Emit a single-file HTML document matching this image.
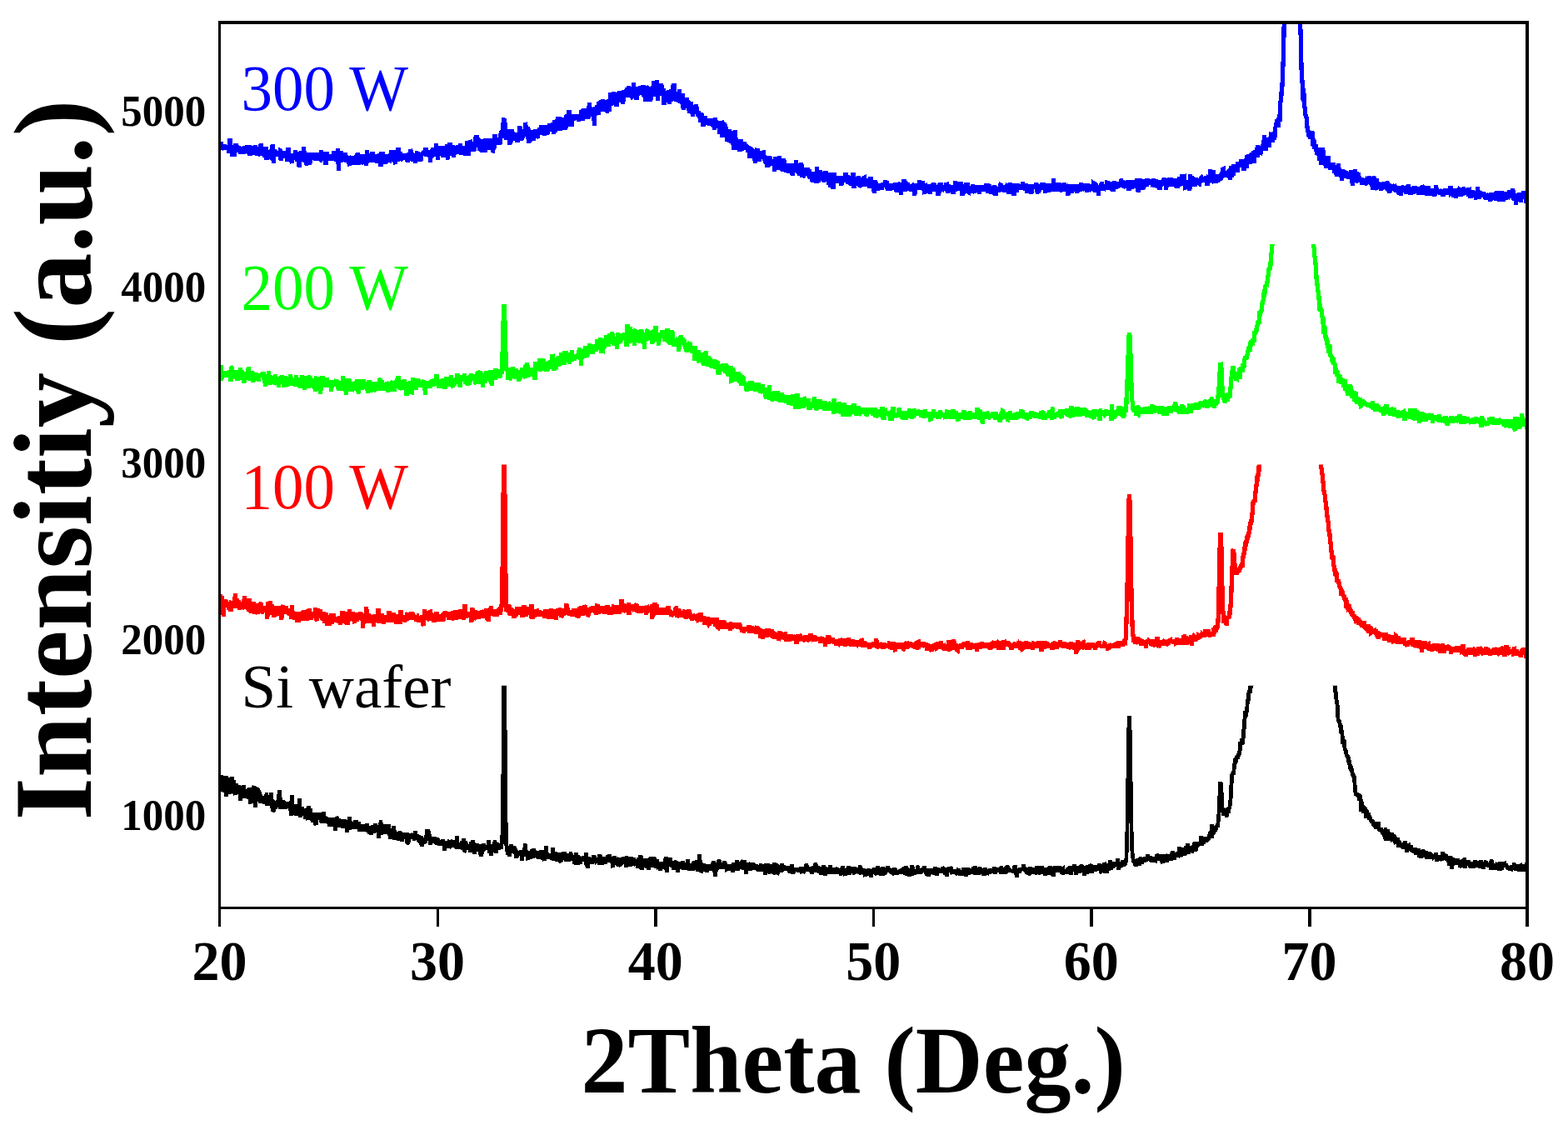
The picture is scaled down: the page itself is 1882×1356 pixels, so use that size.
<!DOCTYPE html>
<html><head><meta charset="utf-8"><title>XRD</title>
<style>
html,body{margin:0;padding:0;background:#fff;}
svg{display:block;}
text{font-family:"Liberation Serif","Times New Roman",serif;}
</style></head>
<body>
<svg width="1882" height="1356" viewBox="0 0 1882 1356">
<rect x="0" y="0" width="1882" height="1356" fill="#fff"/>
<defs><clipPath id="c0"><rect x="263.5" y="27.0" width="1569.5" height="1062.5"/></clipPath><clipPath id="c1"><rect x="263.5" y="292.9" width="1569.5" height="796.6"/></clipPath><clipPath id="c2"><rect x="263.5" y="557.6" width="1569.5" height="531.9"/></clipPath><clipPath id="c3"><rect x="263.5" y="822.7" width="1569.5" height="266.79999999999995"/></clipPath></defs>
<g clip-path="url(#c0)"><polyline shape-rendering="crispEdges" fill="none" stroke="#0000ff" stroke-width="5.3" stroke-linejoin="miter" stroke-miterlimit="2" points="263.5,177.0 264.0,179.2 264.5,177.2 265.1,170.1 265.6,180.0 266.1,178.1 266.6,173.9 267.2,178.9 267.7,178.1 268.2,177.9 268.7,176.9 269.3,179.3 269.8,173.7 270.3,176.4 270.8,175.1 271.3,180.0 271.9,177.6 272.4,176.3 272.9,174.2 273.4,176.6 274.0,177.9 274.5,176.8 275.0,183.8 275.5,182.6 276.1,166.3 276.6,170.0 277.1,177.7 277.6,176.7 278.1,179.6 278.7,179.7 279.2,188.3 279.7,174.0 280.2,177.4 280.8,188.2 281.3,182.1 281.8,182.3 282.3,177.1 282.9,172.1 283.4,180.3 283.9,180.1 284.4,174.2 284.9,176.7 285.5,179.5 286.0,175.7 286.5,179.5 287.0,180.5 287.6,180.3 288.1,177.9 288.6,182.9 289.1,184.3 289.7,181.8 290.2,176.7 290.7,183.7 291.2,178.3 291.7,184.5 292.3,175.8 292.8,184.7 293.3,180.6 293.8,175.2 294.4,179.4 294.9,181.1 295.4,182.1 295.9,176.5 296.4,176.0 297.0,181.9 297.5,179.0 298.0,182.2 298.5,184.6 299.1,173.8 299.6,182.4 300.1,186.8 300.6,180.0 301.2,177.7 301.7,184.8 302.2,182.6 302.7,185.5 303.2,180.0 303.8,174.9 304.3,181.2 304.8,179.7 305.3,185.2 305.9,182.7 306.4,174.5 306.9,176.5 307.4,185.9 308.0,185.1 308.5,179.2 309.0,182.1 309.5,184.2 310.0,184.3 310.6,186.2 311.1,183.5 311.6,182.0 312.1,181.3 312.7,187.3 313.2,172.4 313.7,182.0 314.2,182.9 314.8,176.4 315.3,184.4 315.8,180.0 316.3,186.9 316.8,182.5 317.4,186.2 317.9,188.8 318.4,185.0 318.9,179.4 319.5,176.6 320.0,191.5 320.5,183.1 321.0,180.6 321.6,184.4 322.1,183.0 322.6,187.8 323.1,184.1 323.6,184.1 324.2,180.9 324.7,186.3 325.2,179.6 325.7,187.4 326.3,191.4 326.8,177.6 327.3,173.4 327.8,187.5 328.4,196.3 328.9,180.2 329.4,179.2 329.9,187.6 330.4,181.2 331.0,182.8 331.5,183.5 332.0,187.6 332.5,183.4 333.1,186.6 333.6,184.6 334.1,181.6 334.6,184.0 335.2,181.2 335.7,185.7 336.2,180.5 336.7,180.7 337.2,192.5 337.8,185.6 338.3,185.7 338.8,188.3 339.3,184.1 339.9,185.0 340.4,188.1 340.9,187.5 341.4,180.9 342.0,190.1 342.5,183.7 343.0,181.6 343.5,182.3 344.0,184.7 344.6,194.1 345.1,181.2 345.6,187.4 346.1,176.9 346.7,186.8 347.2,191.0 347.7,185.8 348.2,184.1 348.7,188.1 349.3,190.3 349.8,190.2 350.3,196.3 350.8,188.2 351.4,184.5 351.9,186.7 352.4,187.0 352.9,187.9 353.5,187.3 354.0,188.3 354.5,179.8 355.0,191.4 355.5,185.0 356.1,182.3 356.6,190.7 357.1,193.9 357.6,190.1 358.2,188.6 358.7,183.6 359.2,201.2 359.7,192.0 360.3,182.7 360.8,184.4 361.3,188.5 361.8,180.9 362.3,189.0 362.9,186.1 363.4,194.0 363.9,192.8 364.4,175.8 365.0,188.6 365.5,180.9 366.0,193.6 366.5,189.3 367.1,191.1 367.6,183.7 368.1,197.2 368.6,198.1 369.1,183.8 369.7,190.5 370.2,185.7 370.7,188.7 371.2,183.0 371.8,197.6 372.3,184.4 372.8,187.6 373.3,191.4 373.9,186.0 374.4,188.0 374.9,186.5 375.4,188.5 375.9,183.7 376.5,187.1 377.0,188.3 377.5,187.7 378.0,189.5 378.6,187.9 379.1,192.8 379.6,187.8 380.1,188.7 380.7,186.3 381.2,186.9 381.7,183.5 382.2,191.8 382.7,184.1 383.3,185.9 383.8,191.1 384.3,191.4 384.8,187.6 385.4,180.0 385.9,191.5 386.4,190.7 386.9,182.9 387.5,193.1 388.0,186.2 388.5,184.2 389.0,190.0 389.5,188.7 390.1,190.5 390.6,182.0 391.1,198.1 391.6,186.7 392.2,182.3 392.7,192.5 393.2,187.9 393.7,191.1 394.3,188.0 394.8,189.3 395.3,190.8 395.8,186.1 396.3,192.8 396.9,187.4 397.4,185.5 397.9,190.0 398.4,191.8 399.0,188.6 399.5,185.6 400.0,192.6 400.5,181.4 401.0,184.8 401.6,189.9 402.1,183.3 402.6,189.9 403.1,189.5 403.7,194.0 404.2,185.4 404.7,186.8 405.2,191.4 405.8,178.2 406.3,204.5 406.8,186.5 407.3,186.4 407.8,194.0 408.4,189.7 408.9,181.5 409.4,193.0 409.9,194.1 410.5,187.9 411.0,188.7 411.5,192.4 412.0,185.8 412.6,192.3 413.1,191.2 413.6,187.1 414.1,183.7 414.6,189.3 415.2,186.3 415.7,195.2 416.2,191.2 416.7,194.3 417.3,191.3 417.8,191.9 418.3,187.0 418.8,193.9 419.4,199.3 419.9,189.4 420.4,188.0 420.9,190.2 421.4,188.7 422.0,187.6 422.5,191.7 423.0,189.7 423.5,198.0 424.1,191.1 424.6,192.7 425.1,195.7 425.6,189.8 426.2,198.1 426.7,188.2 427.2,187.4 427.7,189.5 428.2,190.7 428.8,184.6 429.3,191.1 429.8,183.3 430.3,198.0 430.9,190.9 431.4,188.2 431.9,186.9 432.4,189.4 433.0,190.2 433.5,186.2 434.0,186.8 434.5,190.3 435.0,188.7 435.6,195.7 436.1,196.6 436.6,191.2 437.1,193.4 437.7,184.7 438.2,194.1 438.7,190.9 439.2,193.4 439.8,198.7 440.3,180.1 440.8,192.2 441.3,185.7 441.8,193.7 442.4,184.6 442.9,188.5 443.4,191.8 443.9,193.7 444.5,191.1 445.0,187.0 445.5,188.1 446.0,194.9 446.6,190.6 447.1,182.6 447.6,194.6 448.1,192.5 448.6,194.7 449.2,188.9 449.7,194.4 450.2,185.4 450.7,193.1 451.3,188.0 451.8,193.5 452.3,195.0 452.8,186.7 453.3,190.0 453.9,190.3 454.4,195.8 454.9,193.5 455.4,184.3 456.0,192.2 456.5,193.5 457.0,200.0 457.5,181.9 458.1,187.3 458.6,196.1 459.1,183.3 459.6,184.0 460.1,192.1 460.7,194.4 461.2,186.4 461.7,192.0 462.2,190.0 462.8,196.5 463.3,189.3 463.8,193.9 464.3,184.9 464.9,188.3 465.4,188.6 465.9,194.4 466.4,191.7 466.9,185.3 467.5,192.1 468.0,192.4 468.5,188.2 469.0,187.4 469.6,187.7 470.1,180.6 470.6,189.4 471.1,189.5 471.7,184.3 472.2,191.8 472.7,181.8 473.2,185.6 473.7,185.9 474.3,197.4 474.8,180.5 475.3,190.6 475.8,192.4 476.4,189.7 476.9,193.4 477.4,183.1 477.9,177.0 478.5,191.3 479.0,182.0 479.5,186.1 480.0,182.0 480.5,192.4 481.1,191.5 481.6,184.1 482.1,191.6 482.6,187.9 483.2,186.6 483.7,187.5 484.2,186.3 484.7,190.1 485.3,188.6 485.8,185.5 486.3,191.8 486.8,184.2 487.3,188.3 487.9,188.9 488.4,193.8 488.9,184.5 489.4,195.0 490.0,187.6 490.5,185.8 491.0,183.6 491.5,189.4 492.1,186.9 492.6,181.4 493.1,181.3 493.6,183.9 494.1,183.3 494.7,191.5 495.2,192.8 495.7,190.4 496.2,187.9 496.8,184.2 497.3,186.4 497.8,190.2 498.3,196.0 498.9,190.3 499.4,184.7 499.9,186.1 500.4,183.6 500.9,182.2 501.5,184.9 502.0,186.6 502.5,194.2 503.0,185.8 503.6,191.8 504.1,193.6 504.6,185.7 505.1,192.8 505.6,188.5 506.2,183.2 506.7,186.3 507.2,185.1 507.7,183.8 508.3,183.9 508.8,185.4 509.3,186.7 509.8,180.5 510.4,184.5 510.9,177.4 511.4,185.5 511.9,187.1 512.4,184.9 513.0,185.4 513.5,186.7 514.0,180.8 514.5,182.7 515.1,186.1 515.6,188.3 516.1,185.4 516.6,195.2 517.2,183.0 517.7,187.9 518.2,189.0 518.7,182.5 519.2,179.3 519.8,177.5 520.3,183.6 520.8,187.9 521.3,184.0 521.9,183.4 522.4,180.8 522.9,185.1 523.4,172.6 524.0,183.4 524.5,182.4 525.0,175.9 525.5,192.1 526.0,175.7 526.6,177.0 527.1,176.4 527.6,187.0 528.1,177.7 528.7,184.8 529.2,184.4 529.7,182.8 530.2,175.5 530.8,178.7 531.3,189.1 531.8,175.4 532.3,177.5 532.8,180.5 533.4,184.9 533.9,182.3 534.4,184.5 534.9,176.1 535.5,185.3 536.0,183.5 536.5,173.5 537.0,187.9 537.6,191.3 538.1,177.1 538.6,180.9 539.1,187.0 539.6,173.7 540.2,171.3 540.7,174.4 541.2,177.7 541.7,177.6 542.3,183.0 542.8,181.4 543.3,174.4 543.8,182.7 544.4,188.6 544.9,185.5 545.4,184.5 545.9,179.9 546.4,184.3 547.0,175.3 547.5,183.1 548.0,179.2 548.5,184.8 549.1,181.6 549.6,174.4 550.1,180.0 550.6,184.9 551.2,174.1 551.7,176.6 552.2,175.6 552.7,172.2 553.2,183.5 553.8,185.0 554.3,182.6 554.8,180.0 555.3,178.6 555.9,179.9 556.4,175.4 556.9,182.8 557.4,183.5 557.9,182.9 558.5,176.1 559.0,178.9 559.5,177.7 560.0,186.6 560.6,179.1 561.1,169.6 561.6,180.0 562.1,186.8 562.7,181.2 563.2,182.0 563.7,178.1 564.2,168.8 564.7,169.4 565.3,172.0 565.8,177.0 566.3,178.9 566.8,180.6 567.4,175.7 567.9,181.6 568.4,175.8 568.9,173.7 569.5,180.8 570.0,172.5 570.5,164.0 571.0,171.6 571.5,176.8 572.1,162.0 572.6,174.4 573.1,174.4 573.6,169.2 574.2,168.8 574.7,173.3 575.2,172.8 575.7,180.9 576.3,176.7 576.8,167.5 577.3,170.7 577.8,177.7 578.3,183.0 578.9,175.9 579.4,175.4 579.9,182.4 580.4,173.6 581.0,172.1 581.5,166.9 582.0,170.8 582.5,183.1 583.1,166.4 583.6,172.8 584.1,166.1 584.6,173.0 585.1,176.4 585.7,171.0 586.2,175.4 586.7,175.2 587.2,173.8 587.8,179.5 588.3,175.1 588.8,170.0 589.3,168.1 589.9,167.2 590.4,173.2 590.9,169.3 591.4,183.3 591.9,179.1 592.5,169.5 593.0,168.8 593.5,178.0 594.0,161.4 594.6,167.9 595.1,174.2 595.6,165.5 596.1,167.3 596.7,167.8 597.2,172.3 597.7,169.8 598.2,170.8 598.7,171.6 599.3,168.8 599.8,173.7 600.3,165.0 600.8,161.6 601.4,159.7 601.9,159.9 602.4,163.1 602.9,165.9 603.5,157.4 604.0,149.3 604.5,143.7 605.0,142.2 605.5,144.3 606.1,149.0 606.6,152.0 607.1,159.2 607.6,168.2 608.2,155.4 608.7,164.4 609.2,155.8 609.7,166.3 610.2,162.0 610.8,155.7 611.3,165.7 611.8,173.5 612.3,165.6 612.9,170.3 613.4,164.6 613.9,154.9 614.4,167.0 615.0,162.8 615.5,157.9 616.0,168.2 616.5,165.8 617.0,162.0 617.6,168.4 618.1,160.3 618.6,167.2 619.1,159.9 619.7,166.6 620.2,159.1 620.7,170.9 621.2,165.2 621.8,170.6 622.3,160.1 622.8,161.7 623.3,167.7 623.8,151.1 624.4,158.8 624.9,168.4 625.4,165.7 625.9,168.0 626.5,162.1 627.0,166.0 627.5,160.0 628.0,157.0 628.6,155.5 629.1,160.6 629.6,160.6 630.1,160.2 630.6,146.7 631.2,153.7 631.7,160.4 632.2,164.1 632.7,160.0 633.3,158.5 633.8,151.9 634.3,171.7 634.8,157.2 635.4,169.9 635.9,169.3 636.4,163.2 636.9,159.2 637.4,162.3 638.0,156.3 638.5,162.7 639.0,161.4 639.5,163.7 640.1,165.5 640.6,168.9 641.1,159.0 641.6,165.4 642.2,156.9 642.7,156.2 643.2,157.4 643.7,155.5 644.2,164.4 644.8,164.0 645.3,165.4 645.8,159.3 646.3,160.5 646.9,156.4 647.4,153.6 647.9,160.8 648.4,159.8 649.0,153.3 649.5,160.9 650.0,150.0 650.5,157.0 651.0,154.8 651.6,155.0 652.1,152.3 652.6,161.5 653.1,159.6 653.7,162.2 654.2,157.2 654.7,150.4 655.2,154.5 655.8,150.5 656.3,157.9 656.8,161.2 657.3,157.0 657.8,152.5 658.4,153.4 658.9,155.8 659.4,148.0 659.9,155.2 660.5,155.3 661.0,151.6 661.5,152.0 662.0,154.5 662.5,149.7 663.1,149.5 663.6,156.8 664.1,154.0 664.6,160.6 665.2,147.9 665.7,143.9 666.2,156.5 666.7,156.4 667.3,148.2 667.8,144.5 668.3,151.0 668.8,142.7 669.3,149.2 669.9,140.2 670.4,149.2 670.9,140.1 671.4,148.8 672.0,156.9 672.5,148.2 673.0,152.9 673.5,146.0 674.1,144.5 674.6,141.4 675.1,153.3 675.6,147.8 676.1,155.7 676.7,142.0 677.2,146.4 677.7,147.6 678.2,153.8 678.8,155.5 679.3,143.4 679.8,140.9 680.3,137.7 680.9,152.3 681.4,145.2 681.9,142.3 682.4,145.0 682.9,132.6 683.5,136.4 684.0,149.1 684.5,146.2 685.0,144.8 685.6,139.0 686.1,146.5 686.6,152.1 687.1,137.3 687.7,143.1 688.2,140.7 688.7,144.3 689.2,142.4 689.7,141.4 690.3,137.6 690.8,141.6 691.3,138.4 691.8,140.5 692.4,140.7 692.9,144.0 693.4,137.7 693.9,138.7 694.5,145.4 695.0,138.8 695.5,138.3 696.0,143.7 696.5,140.5 697.1,139.4 697.6,139.8 698.1,132.4 698.6,140.5 699.2,144.6 699.7,140.7 700.2,129.9 700.7,138.7 701.3,132.6 701.8,135.7 702.3,137.3 702.8,130.5 703.3,142.8 703.9,135.6 704.4,139.7 704.9,138.6 705.4,141.9 706.0,140.9 706.5,127.4 707.0,134.7 707.5,123.6 708.1,131.8 708.6,137.3 709.1,138.1 709.6,139.7 710.1,131.1 710.7,134.3 711.2,133.0 711.7,138.6 712.2,140.0 712.8,129.9 713.3,150.5 713.8,131.1 714.3,129.0 714.8,133.7 715.4,134.2 715.9,132.9 716.4,126.5 716.9,137.0 717.5,129.6 718.0,136.9 718.5,135.9 719.0,122.0 719.6,123.2 720.1,122.9 720.6,129.0 721.1,127.7 721.6,128.6 722.2,122.8 722.7,128.9 723.2,133.6 723.7,119.3 724.3,124.9 724.8,126.9 725.3,124.7 725.8,124.1 726.4,134.0 726.9,131.2 727.4,128.7 727.9,120.2 728.4,135.4 729.0,125.5 729.5,120.4 730.0,121.4 730.5,120.4 731.1,133.6 731.6,123.5 732.1,122.5 732.6,110.7 733.2,125.5 733.7,115.9 734.2,115.3 734.7,124.1 735.2,116.1 735.8,124.7 736.3,126.0 736.8,110.5 737.3,118.9 737.9,111.1 738.4,118.8 738.9,123.6 739.4,111.5 740.0,127.8 740.5,116.5 741.0,111.7 741.5,117.0 742.0,121.5 742.6,109.9 743.1,116.9 743.6,109.4 744.1,122.8 744.7,117.0 745.2,113.7 745.7,121.2 746.2,108.7 746.8,113.2 747.3,124.9 747.8,114.2 748.3,121.9 748.8,115.5 749.4,110.6 749.9,112.8 750.4,114.3 750.9,111.6 751.5,109.2 752.0,109.2 752.5,105.3 753.0,113.7 753.6,115.0 754.1,116.8 754.6,102.9 755.1,116.7 755.6,112.2 756.2,104.5 756.7,112.5 757.2,116.2 757.7,114.4 758.3,115.4 758.8,116.4 759.3,116.0 759.8,110.8 760.4,99.6 760.9,106.6 761.4,112.5 761.9,107.9 762.4,114.0 763.0,114.5 763.5,110.3 764.0,120.1 764.5,104.6 765.1,114.8 765.6,107.1 766.1,105.4 766.6,112.7 767.1,106.1 767.7,114.1 768.2,103.1 768.7,109.6 769.2,104.8 769.8,108.1 770.3,107.4 770.8,103.2 771.3,113.0 771.9,102.6 772.4,104.1 772.9,114.3 773.4,114.8 773.9,113.2 774.5,111.4 775.0,122.1 775.5,102.9 776.0,105.5 776.6,104.2 777.1,114.6 777.6,111.3 778.1,115.9 778.7,115.2 779.2,108.6 779.7,105.3 780.2,104.4 780.7,122.2 781.3,115.3 781.8,113.3 782.3,108.2 782.8,109.0 783.4,108.3 783.9,108.4 784.4,96.9 784.9,110.0 785.5,108.2 786.0,112.0 786.5,111.6 787.0,115.3 787.5,110.5 788.1,115.1 788.6,96.4 789.1,104.6 789.6,120.5 790.2,104.1 790.7,109.4 791.2,115.0 791.7,106.2 792.3,115.2 792.8,103.3 793.3,100.7 793.8,104.1 794.3,102.4 794.9,111.6 795.4,110.0 795.9,113.7 796.4,106.2 797.0,126.2 797.5,111.7 798.0,112.1 798.5,114.9 799.1,111.2 799.6,109.2 800.1,113.3 800.6,118.0 801.1,116.7 801.7,118.3 802.2,110.2 802.7,109.2 803.2,124.6 803.8,112.4 804.3,116.5 804.8,118.1 805.3,122.0 805.9,107.1 806.4,112.0 806.9,112.4 807.4,113.3 807.9,102.1 808.5,114.9 809.0,99.9 809.5,117.4 810.0,119.0 810.6,119.5 811.1,110.0 811.6,121.9 812.1,112.3 812.7,110.6 813.2,112.2 813.7,113.2 814.2,118.9 814.7,122.7 815.3,107.2 815.8,115.9 816.3,123.9 816.8,120.4 817.4,122.3 817.9,111.9 818.4,125.3 818.9,112.2 819.4,121.9 820.0,128.5 820.5,131.7 821.0,124.8 821.5,127.1 822.1,119.6 822.6,120.7 823.1,129.9 823.6,124.1 824.2,123.9 824.7,117.5 825.2,126.2 825.7,129.3 826.2,122.2 826.8,124.2 827.3,135.6 827.8,128.7 828.3,126.7 828.9,122.7 829.4,125.9 829.9,128.3 830.4,137.2 831.0,127.3 831.5,140.3 832.0,126.5 832.5,130.0 833.0,136.6 833.6,131.4 834.1,128.8 834.6,132.8 835.1,136.3 835.7,125.5 836.2,133.6 836.7,134.7 837.2,133.7 837.8,140.0 838.3,133.7 838.8,135.3 839.3,137.8 839.8,141.8 840.4,137.4 840.9,146.7 841.4,134.7 841.9,146.4 842.5,135.9 843.0,139.9 843.5,143.0 844.0,152.0 844.6,146.5 845.1,140.3 845.6,149.4 846.1,142.0 846.6,139.5 847.2,146.1 847.7,144.7 848.2,149.4 848.7,142.1 849.3,147.1 849.8,148.6 850.3,147.1 850.8,145.8 851.4,142.7 851.9,151.0 852.4,147.4 852.9,149.4 853.4,145.4 854.0,147.4 854.5,142.4 855.0,148.2 855.5,151.8 856.1,148.7 856.6,152.7 857.1,150.2 857.6,155.6 858.2,148.1 858.7,141.1 859.2,151.7 859.7,149.0 860.2,145.2 860.8,153.5 861.3,151.9 861.8,153.1 862.3,149.6 862.9,152.5 863.4,153.1 863.9,161.0 864.4,149.3 865.0,153.0 865.5,155.2 866.0,145.4 866.5,146.4 867.0,165.3 867.6,146.5 868.1,158.5 868.6,152.0 869.1,152.9 869.7,147.5 870.2,153.2 870.7,162.0 871.2,151.9 871.7,162.1 872.3,161.2 872.8,170.0 873.3,158.5 873.8,167.4 874.4,166.1 874.9,161.0 875.4,154.9 875.9,170.7 876.5,157.4 877.0,162.3 877.5,169.3 878.0,170.9 878.5,162.1 879.1,166.5 879.6,165.9 880.1,173.3 880.6,180.1 881.2,159.9 881.7,173.5 882.2,155.9 882.7,170.1 883.3,165.2 883.8,180.3 884.3,172.1 884.8,168.2 885.3,169.7 885.9,169.8 886.4,173.7 886.9,172.5 887.4,176.7 888.0,181.2 888.5,177.6 889.0,168.8 889.5,167.3 890.1,171.7 890.6,180.6 891.1,174.4 891.6,173.2 892.1,177.3 892.7,170.3 893.2,171.9 893.7,179.9 894.2,176.5 894.8,176.1 895.3,180.0 895.8,176.1 896.3,175.9 896.9,177.3 897.4,182.5 897.9,180.3 898.4,174.8 898.9,179.2 899.5,183.8 900.0,189.8 900.5,176.2 901.0,183.3 901.6,180.8 902.1,186.1 902.6,184.6 903.1,189.6 903.7,185.5 904.2,180.9 904.7,181.2 905.2,185.8 905.7,186.0 906.3,195.4 906.8,192.3 907.3,179.6 907.8,186.8 908.4,179.4 908.9,178.2 909.4,189.4 909.9,188.8 910.5,181.8 911.0,194.2 911.5,182.6 912.0,182.0 912.5,190.5 913.1,188.8 913.6,187.3 914.1,188.0 914.6,189.6 915.2,188.2 915.7,188.3 916.2,180.8 916.7,183.5 917.3,192.5 917.8,186.9 918.3,192.7 918.8,196.0 919.3,189.2 919.9,192.2 920.4,200.5 920.9,194.5 921.4,199.9 922.0,198.7 922.5,195.5 923.0,191.9 923.5,188.9 924.0,187.9 924.6,195.2 925.1,195.3 925.6,192.7 926.1,197.4 926.7,191.2 927.2,199.0 927.7,194.5 928.2,194.4 928.8,194.7 929.3,194.5 929.8,206.1 930.3,188.3 930.8,196.3 931.4,201.2 931.9,199.1 932.4,194.8 932.9,203.9 933.5,191.9 934.0,191.0 934.5,199.4 935.0,190.7 935.6,186.9 936.1,201.3 936.6,200.9 937.1,200.9 937.6,195.8 938.2,198.9 938.7,194.1 939.2,205.9 939.7,202.0 940.3,202.0 940.8,190.5 941.3,202.6 941.8,205.7 942.4,204.6 942.9,203.0 943.4,199.7 943.9,198.4 944.4,202.6 945.0,201.8 945.5,201.3 946.0,199.2 946.5,207.8 947.1,195.8 947.6,200.8 948.1,198.6 948.6,205.6 949.2,207.5 949.7,206.8 950.2,204.9 950.7,195.9 951.2,210.8 951.8,204.3 952.3,201.8 952.8,202.5 953.3,201.1 953.9,204.5 954.4,204.2 954.9,201.5 955.4,192.3 956.0,203.2 956.5,205.5 957.0,205.8 957.5,203.1 958.0,205.8 958.6,208.4 959.1,202.3 959.6,210.5 960.1,196.4 960.7,199.5 961.2,201.1 961.7,194.9 962.2,201.1 962.8,210.6 963.3,210.7 963.8,206.1 964.3,213.0 964.8,207.0 965.4,204.1 965.9,207.4 966.4,206.0 966.9,209.7 967.5,200.7 968.0,211.1 968.5,205.3 969.0,210.9 969.6,201.2 970.1,206.0 970.6,208.2 971.1,211.7 971.6,203.2 972.2,215.1 972.7,210.4 973.2,206.5 973.7,213.8 974.3,209.4 974.8,213.8 975.3,218.7 975.8,212.5 976.3,207.4 976.9,207.9 977.4,212.2 977.9,211.1 978.4,206.7 979.0,207.5 979.5,213.1 980.0,220.0 980.5,200.0 981.1,213.7 981.6,210.0 982.1,214.2 982.6,214.6 983.1,211.5 983.7,207.3 984.2,205.9 984.7,204.1 985.2,216.7 985.8,211.0 986.3,209.8 986.8,211.0 987.3,206.9 987.9,213.6 988.4,217.7 988.9,217.1 989.4,206.5 989.9,218.3 990.5,209.9 991.0,205.5 991.5,208.3 992.0,209.5 992.6,213.4 993.1,209.4 993.6,207.7 994.1,212.7 994.7,221.4 995.2,211.2 995.7,215.9 996.2,214.5 996.7,224.7 997.3,206.9 997.8,218.7 998.3,209.5 998.8,212.3 999.4,214.4 999.9,227.3 1000.4,211.9 1000.9,207.6 1001.5,220.2 1002.0,211.9 1002.5,214.3 1003.0,215.3 1003.5,215.8 1004.1,214.8 1004.6,216.6 1005.1,217.2 1005.6,219.0 1006.2,214.1 1006.7,212.9 1007.2,211.8 1007.7,218.3 1008.3,215.9 1008.8,218.2 1009.3,218.2 1009.8,222.8 1010.3,217.1 1010.9,219.2 1011.4,211.7 1011.9,212.3 1012.4,215.3 1013.0,211.8 1013.5,219.3 1014.0,211.5 1014.5,217.0 1015.1,207.3 1015.6,212.5 1016.1,215.5 1016.6,215.9 1017.1,210.0 1017.7,217.4 1018.2,220.8 1018.7,219.6 1019.2,214.6 1019.8,214.9 1020.3,212.6 1020.8,219.7 1021.3,222.8 1021.9,215.3 1022.4,210.9 1022.9,218.2 1023.4,220.2 1023.9,207.1 1024.5,218.1 1025.0,225.9 1025.5,220.8 1026.0,219.8 1026.6,219.3 1027.1,221.9 1027.6,214.3 1028.1,214.7 1028.6,219.6 1029.2,215.5 1029.7,219.1 1030.2,210.9 1030.7,221.2 1031.3,221.6 1031.8,218.6 1032.3,219.1 1032.8,224.7 1033.4,214.5 1033.9,215.2 1034.4,214.6 1034.9,217.2 1035.4,215.0 1036.0,219.1 1036.5,216.5 1037.0,213.6 1037.5,213.3 1038.1,223.8 1038.6,219.0 1039.1,218.5 1039.6,219.6 1040.2,219.2 1040.7,222.5 1041.2,221.8 1041.7,217.5 1042.2,216.7 1042.8,215.8 1043.3,215.2 1043.8,225.4 1044.3,216.7 1044.9,212.6 1045.4,217.1 1045.9,217.4 1046.4,221.7 1047.0,217.1 1047.5,222.6 1048.0,222.1 1048.5,225.5 1049.0,228.9 1049.6,231.6 1050.1,226.0 1050.6,216.6 1051.1,219.5 1051.7,222.0 1052.2,228.9 1052.7,223.8 1053.2,225.8 1053.8,220.7 1054.3,223.6 1054.8,224.2 1055.3,219.8 1055.8,224.5 1056.4,225.7 1056.9,221.1 1057.4,225.6 1057.9,228.0 1058.5,222.1 1059.0,221.9 1059.5,220.8 1060.0,219.7 1060.6,222.7 1061.1,220.6 1061.6,221.1 1062.1,219.4 1062.6,216.6 1063.2,218.9 1063.7,223.7 1064.2,218.1 1064.7,220.1 1065.3,228.7 1065.8,226.9 1066.3,220.1 1066.8,225.0 1067.4,220.4 1067.9,228.9 1068.4,220.7 1068.9,223.3 1069.4,228.2 1070.0,220.0 1070.5,228.0 1071.0,220.1 1071.5,224.1 1072.1,222.2 1072.6,223.0 1073.1,223.9 1073.6,223.1 1074.2,219.7 1074.7,226.7 1075.2,226.2 1075.7,228.3 1076.2,228.7 1076.8,218.7 1077.3,228.5 1077.8,228.5 1078.3,221.8 1078.9,227.7 1079.4,229.3 1079.9,221.9 1080.4,218.9 1080.9,222.7 1081.5,234.3 1082.0,225.0 1082.5,219.7 1083.0,223.3 1083.6,220.6 1084.1,222.8 1084.6,224.7 1085.1,215.0 1085.7,225.7 1086.2,229.6 1086.7,223.8 1087.2,223.1 1087.7,228.6 1088.3,220.0 1088.8,220.1 1089.3,219.6 1089.8,224.2 1090.4,226.2 1090.9,224.5 1091.4,226.8 1091.9,227.9 1092.5,226.7 1093.0,222.0 1093.5,224.0 1094.0,229.6 1094.5,221.2 1095.1,224.1 1095.6,223.6 1096.1,224.5 1096.6,221.2 1097.2,220.3 1097.7,234.5 1098.2,228.7 1098.7,222.6 1099.3,225.0 1099.8,227.7 1100.3,224.0 1100.8,227.5 1101.3,223.1 1101.9,224.0 1102.4,225.0 1102.9,223.7 1103.4,216.5 1104.0,225.4 1104.5,226.3 1105.0,227.1 1105.5,221.8 1106.1,226.6 1106.6,226.2 1107.1,219.0 1107.6,217.5 1108.1,227.1 1108.7,222.0 1109.2,229.1 1109.7,233.2 1110.2,223.3 1110.8,223.0 1111.3,225.4 1111.8,227.9 1112.3,221.4 1112.9,230.0 1113.4,229.1 1113.9,227.9 1114.4,223.6 1114.9,228.8 1115.5,228.6 1116.0,221.2 1116.5,233.0 1117.0,224.4 1117.6,226.9 1118.1,223.7 1118.6,226.9 1119.1,229.7 1119.7,222.7 1120.2,219.6 1120.7,223.9 1121.2,220.9 1121.7,222.9 1122.3,225.1 1122.8,225.3 1123.3,230.2 1123.8,222.0 1124.4,226.9 1124.9,223.8 1125.4,230.5 1125.9,234.6 1126.5,226.7 1127.0,231.6 1127.5,223.7 1128.0,219.9 1128.5,221.1 1129.1,220.0 1129.6,222.2 1130.1,224.8 1130.6,229.7 1131.2,228.1 1131.7,227.3 1132.2,224.2 1132.7,223.1 1133.2,225.8 1133.8,226.2 1134.3,226.6 1134.8,227.0 1135.3,225.3 1135.9,218.9 1136.4,221.7 1136.9,222.8 1137.4,231.7 1138.0,224.2 1138.5,228.1 1139.0,230.9 1139.5,226.9 1140.0,224.3 1140.6,224.7 1141.1,222.1 1141.6,226.8 1142.1,229.7 1142.7,227.7 1143.2,228.5 1143.7,228.3 1144.2,232.8 1144.8,223.5 1145.3,226.3 1145.8,228.2 1146.3,230.1 1146.8,217.3 1147.4,223.9 1147.9,225.1 1148.4,222.2 1148.9,228.8 1149.5,226.6 1150.0,224.4 1150.5,220.1 1151.0,221.2 1151.6,222.4 1152.1,227.5 1152.6,221.6 1153.1,218.6 1153.6,220.8 1154.2,223.9 1154.7,231.8 1155.2,234.7 1155.7,224.3 1156.3,229.3 1156.8,230.9 1157.3,230.5 1157.8,225.6 1158.4,221.5 1158.9,224.4 1159.4,219.6 1159.9,227.0 1160.4,228.9 1161.0,219.5 1161.5,226.0 1162.0,227.2 1162.5,230.6 1163.1,231.0 1163.6,229.0 1164.1,223.8 1164.6,224.9 1165.2,230.4 1165.7,224.1 1166.2,226.1 1166.7,231.7 1167.2,226.6 1167.8,221.4 1168.3,225.2 1168.8,228.4 1169.3,225.5 1169.9,230.3 1170.4,230.7 1170.9,223.9 1171.4,224.4 1172.0,225.8 1172.5,221.9 1173.0,227.5 1173.5,225.5 1174.0,228.9 1174.6,224.0 1175.1,223.0 1175.6,232.6 1176.1,223.0 1176.7,224.1 1177.2,223.5 1177.7,225.0 1178.2,222.9 1178.8,225.9 1179.3,223.6 1179.8,224.6 1180.3,227.3 1180.8,228.5 1181.4,227.7 1181.9,223.4 1182.4,227.4 1182.9,225.6 1183.5,225.6 1184.0,219.9 1184.5,228.3 1185.0,225.5 1185.5,232.0 1186.1,228.2 1186.6,222.0 1187.1,221.1 1187.6,230.0 1188.2,222.8 1188.7,228.3 1189.2,224.8 1189.7,233.3 1190.3,226.1 1190.8,231.2 1191.3,230.5 1191.8,224.2 1192.3,224.7 1192.9,231.0 1193.4,225.8 1193.9,222.7 1194.4,230.0 1195.0,234.9 1195.5,225.6 1196.0,230.7 1196.5,225.2 1197.1,230.6 1197.6,224.9 1198.1,230.5 1198.6,227.7 1199.1,225.1 1199.7,226.6 1200.2,223.8 1200.7,221.8 1201.2,222.0 1201.8,225.5 1202.3,222.0 1202.8,227.3 1203.3,227.6 1203.9,227.4 1204.4,224.0 1204.9,225.9 1205.4,225.6 1205.9,230.4 1206.5,222.8 1207.0,224.3 1207.5,224.9 1208.0,225.2 1208.6,223.0 1209.1,223.4 1209.6,229.2 1210.1,223.4 1210.7,228.9 1211.2,232.8 1211.7,230.1 1212.2,219.2 1212.7,228.3 1213.3,227.3 1213.8,227.5 1214.3,219.8 1214.8,228.2 1215.4,221.7 1215.9,230.1 1216.4,229.3 1216.9,234.5 1217.5,224.1 1218.0,220.0 1218.5,229.1 1219.0,228.5 1219.5,224.0 1220.1,230.2 1220.6,227.8 1221.1,220.8 1221.6,224.1 1222.2,223.7 1222.7,224.9 1223.2,226.0 1223.7,222.8 1224.3,224.5 1224.8,227.3 1225.3,224.9 1225.8,224.2 1226.3,224.1 1226.9,224.8 1227.4,218.3 1227.9,225.7 1228.4,221.4 1229.0,225.5 1229.5,219.8 1230.0,228.3 1230.5,225.9 1231.1,220.2 1231.6,225.9 1232.1,222.3 1232.6,231.4 1233.1,226.7 1233.7,222.1 1234.2,225.7 1234.7,224.8 1235.2,229.2 1235.8,226.2 1236.3,226.7 1236.8,220.9 1237.3,227.7 1237.8,232.3 1238.4,227.1 1238.9,224.7 1239.4,225.4 1239.9,221.4 1240.5,225.4 1241.0,220.9 1241.5,224.9 1242.0,223.4 1242.6,221.8 1243.1,226.8 1243.6,219.4 1244.1,224.6 1244.6,220.0 1245.2,231.2 1245.7,231.7 1246.2,227.7 1246.7,231.4 1247.3,226.8 1247.8,226.6 1248.3,223.1 1248.8,221.4 1249.4,225.1 1249.9,222.7 1250.4,223.0 1250.9,227.2 1251.4,224.1 1252.0,219.0 1252.5,223.8 1253.0,221.8 1253.5,223.5 1254.1,220.6 1254.6,228.8 1255.1,231.3 1255.6,220.6 1256.2,226.9 1256.7,226.7 1257.2,220.7 1257.7,224.9 1258.2,229.6 1258.8,227.6 1259.3,230.3 1259.8,220.3 1260.3,221.9 1260.9,225.6 1261.4,225.8 1261.9,224.6 1262.4,223.1 1263.0,223.0 1263.5,222.3 1264.0,226.1 1264.5,214.6 1265.0,230.2 1265.6,222.6 1266.1,219.4 1266.6,226.5 1267.1,219.5 1267.7,225.9 1268.2,223.1 1268.7,226.6 1269.2,227.3 1269.8,229.1 1270.3,222.7 1270.8,223.5 1271.3,224.5 1271.8,219.4 1272.4,226.6 1272.9,225.0 1273.4,219.7 1273.9,228.9 1274.5,229.4 1275.0,219.8 1275.5,226.6 1276.0,229.0 1276.6,227.5 1277.1,221.0 1277.6,219.5 1278.1,224.1 1278.6,222.8 1279.2,224.5 1279.7,224.2 1280.2,226.4 1280.7,222.5 1281.3,224.0 1281.8,235.2 1282.3,224.1 1282.8,227.2 1283.4,225.6 1283.9,225.4 1284.4,221.3 1284.9,226.5 1285.4,224.4 1286.0,227.5 1286.5,232.0 1287.0,225.3 1287.5,227.3 1288.1,220.9 1288.6,225.0 1289.1,230.2 1289.6,224.4 1290.1,222.3 1290.7,225.4 1291.2,224.0 1291.7,223.8 1292.2,223.3 1292.8,231.8 1293.3,221.5 1293.8,223.1 1294.3,222.6 1294.9,229.1 1295.4,223.6 1295.9,229.3 1296.4,225.2 1296.9,224.6 1297.5,219.4 1298.0,229.0 1298.5,226.6 1299.0,226.1 1299.6,224.2 1300.1,223.2 1300.6,220.1 1301.1,228.1 1301.7,225.6 1302.2,223.4 1302.7,222.4 1303.2,225.1 1303.7,224.3 1304.3,230.6 1304.8,227.5 1305.3,222.5 1305.8,220.7 1306.4,223.8 1306.9,221.4 1307.4,224.9 1307.9,226.1 1308.5,226.9 1309.0,226.1 1309.5,223.9 1310.0,226.8 1310.5,221.4 1311.1,224.3 1311.6,227.5 1312.1,225.6 1312.6,220.0 1313.2,220.4 1313.7,218.7 1314.2,231.0 1314.7,218.9 1315.3,223.9 1315.8,231.0 1316.3,228.3 1316.8,229.1 1317.3,222.5 1317.9,227.0 1318.4,235.3 1318.9,224.1 1319.4,225.7 1320.0,223.0 1320.5,224.1 1321.0,225.4 1321.5,229.1 1322.1,220.7 1322.6,218.8 1323.1,224.0 1323.6,224.6 1324.1,228.9 1324.7,226.4 1325.2,221.5 1325.7,225.8 1326.2,227.7 1326.8,224.7 1327.3,222.3 1327.8,226.0 1328.3,222.2 1328.9,216.7 1329.4,228.2 1329.9,218.7 1330.4,222.1 1330.9,222.1 1331.5,222.0 1332.0,222.1 1332.5,217.9 1333.0,224.9 1333.6,223.1 1334.1,223.1 1334.6,226.8 1335.1,226.8 1335.7,227.6 1336.2,229.5 1336.7,224.3 1337.2,217.1 1337.7,223.4 1338.3,222.6 1338.8,222.8 1339.3,220.3 1339.8,219.2 1340.4,225.3 1340.9,225.9 1341.4,218.2 1341.9,224.2 1342.4,221.6 1343.0,220.7 1343.5,224.6 1344.0,221.9 1344.5,220.0 1345.1,222.2 1345.6,214.7 1346.1,219.8 1346.6,220.3 1347.2,216.7 1347.7,222.4 1348.2,222.7 1348.7,219.5 1349.2,221.1 1349.8,224.1 1350.3,225.5 1350.8,218.8 1351.3,222.8 1351.9,225.3 1352.4,221.4 1352.9,218.7 1353.4,218.6 1354.0,220.2 1354.5,217.6 1355.0,228.7 1355.5,219.3 1356.0,222.7 1356.6,222.0 1357.1,223.6 1357.6,219.8 1358.1,216.5 1358.7,227.2 1359.2,220.9 1359.7,221.6 1360.2,221.9 1360.8,225.7 1361.3,223.9 1361.8,225.4 1362.3,224.1 1362.8,221.6 1363.4,222.0 1363.9,218.3 1364.4,213.9 1364.9,220.1 1365.5,217.1 1366.0,230.4 1366.5,226.6 1367.0,225.2 1367.6,218.9 1368.1,228.4 1368.6,214.6 1369.1,216.4 1369.6,218.0 1370.2,217.3 1370.7,221.3 1371.2,221.5 1371.7,227.8 1372.3,224.4 1372.8,225.2 1373.3,222.3 1373.8,220.2 1374.4,218.2 1374.9,215.2 1375.4,217.5 1375.9,219.3 1376.4,223.4 1377.0,214.5 1377.5,215.6 1378.0,221.4 1378.5,216.8 1379.1,221.8 1379.6,219.1 1380.1,217.8 1380.6,215.7 1381.2,220.2 1381.7,217.8 1382.2,218.3 1382.7,218.2 1383.2,221.2 1383.8,221.0 1384.3,214.2 1384.8,219.8 1385.3,221.9 1385.9,224.2 1386.4,223.3 1386.9,221.1 1387.4,216.2 1388.0,217.5 1388.5,223.7 1389.0,217.7 1389.5,224.1 1390.0,224.9 1390.6,216.4 1391.1,221.9 1391.6,219.8 1392.1,227.6 1392.7,223.3 1393.2,218.3 1393.7,221.7 1394.2,216.8 1394.7,219.6 1395.3,220.9 1395.8,220.6 1396.3,221.2 1396.8,216.7 1397.4,213.2 1397.9,218.7 1398.4,216.7 1398.9,217.4 1399.5,227.8 1400.0,224.2 1400.5,219.3 1401.0,214.6 1401.5,215.1 1402.1,221.2 1402.6,223.8 1403.1,218.8 1403.6,220.3 1404.2,220.7 1404.7,223.7 1405.2,212.8 1405.7,220.3 1406.3,221.2 1406.8,223.2 1407.3,221.1 1407.8,215.6 1408.3,217.5 1408.9,214.0 1409.4,220.3 1409.9,220.3 1410.4,221.4 1411.0,216.0 1411.5,215.3 1412.0,225.1 1412.5,220.1 1413.1,225.9 1413.6,221.0 1414.1,214.0 1414.6,222.3 1415.1,223.9 1415.7,217.7 1416.2,212.2 1416.7,221.7 1417.2,218.8 1417.8,220.3 1418.3,209.3 1418.8,220.9 1419.3,209.0 1419.9,216.0 1420.4,222.4 1420.9,212.4 1421.4,212.2 1421.9,217.4 1422.5,225.1 1423.0,224.9 1423.5,216.7 1424.0,222.6 1424.6,221.0 1425.1,219.8 1425.6,220.1 1426.1,216.1 1426.7,221.7 1427.2,222.6 1427.7,228.7 1428.2,222.0 1428.7,209.6 1429.3,214.1 1429.8,219.8 1430.3,218.8 1430.8,211.6 1431.4,217.9 1431.9,217.1 1432.4,218.1 1432.9,217.8 1433.5,221.6 1434.0,223.6 1434.5,220.7 1435.0,214.0 1435.5,214.8 1436.1,215.5 1436.6,217.6 1437.1,216.2 1437.6,216.4 1438.2,214.2 1438.7,221.0 1439.2,220.6 1439.7,220.8 1440.3,216.9 1440.8,218.8 1441.3,213.6 1441.8,213.1 1442.3,214.7 1442.9,218.8 1443.4,216.0 1443.9,212.1 1444.4,216.6 1445.0,217.8 1445.5,216.6 1446.0,213.3 1446.5,216.0 1447.0,214.0 1447.6,214.2 1448.1,215.0 1448.6,218.2 1449.1,222.2 1449.7,221.1 1450.2,217.3 1450.7,213.1 1451.2,213.3 1451.8,213.4 1452.3,218.9 1452.8,203.2 1453.3,215.1 1453.8,205.9 1454.4,213.8 1454.9,219.0 1455.4,209.8 1455.9,204.2 1456.5,218.5 1457.0,219.3 1457.5,215.1 1458.0,218.0 1458.6,209.5 1459.1,217.5 1459.6,219.5 1460.1,215.0 1460.6,213.4 1461.2,217.5 1461.7,216.7 1462.2,208.7 1462.7,217.4 1463.3,214.7 1463.8,212.1 1464.3,216.8 1464.8,215.0 1465.4,214.1 1465.9,208.6 1466.4,214.2 1466.9,205.7 1467.4,209.8 1468.0,202.8 1468.5,202.6 1469.0,211.7 1469.5,209.2 1470.1,209.8 1470.6,211.8 1471.1,210.5 1471.6,204.9 1472.2,208.9 1472.7,208.0 1473.2,205.8 1473.7,207.3 1474.2,206.0 1474.8,204.5 1475.3,205.6 1475.8,207.9 1476.3,215.9 1476.9,202.6 1477.4,208.4 1477.9,199.2 1478.4,212.7 1479.0,203.7 1479.5,205.6 1480.0,210.5 1480.5,208.9 1481.0,197.2 1481.6,206.3 1482.1,202.4 1482.6,206.1 1483.1,203.6 1483.7,206.0 1484.2,203.7 1484.7,201.4 1485.2,207.2 1485.8,194.2 1486.3,199.1 1486.8,196.3 1487.3,199.8 1487.8,198.2 1488.4,199.2 1488.9,197.2 1489.4,197.0 1489.9,191.0 1490.5,198.4 1491.0,199.8 1491.5,195.1 1492.0,194.4 1492.6,194.2 1493.1,205.1 1493.6,197.5 1494.1,198.1 1494.6,194.4 1495.2,193.1 1495.7,190.8 1496.2,202.3 1496.7,186.0 1497.3,195.5 1497.8,193.5 1498.3,192.0 1498.8,185.1 1499.3,186.3 1499.9,196.9 1500.4,188.1 1500.9,195.5 1501.4,194.0 1502.0,193.1 1502.5,193.5 1503.0,183.1 1503.5,186.3 1504.1,191.6 1504.6,181.2 1505.1,195.5 1505.6,183.7 1506.1,185.7 1506.7,180.3 1507.2,186.8 1507.7,180.7 1508.2,182.6 1508.8,177.5 1509.3,188.9 1509.8,173.9 1510.3,184.1 1510.9,182.5 1511.4,183.0 1511.9,175.0 1512.4,185.2 1512.9,184.4 1513.5,179.7 1514.0,180.1 1514.5,177.2 1515.0,181.0 1515.6,173.0 1516.1,179.8 1516.6,178.7 1517.1,168.8 1517.7,162.0 1518.2,174.9 1518.7,174.2 1519.2,181.2 1519.7,174.6 1520.3,171.2 1520.8,166.1 1521.3,172.4 1521.8,169.2 1522.4,165.9 1522.9,170.6 1523.4,176.4 1523.9,170.6 1524.5,163.8 1525.0,170.6 1525.5,162.1 1526.0,158.8 1526.5,169.2 1527.1,162.7 1527.6,170.9 1528.1,165.6 1528.6,158.5 1529.2,163.1 1529.7,167.8 1530.2,158.3 1530.7,152.1 1531.3,152.7 1531.8,150.2 1532.3,146.3 1532.8,143.7 1533.3,151.0 1533.9,152.4 1534.4,141.5 1534.9,144.7 1535.4,141.7 1536.0,142.0 1536.5,127.3 1537.0,121.6 1537.5,119.9 1538.1,111.2 1538.6,104.6 1539.1,102.1 1539.6,83.9 1540.1,76.6 1540.7,52.4 1541.2,30.0 1541.7,12.3 1542.2,-0.0 1542.8,-7.1 1543.3,-17.1 1543.8,-20.4 1544.3,-25.6 1544.9,-45.9 1545.4,-40.5 1545.9,-67.1 1546.4,-62.8 1546.9,-69.6 1547.5,-86.3 1548.0,-92.7 1548.5,-103.8 1549.0,-101.7 1549.6,-129.9 1550.1,-122.1 1550.6,-130.0 1551.1,-118.9 1551.6,-111.2 1552.2,-108.4 1552.7,-106.2 1553.2,-102.1 1553.7,-100.1 1554.3,-80.8 1554.8,-75.1 1555.3,-73.8 1555.8,-66.9 1556.4,-54.1 1556.9,-36.0 1557.4,-26.9 1557.9,-17.0 1558.4,-22.0 1559.0,-10.9 1559.5,8.5 1560.0,13.4 1560.5,29.6 1561.1,38.5 1561.6,66.2 1562.1,83.0 1562.6,93.1 1563.2,100.6 1563.7,99.4 1564.2,121.6 1564.7,117.1 1565.2,111.7 1565.8,129.5 1566.3,128.7 1566.8,137.9 1567.3,138.6 1567.9,140.3 1568.4,143.7 1568.9,152.0 1569.4,156.4 1570.0,156.5 1570.5,158.9 1571.0,163.3 1571.5,159.5 1572.0,164.6 1572.6,166.4 1573.1,163.1 1573.6,162.3 1574.1,161.6 1574.7,158.6 1575.2,157.9 1575.7,174.5 1576.2,168.5 1576.8,166.6 1577.3,179.1 1577.8,176.9 1578.3,173.0 1578.8,179.0 1579.4,173.6 1579.9,177.4 1580.4,186.2 1580.9,183.0 1581.5,176.9 1582.0,182.9 1582.5,186.4 1583.0,180.4 1583.6,179.8 1584.1,192.7 1584.6,182.2 1585.1,177.7 1585.6,186.2 1586.2,198.3 1586.7,190.4 1587.2,192.9 1587.7,177.5 1588.3,186.6 1588.8,196.5 1589.3,188.8 1589.8,198.3 1590.4,194.6 1590.9,194.8 1591.4,201.9 1591.9,191.2 1592.4,191.9 1593.0,195.3 1593.5,196.3 1594.0,187.0 1594.5,202.3 1595.1,197.6 1595.6,196.1 1596.1,200.4 1596.6,195.7 1597.2,204.2 1597.7,198.8 1598.2,202.5 1598.7,194.9 1599.2,198.3 1599.8,202.0 1600.3,195.9 1600.8,197.7 1601.3,201.2 1601.9,207.4 1602.4,206.1 1602.9,207.3 1603.4,204.8 1603.9,208.2 1604.5,211.7 1605.0,205.5 1605.5,207.2 1606.0,208.4 1606.6,196.3 1607.1,206.0 1607.6,208.9 1608.1,210.9 1608.7,206.2 1609.2,212.8 1609.7,205.4 1610.2,208.0 1610.7,217.2 1611.3,203.1 1611.8,209.5 1612.3,209.4 1612.8,210.0 1613.4,208.1 1613.9,213.9 1614.4,206.0 1614.9,205.1 1615.5,213.7 1616.0,206.1 1616.5,213.5 1617.0,212.1 1617.5,209.0 1618.1,210.7 1618.6,212.0 1619.1,214.6 1619.6,209.8 1620.2,211.9 1620.7,206.5 1621.2,211.9 1621.7,204.6 1622.3,213.2 1622.8,211.4 1623.3,223.0 1623.8,219.4 1624.3,213.1 1624.9,218.1 1625.4,215.3 1625.9,209.1 1626.4,203.6 1627.0,219.2 1627.5,216.2 1628.0,206.0 1628.5,217.4 1629.1,218.7 1629.6,211.9 1630.1,218.4 1630.6,207.6 1631.1,214.2 1631.7,215.4 1632.2,218.6 1632.7,217.1 1633.2,216.4 1633.8,217.9 1634.3,212.9 1634.8,221.9 1635.3,214.3 1635.9,219.2 1636.4,215.9 1636.9,215.0 1637.4,218.5 1637.9,218.0 1638.5,221.8 1639.0,220.7 1639.5,214.1 1640.0,218.5 1640.6,217.0 1641.1,213.5 1641.6,212.4 1642.1,217.9 1642.7,214.9 1643.2,211.6 1643.7,216.9 1644.2,218.3 1644.7,217.9 1645.3,212.9 1645.8,215.6 1646.3,223.4 1646.8,215.2 1647.4,217.1 1647.9,227.5 1648.4,220.1 1648.9,217.0 1649.5,211.7 1650.0,220.6 1650.5,214.3 1651.0,219.7 1651.5,216.7 1652.1,213.9 1652.6,226.7 1653.1,220.3 1653.6,224.3 1654.2,223.9 1654.7,218.6 1655.2,221.9 1655.7,220.4 1656.2,225.5 1656.8,223.7 1657.3,221.0 1657.8,228.6 1658.3,224.6 1658.9,224.6 1659.4,220.2 1659.9,224.7 1660.4,218.1 1661.0,225.2 1661.5,220.3 1662.0,224.4 1662.5,222.9 1663.0,224.9 1663.6,225.4 1664.1,224.1 1664.6,224.2 1665.1,219.2 1665.7,217.9 1666.2,229.3 1666.7,227.0 1667.2,219.8 1667.8,232.0 1668.3,222.8 1668.8,227.2 1669.3,227.1 1669.8,226.0 1670.4,227.9 1670.9,221.0 1671.4,225.9 1671.9,225.2 1672.5,226.5 1673.0,225.4 1673.5,224.2 1674.0,223.9 1674.6,229.7 1675.1,223.7 1675.6,228.1 1676.1,228.1 1676.6,226.6 1677.2,228.6 1677.7,229.0 1678.2,225.4 1678.7,228.5 1679.3,234.0 1679.8,223.7 1680.3,226.4 1680.8,224.9 1681.4,234.5 1681.9,222.7 1682.4,227.7 1682.9,231.0 1683.4,224.8 1684.0,227.3 1684.5,225.4 1685.0,223.2 1685.5,227.7 1686.1,229.7 1686.6,226.6 1687.1,228.6 1687.6,230.4 1688.2,232.2 1688.7,223.8 1689.2,230.2 1689.7,226.0 1690.2,221.7 1690.8,225.5 1691.3,230.4 1691.8,229.3 1692.3,224.5 1692.9,233.8 1693.4,229.7 1693.9,228.1 1694.4,226.5 1695.0,229.8 1695.5,227.1 1696.0,232.3 1696.5,229.5 1697.0,230.6 1697.6,227.4 1698.1,223.5 1698.6,230.3 1699.1,225.1 1699.7,228.2 1700.2,228.6 1700.7,226.0 1701.2,231.7 1701.8,223.8 1702.3,233.8 1702.8,226.7 1703.3,232.0 1703.8,233.2 1704.4,225.9 1704.9,226.4 1705.4,232.1 1705.9,229.6 1706.5,229.3 1707.0,222.8 1707.5,223.5 1708.0,230.9 1708.5,234.0 1709.1,226.8 1709.6,226.3 1710.1,230.0 1710.6,230.9 1711.2,231.3 1711.7,227.9 1712.2,222.9 1712.7,234.5 1713.3,227.9 1713.8,233.9 1714.3,222.9 1714.8,231.0 1715.3,228.1 1715.9,226.1 1716.4,233.1 1716.9,234.3 1717.4,228.0 1718.0,232.2 1718.5,226.4 1719.0,228.0 1719.5,229.3 1720.1,229.0 1720.6,232.3 1721.1,226.1 1721.6,233.5 1722.1,233.5 1722.7,229.6 1723.2,226.3 1723.7,222.3 1724.2,230.2 1724.8,228.0 1725.3,230.8 1725.8,226.9 1726.3,230.4 1726.9,230.2 1727.4,230.5 1727.9,231.4 1728.4,231.5 1728.9,233.8 1729.5,227.9 1730.0,232.9 1730.5,231.1 1731.0,229.1 1731.6,227.2 1732.1,235.5 1732.6,231.4 1733.1,228.8 1733.7,230.8 1734.2,230.6 1734.7,228.8 1735.2,226.0 1735.7,231.1 1736.3,230.1 1736.8,229.7 1737.3,233.9 1737.8,226.2 1738.4,227.4 1738.9,231.2 1739.4,233.5 1739.9,232.7 1740.5,233.1 1741.0,223.3 1741.5,232.4 1742.0,232.1 1742.5,233.0 1743.1,228.4 1743.6,232.5 1744.1,234.1 1744.6,236.2 1745.2,231.6 1745.7,226.3 1746.2,231.0 1746.7,233.0 1747.3,232.6 1747.8,237.3 1748.3,230.2 1748.8,227.5 1749.3,228.9 1749.9,233.2 1750.4,228.4 1750.9,227.6 1751.4,228.4 1752.0,235.3 1752.5,232.1 1753.0,230.2 1753.5,234.3 1754.1,233.8 1754.6,228.3 1755.1,234.4 1755.6,232.5 1756.1,224.8 1756.7,227.8 1757.2,232.8 1757.7,233.6 1758.2,231.1 1758.8,228.7 1759.3,233.0 1759.8,226.1 1760.3,234.2 1760.8,231.9 1761.4,232.3 1761.9,230.3 1762.4,235.3 1762.9,224.8 1763.5,229.8 1764.0,234.7 1764.5,230.4 1765.0,237.8 1765.6,234.3 1766.1,230.4 1766.6,236.7 1767.1,232.7 1767.6,235.1 1768.2,231.1 1768.7,231.2 1769.2,235.6 1769.7,233.6 1770.3,230.8 1770.8,230.4 1771.3,235.6 1771.8,239.3 1772.4,230.6 1772.9,235.8 1773.4,223.8 1773.9,228.9 1774.4,235.9 1775.0,239.0 1775.5,233.9 1776.0,235.5 1776.5,234.6 1777.1,237.1 1777.6,230.1 1778.1,235.9 1778.6,232.4 1779.2,232.7 1779.7,233.9 1780.2,233.2 1780.7,231.4 1781.2,233.1 1781.8,230.8 1782.3,239.0 1782.8,236.4 1783.3,232.7 1783.9,239.4 1784.4,238.4 1784.9,235.8 1785.4,232.4 1786.0,235.0 1786.5,236.1 1787.0,238.9 1787.5,233.6 1788.0,232.4 1788.6,242.0 1789.1,238.9 1789.6,235.4 1790.1,231.2 1790.7,236.0 1791.2,238.1 1791.7,236.9 1792.2,237.2 1792.8,234.5 1793.3,238.2 1793.8,232.4 1794.3,233.0 1794.8,232.8 1795.4,232.3 1795.9,241.0 1796.4,228.8 1796.9,235.3 1797.5,231.2 1798.0,230.4 1798.5,234.9 1799.0,229.3 1799.6,234.3 1800.1,242.3 1800.6,234.2 1801.1,236.1 1801.6,231.7 1802.2,236.2 1802.7,229.6 1803.2,235.3 1803.7,234.2 1804.3,241.9 1804.8,234.3 1805.3,233.4 1805.8,232.7 1806.4,230.6 1806.9,237.2 1807.4,239.5 1807.9,233.4 1808.4,237.0 1809.0,233.5 1809.5,236.0 1810.0,236.2 1810.5,229.8 1811.1,232.1 1811.6,237.8 1812.1,228.2 1812.6,234.7 1813.1,233.5 1813.7,231.6 1814.2,234.9 1814.7,235.7 1815.2,236.5 1815.8,225.8 1816.3,240.4 1816.8,233.1 1817.3,238.3 1817.9,234.3 1818.4,232.8 1818.9,234.5 1819.4,245.5 1819.9,240.1 1820.5,233.6 1821.0,235.5 1821.5,238.6 1822.0,236.7 1822.6,235.1 1823.1,234.1 1823.6,231.1 1824.1,237.3 1824.7,238.5 1825.2,242.4 1825.7,232.9 1826.2,237.0 1826.7,234.7 1827.3,239.1 1827.8,234.5 1828.3,232.6 1828.8,229.1 1829.4,237.2 1829.9,235.4 1830.4,238.6 1830.9,232.9 1831.5,243.6 1832.0,232.4 1832.5,236.6"/></g>
<g clip-path="url(#c1)"><polyline shape-rendering="crispEdges" fill="none" stroke="#00ff00" stroke-width="5.3" stroke-linejoin="miter" stroke-miterlimit="2" points="263.5,449.3 264.0,446.3 264.5,446.7 265.1,438.0 265.6,456.3 266.1,453.5 266.6,447.2 267.2,451.9 267.7,449.8 268.2,446.2 268.7,452.8 269.3,447.3 269.8,447.3 270.3,445.3 270.8,450.7 271.3,448.3 271.9,451.1 272.4,446.2 272.9,449.3 273.4,445.0 274.0,452.5 274.5,449.7 275.0,450.3 275.5,450.7 276.1,444.6 276.6,452.3 277.1,457.8 277.6,442.0 278.1,441.6 278.7,442.6 279.2,452.7 279.7,449.7 280.2,453.8 280.8,452.3 281.3,450.1 281.8,450.5 282.3,448.6 282.9,453.1 283.4,444.5 283.9,447.6 284.4,450.5 284.9,457.2 285.5,446.2 286.0,444.9 286.5,447.1 287.0,453.7 287.6,448.6 288.1,455.3 288.6,441.6 289.1,454.6 289.7,454.2 290.2,443.7 290.7,450.5 291.2,455.1 291.7,450.3 292.3,454.3 292.8,460.2 293.3,451.2 293.8,448.9 294.4,446.8 294.9,453.0 295.4,449.4 295.9,449.5 296.4,449.9 297.0,453.2 297.5,445.9 298.0,443.9 298.5,440.1 299.1,455.8 299.6,451.0 300.1,457.2 300.6,450.8 301.2,447.7 301.7,453.0 302.2,450.7 302.7,445.7 303.2,447.3 303.8,458.8 304.3,452.8 304.8,453.1 305.3,450.2 305.9,448.4 306.4,455.3 306.9,451.1 307.4,448.3 308.0,451.1 308.5,447.8 309.0,452.6 309.5,456.7 310.0,448.3 310.6,458.1 311.1,449.2 311.6,452.8 312.1,448.6 312.7,451.3 313.2,452.6 313.7,450.6 314.2,449.5 314.8,449.7 315.3,449.2 315.8,446.0 316.3,451.7 316.8,454.7 317.4,457.0 317.9,455.9 318.4,463.8 318.9,454.7 319.5,451.5 320.0,461.6 320.5,449.1 321.0,457.9 321.6,449.7 322.1,455.4 322.6,445.5 323.1,457.9 323.6,453.5 324.2,450.1 324.7,461.6 325.2,457.8 325.7,454.8 326.3,451.4 326.8,454.6 327.3,454.1 327.8,458.1 328.4,458.5 328.9,452.2 329.4,452.8 329.9,453.0 330.4,449.6 331.0,452.9 331.5,455.2 332.0,458.6 332.5,461.4 333.1,452.3 333.6,458.3 334.1,454.0 334.6,465.0 335.2,455.9 335.7,458.4 336.2,452.3 336.7,452.9 337.2,457.3 337.8,454.9 338.3,458.1 338.8,450.0 339.3,459.6 339.9,453.0 340.4,464.4 340.9,455.8 341.4,461.8 342.0,451.2 342.5,459.1 343.0,453.5 343.5,455.4 344.0,457.6 344.6,456.2 345.1,458.8 345.6,461.0 346.1,460.6 346.7,457.5 347.2,452.1 347.7,454.6 348.2,457.3 348.7,449.1 349.3,461.5 349.8,457.3 350.3,457.3 350.8,462.6 351.4,461.4 351.9,459.5 352.4,454.4 352.9,460.0 353.5,460.3 354.0,455.0 354.5,463.4 355.0,461.1 355.5,450.5 356.1,459.5 356.6,453.6 357.1,464.0 357.6,462.6 358.2,454.4 358.7,455.4 359.2,459.6 359.7,458.2 360.3,465.8 360.8,462.4 361.3,458.1 361.8,461.8 362.3,450.6 362.9,460.7 363.4,463.1 363.9,458.6 364.4,456.4 365.0,461.9 365.5,467.9 366.0,460.3 366.5,454.7 367.1,465.7 367.6,451.4 368.1,461.7 368.6,457.0 369.1,463.5 369.7,455.9 370.2,465.3 370.7,460.9 371.2,452.2 371.8,451.1 372.3,458.3 372.8,465.2 373.3,460.2 373.9,460.0 374.4,458.7 374.9,462.9 375.4,461.4 375.9,461.0 376.5,455.5 377.0,464.9 377.5,465.7 378.0,454.2 378.6,469.7 379.1,463.0 379.6,457.8 380.1,451.7 380.7,462.8 381.2,462.4 381.7,457.4 382.2,452.3 382.7,464.9 383.3,457.6 383.8,458.1 384.3,472.4 384.8,469.4 385.4,464.4 385.9,458.4 386.4,463.2 386.9,450.7 387.5,461.0 388.0,457.3 388.5,455.1 389.0,453.9 389.5,463.1 390.1,461.3 390.6,461.6 391.1,464.6 391.6,457.4 392.2,455.8 392.7,453.6 393.2,459.9 393.7,464.6 394.3,460.8 394.8,464.3 395.3,456.5 395.8,459.6 396.3,458.4 396.9,456.4 397.4,469.8 397.9,465.6 398.4,458.7 399.0,458.7 399.5,461.8 400.0,455.9 400.5,464.1 401.0,456.7 401.6,460.7 402.1,457.9 402.6,460.3 403.1,456.7 403.7,455.7 404.2,458.3 404.7,459.6 405.2,461.2 405.8,462.8 406.3,469.1 406.8,466.0 407.3,461.5 407.8,465.7 408.4,459.6 408.9,468.8 409.4,464.9 409.9,456.8 410.5,465.8 411.0,466.1 411.5,451.1 412.0,459.4 412.6,460.6 413.1,454.3 413.6,458.0 414.1,458.6 414.6,464.8 415.2,463.9 415.7,473.9 416.2,461.0 416.7,467.6 417.3,463.0 417.8,463.8 418.3,457.7 418.8,454.5 419.4,459.4 419.9,466.0 420.4,469.5 420.9,465.3 421.4,464.8 422.0,459.1 422.5,469.3 423.0,468.5 423.5,460.4 424.1,462.5 424.6,458.4 425.1,469.0 425.6,464.5 426.2,462.3 426.7,464.5 427.2,464.7 427.7,461.0 428.2,457.4 428.8,457.3 429.3,455.3 429.8,464.8 430.3,472.4 430.9,455.5 431.4,463.4 431.9,464.6 432.4,458.6 433.0,463.8 433.5,458.2 434.0,468.1 434.5,460.4 435.0,463.4 435.6,465.9 436.1,461.1 436.6,455.3 437.1,460.8 437.7,466.3 438.2,462.7 438.7,464.1 439.2,458.5 439.8,463.8 440.3,466.3 440.8,463.3 441.3,471.4 441.8,462.3 442.4,458.8 442.9,456.3 443.4,468.2 443.9,463.0 444.5,467.7 445.0,465.3 445.5,470.3 446.0,468.8 446.6,461.8 447.1,464.6 447.6,468.1 448.1,458.1 448.6,469.7 449.2,468.7 449.7,467.7 450.2,462.6 450.7,464.8 451.3,458.7 451.8,463.7 452.3,461.0 452.8,463.9 453.3,461.4 453.9,464.7 454.4,468.6 454.9,457.9 455.4,467.5 456.0,454.9 456.5,454.2 457.0,462.9 457.5,463.4 458.1,465.3 458.6,456.3 459.1,463.1 459.6,463.9 460.1,468.7 460.7,462.8 461.2,465.5 461.7,459.0 462.2,462.4 462.8,461.2 463.3,466.1 463.8,458.8 464.3,459.5 464.9,465.5 465.4,470.7 465.9,464.6 466.4,464.2 466.9,461.4 467.5,467.5 468.0,465.1 468.5,470.2 469.0,464.1 469.6,458.6 470.1,460.2 470.6,458.3 471.1,457.2 471.7,467.9 472.2,465.9 472.7,457.1 473.2,470.1 473.7,463.4 474.3,458.2 474.8,464.0 475.3,462.0 475.8,458.9 476.4,453.9 476.9,462.4 477.4,463.4 477.9,451.1 478.5,464.5 479.0,464.8 479.5,460.1 480.0,462.6 480.5,460.9 481.1,458.5 481.6,460.5 482.1,467.8 482.6,455.8 483.2,463.0 483.7,462.8 484.2,458.9 484.7,460.0 485.3,455.9 485.8,458.2 486.3,462.0 486.8,463.3 487.3,458.0 487.9,475.0 488.4,459.4 488.9,462.4 489.4,460.8 490.0,460.1 490.5,467.4 491.0,459.7 491.5,467.5 492.1,466.6 492.6,457.2 493.1,466.1 493.6,458.9 494.1,473.4 494.7,460.0 495.2,457.6 495.7,453.4 496.2,456.0 496.8,459.1 497.3,457.3 497.8,456.2 498.3,458.5 498.9,460.6 499.4,467.7 499.9,454.1 500.4,459.1 500.9,457.3 501.5,454.9 502.0,455.9 502.5,457.4 503.0,464.4 503.6,460.5 504.1,459.0 504.6,463.9 505.1,462.4 505.6,460.2 506.2,462.8 506.7,457.6 507.2,463.8 507.7,463.1 508.3,459.3 508.8,455.8 509.3,467.5 509.8,461.4 510.4,474.1 510.9,458.1 511.4,464.5 511.9,459.0 512.4,461.9 513.0,464.4 513.5,457.3 514.0,460.3 514.5,461.4 515.1,461.1 515.6,463.2 516.1,465.0 516.6,464.1 517.2,461.6 517.7,459.0 518.2,455.6 518.7,457.2 519.2,458.1 519.8,463.3 520.3,458.7 520.8,454.9 521.3,462.9 521.9,456.7 522.4,456.8 522.9,459.1 523.4,462.1 524.0,449.6 524.5,455.1 525.0,460.7 525.5,458.3 526.0,456.1 526.6,457.4 527.1,465.7 527.6,457.7 528.1,462.7 528.7,462.9 529.2,457.5 529.7,461.3 530.2,457.4 530.8,456.7 531.3,454.4 531.8,462.9 532.3,457.4 532.8,456.6 533.4,454.1 533.9,466.6 534.4,462.0 534.9,458.1 535.5,455.6 536.0,452.0 536.5,459.7 537.0,459.6 537.6,452.3 538.1,463.2 538.6,461.5 539.1,453.9 539.6,455.6 540.2,456.1 540.7,458.5 541.2,457.1 541.7,450.6 542.3,463.9 542.8,458.9 543.3,462.9 543.8,462.8 544.4,456.4 544.9,458.7 545.4,460.3 545.9,460.4 546.4,456.3 547.0,454.3 547.5,457.0 548.0,453.4 548.5,454.4 549.1,448.0 549.6,457.0 550.1,452.2 550.6,454.1 551.2,456.2 551.7,457.8 552.2,464.5 552.7,457.2 553.2,450.2 553.8,456.7 554.3,453.6 554.8,457.8 555.3,453.1 555.9,452.9 556.4,453.7 556.9,453.2 557.4,448.0 557.9,452.9 558.5,455.7 559.0,460.8 559.5,454.3 560.0,454.0 560.6,458.0 561.1,457.8 561.6,462.3 562.1,457.9 562.7,455.2 563.2,461.0 563.7,461.7 564.2,453.1 564.7,455.7 565.3,447.8 565.8,453.4 566.3,451.1 566.8,453.9 567.4,452.7 567.9,454.0 568.4,454.2 568.9,456.7 569.5,455.5 570.0,452.1 570.5,448.9 571.0,459.7 571.5,460.4 572.1,452.3 572.6,456.6 573.1,447.6 573.6,447.4 574.2,452.9 574.7,460.3 575.2,449.4 575.7,450.2 576.3,460.7 576.8,445.6 577.3,456.4 577.8,455.7 578.3,452.6 578.9,454.2 579.4,464.6 579.9,448.4 580.4,451.9 581.0,452.1 581.5,450.1 582.0,447.2 582.5,459.7 583.1,453.8 583.6,445.2 584.1,449.6 584.6,454.3 585.1,454.2 585.7,446.2 586.2,451.8 586.7,453.2 587.2,453.6 587.8,453.5 588.3,443.8 588.8,459.3 589.3,452.1 589.9,458.7 590.4,463.0 590.9,449.8 591.4,444.9 591.9,453.7 592.5,449.0 593.0,447.6 593.5,444.9 594.0,456.3 594.6,447.0 595.1,442.7 595.6,446.6 596.1,443.4 596.7,448.9 597.2,446.3 597.7,443.5 598.2,450.6 598.7,445.2 599.3,451.1 599.8,453.4 600.3,446.4 600.8,445.0 601.4,448.0 601.9,448.9 602.4,440.1 602.9,430.0 603.5,412.2 604.0,391.5 604.5,373.3 605.0,365.3 605.5,373.2 606.1,392.6 606.6,411.9 607.1,431.0 607.6,442.7 608.2,445.3 608.7,444.7 609.2,444.5 609.7,455.6 610.2,451.8 610.8,443.1 611.3,444.3 611.8,456.2 612.3,454.6 612.9,448.6 613.4,453.1 613.9,441.5 614.4,448.0 615.0,451.2 615.5,439.9 616.0,444.6 616.5,451.4 617.0,452.9 617.6,445.3 618.1,449.2 618.6,454.9 619.1,446.2 619.7,442.0 620.2,447.5 620.7,446.0 621.2,453.4 621.8,448.4 622.3,444.1 622.8,458.2 623.3,445.3 623.8,449.6 624.4,450.4 624.9,450.8 625.4,448.1 625.9,449.8 626.5,446.9 627.0,440.8 627.5,446.1 628.0,446.1 628.6,446.1 629.1,447.5 629.6,444.0 630.1,452.6 630.6,453.6 631.2,436.8 631.7,446.5 632.2,443.3 632.7,434.7 633.3,448.1 633.8,443.4 634.3,444.4 634.8,443.1 635.4,450.8 635.9,451.3 636.4,446.9 636.9,448.6 637.4,444.9 638.0,445.8 638.5,441.7 639.0,445.0 639.5,441.5 640.1,446.2 640.6,448.0 641.1,445.5 641.6,449.2 642.2,455.8 642.7,434.0 643.2,443.3 643.7,440.5 644.2,440.8 644.8,436.5 645.3,442.6 645.8,441.0 646.3,439.0 646.9,440.5 647.4,438.7 647.9,430.6 648.4,445.8 649.0,439.3 649.5,436.1 650.0,441.6 650.5,437.0 651.0,429.9 651.6,443.5 652.1,431.7 652.6,438.1 653.1,439.4 653.7,444.8 654.2,443.8 654.7,439.0 655.2,434.5 655.8,435.9 656.3,442.6 656.8,445.6 657.3,439.8 657.8,434.2 658.4,441.7 658.9,435.1 659.4,434.8 659.9,435.2 660.5,439.1 661.0,437.5 661.5,440.6 662.0,441.9 662.5,438.1 663.1,424.9 663.6,427.7 664.1,436.1 664.6,434.9 665.2,445.1 665.7,434.8 666.2,434.1 666.7,439.1 667.3,439.5 667.8,433.4 668.3,436.5 668.8,429.0 669.3,429.7 669.9,439.7 670.4,427.3 670.9,438.0 671.4,436.7 672.0,437.0 672.5,437.6 673.0,435.8 673.5,423.1 674.1,428.3 674.6,430.0 675.1,436.9 675.6,427.3 676.1,429.1 676.7,430.6 677.2,438.2 677.7,425.2 678.2,425.5 678.8,434.6 679.3,421.6 679.8,432.9 680.3,429.1 680.9,423.7 681.4,428.9 681.9,426.0 682.4,431.3 682.9,432.1 683.5,437.2 684.0,429.9 684.5,430.3 685.0,426.9 685.6,429.3 686.1,434.2 686.6,420.0 687.1,432.0 687.7,426.2 688.2,428.8 688.7,429.8 689.2,432.1 689.7,429.0 690.3,425.8 690.8,429.0 691.3,427.3 691.8,426.1 692.4,427.8 692.9,430.8 693.4,427.1 693.9,427.0 694.5,419.9 695.0,425.2 695.5,416.7 696.0,428.8 696.5,420.6 697.1,431.1 697.6,438.9 698.1,422.6 698.6,430.6 699.2,425.9 699.7,421.1 700.2,419.5 700.7,426.0 701.3,429.7 701.8,424.5 702.3,415.4 702.8,417.4 703.3,421.1 703.9,428.4 704.4,423.1 704.9,423.0 705.4,427.0 706.0,420.0 706.5,420.3 707.0,419.6 707.5,411.7 708.1,422.2 708.6,421.7 709.1,424.2 709.6,413.5 710.1,415.0 710.7,423.1 711.2,419.9 711.7,424.7 712.2,413.6 712.8,418.5 713.3,413.9 713.8,418.4 714.3,414.3 714.8,418.9 715.4,421.3 715.9,419.0 716.4,406.7 716.9,419.7 717.5,417.0 718.0,409.5 718.5,410.0 719.0,414.0 719.6,416.5 720.1,411.2 720.6,405.3 721.1,414.3 721.6,413.4 722.2,424.3 722.7,405.8 723.2,424.2 723.7,420.1 724.3,412.8 724.8,419.2 725.3,411.3 725.8,415.4 726.4,406.8 726.9,410.6 727.4,405.0 727.9,402.1 728.4,408.3 729.0,406.2 729.5,412.1 730.0,415.4 730.5,408.1 731.1,409.1 731.6,409.5 732.1,400.2 732.6,409.6 733.2,408.2 733.7,407.7 734.2,402.3 734.7,397.8 735.2,406.2 735.8,408.9 736.3,413.8 736.8,412.6 737.3,414.0 737.9,408.5 738.4,412.2 738.9,405.3 739.4,409.3 740.0,410.7 740.5,419.3 741.0,407.0 741.5,399.3 742.0,412.4 742.6,401.5 743.1,405.0 743.6,403.7 744.1,400.5 744.7,411.6 745.2,407.8 745.7,401.6 746.2,404.9 746.8,402.3 747.3,407.5 747.8,402.4 748.3,400.4 748.8,400.9 749.4,401.9 749.9,405.5 750.4,399.3 750.9,403.4 751.5,406.1 752.0,415.5 752.5,408.0 753.0,388.7 753.6,401.1 754.1,401.7 754.6,405.2 755.1,411.5 755.6,407.3 756.2,392.0 756.7,405.1 757.2,404.1 757.7,405.6 758.3,410.3 758.8,397.9 759.3,409.0 759.8,395.0 760.4,403.6 760.9,405.3 761.4,414.9 761.9,399.8 762.4,394.7 763.0,406.8 763.5,399.9 764.0,411.2 764.5,399.6 765.1,398.7 765.6,409.5 766.1,403.6 766.6,408.2 767.1,395.9 767.7,411.5 768.2,400.1 768.7,407.3 769.2,398.0 769.8,395.2 770.3,401.8 770.8,403.9 771.3,411.1 771.9,404.8 772.4,406.7 772.9,406.4 773.4,418.9 773.9,398.8 774.5,409.4 775.0,402.2 775.5,404.3 776.0,400.2 776.6,409.0 777.1,396.6 777.6,396.2 778.1,401.9 778.7,397.1 779.2,406.6 779.7,407.8 780.2,399.2 780.7,407.1 781.3,399.7 781.8,402.9 782.3,403.2 782.8,412.9 783.4,403.2 783.9,398.5 784.4,398.5 784.9,409.5 785.5,394.7 786.0,400.9 786.5,401.5 787.0,390.8 787.5,401.1 788.1,408.8 788.6,404.8 789.1,399.0 789.6,407.3 790.2,406.5 790.7,414.4 791.2,400.0 791.7,401.9 792.3,404.2 792.8,403.4 793.3,404.6 793.8,403.7 794.3,400.7 794.9,396.1 795.4,401.5 795.9,397.3 796.4,399.2 797.0,401.8 797.5,407.3 798.0,409.2 798.5,399.5 799.1,406.5 799.6,409.1 800.1,404.8 800.6,396.8 801.1,394.2 801.7,409.4 802.2,410.1 802.7,406.9 803.2,400.3 803.8,413.1 804.3,412.1 804.8,405.8 805.3,405.1 805.9,396.4 806.4,410.3 806.9,398.5 807.4,410.4 807.9,410.8 808.5,407.8 809.0,415.5 809.5,406.1 810.0,411.0 810.6,412.2 811.1,409.7 811.6,406.6 812.1,415.2 812.7,411.4 813.2,408.5 813.7,408.9 814.2,410.7 814.7,421.7 815.3,411.1 815.8,409.7 816.3,405.9 816.8,405.4 817.4,402.3 817.9,413.2 818.4,412.5 818.9,407.6 819.4,405.6 820.0,411.7 820.5,411.0 821.0,407.3 821.5,415.7 822.1,415.2 822.6,414.6 823.1,418.9 823.6,412.2 824.2,422.5 824.7,411.1 825.2,418.9 825.7,419.8 826.2,415.8 826.8,419.1 827.3,411.5 827.8,410.8 828.3,417.5 828.9,415.4 829.4,422.2 829.9,419.9 830.4,423.2 831.0,422.2 831.5,422.1 832.0,422.0 832.5,420.2 833.0,420.2 833.6,432.8 834.1,414.9 834.6,423.0 835.1,429.3 835.7,426.9 836.2,432.2 836.7,428.5 837.2,420.3 837.8,425.2 838.3,420.6 838.8,432.5 839.3,435.2 839.8,426.6 840.4,431.8 840.9,427.7 841.4,423.2 841.9,428.4 842.5,423.4 843.0,428.7 843.5,432.8 844.0,435.7 844.6,438.8 845.1,431.4 845.6,434.5 846.1,435.7 846.6,436.7 847.2,420.9 847.7,431.0 848.2,438.7 848.7,430.0 849.3,436.7 849.8,439.7 850.3,427.0 850.8,435.3 851.4,437.5 851.9,436.7 852.4,429.6 852.9,438.6 853.4,434.5 854.0,441.2 854.5,439.5 855.0,435.1 855.5,438.6 856.1,434.8 856.6,434.9 857.1,430.9 857.6,437.3 858.2,442.3 858.7,439.3 859.2,438.8 859.7,436.1 860.2,436.8 860.8,442.8 861.3,432.6 861.8,449.2 862.3,439.6 862.9,450.1 863.4,445.7 863.9,438.6 864.4,444.1 865.0,442.1 865.5,443.3 866.0,445.1 866.5,439.2 867.0,439.2 867.6,440.4 868.1,436.3 868.6,441.7 869.1,444.3 869.7,444.7 870.2,444.8 870.7,442.5 871.2,448.2 871.7,435.7 872.3,443.6 872.8,444.3 873.3,450.2 873.8,449.6 874.4,450.6 874.9,447.4 875.4,452.0 875.9,443.6 876.5,448.9 877.0,439.5 877.5,457.1 878.0,456.9 878.5,447.5 879.1,446.8 879.6,441.6 880.1,444.5 880.6,452.3 881.2,451.4 881.7,445.9 882.2,450.7 882.7,450.3 883.3,455.7 883.8,457.1 884.3,453.3 884.8,455.1 885.3,454.9 885.9,446.0 886.4,456.3 886.9,455.5 887.4,459.4 888.0,448.3 888.5,460.0 889.0,454.1 889.5,458.4 890.1,462.8 890.6,451.3 891.1,452.3 891.6,462.6 892.1,453.6 892.7,454.6 893.2,461.7 893.7,458.4 894.2,462.9 894.8,461.1 895.3,459.9 895.8,464.6 896.3,470.0 896.9,460.4 897.4,467.4 897.9,466.2 898.4,462.0 898.9,463.7 899.5,457.9 900.0,459.5 900.5,463.6 901.0,462.5 901.6,468.5 902.1,457.5 902.6,462.1 903.1,460.8 903.7,463.1 904.2,469.0 904.7,459.1 905.2,468.1 905.7,462.2 906.3,463.5 906.8,469.4 907.3,464.2 907.8,468.4 908.4,466.3 908.9,465.3 909.4,464.7 909.9,459.2 910.5,463.6 911.0,467.7 911.5,468.0 912.0,461.1 912.5,471.9 913.1,470.3 913.6,462.7 914.1,464.0 914.6,470.7 915.2,461.5 915.7,465.9 916.2,469.1 916.7,469.0 917.3,469.5 917.8,471.6 918.3,466.9 918.8,468.4 919.3,479.2 919.9,465.1 920.4,469.3 920.9,471.8 921.4,468.9 922.0,476.8 922.5,472.3 923.0,475.4 923.5,461.7 924.0,477.6 924.6,477.6 925.1,470.0 925.6,478.7 926.1,474.6 926.7,477.5 927.2,481.3 927.7,474.6 928.2,470.2 928.8,474.5 929.3,469.5 929.8,471.7 930.3,472.0 930.8,472.4 931.4,480.2 931.9,479.0 932.4,472.2 932.9,480.6 933.5,469.4 934.0,473.7 934.5,475.9 935.0,481.5 935.6,479.8 936.1,478.8 936.6,482.4 937.1,480.2 937.6,482.9 938.2,474.5 938.7,471.0 939.2,476.3 939.7,481.4 940.3,479.3 940.8,481.9 941.3,481.4 941.8,480.7 942.4,482.1 942.9,476.1 943.4,483.4 943.9,475.3 944.4,479.0 945.0,474.0 945.5,481.7 946.0,473.7 946.5,485.5 947.1,474.8 947.6,481.2 948.1,479.8 948.6,477.0 949.2,485.4 949.7,479.0 950.2,486.5 950.7,476.9 951.2,477.9 951.8,473.4 952.3,483.4 952.8,484.9 953.3,482.3 953.9,480.9 954.4,478.1 954.9,490.9 955.4,484.8 956.0,474.8 956.5,480.9 957.0,472.0 957.5,488.4 958.0,490.0 958.6,488.1 959.1,482.3 959.6,480.3 960.1,477.2 960.7,484.8 961.2,479.9 961.7,481.4 962.2,480.5 962.8,481.8 963.3,486.5 963.8,489.7 964.3,483.8 964.8,483.4 965.4,479.1 965.9,478.7 966.4,479.4 966.9,486.9 967.5,484.5 968.0,487.4 968.5,485.3 969.0,482.2 969.6,479.0 970.1,482.5 970.6,478.4 971.1,491.7 971.6,485.1 972.2,482.7 972.7,491.8 973.2,482.7 973.7,486.4 974.3,483.7 974.8,485.8 975.3,483.0 975.8,486.4 976.3,490.0 976.9,479.8 977.4,476.2 977.9,490.0 978.4,485.5 979.0,488.3 979.5,483.9 980.0,491.0 980.5,492.1 981.1,480.8 981.6,487.9 982.1,483.1 982.6,479.3 983.1,484.4 983.7,487.8 984.2,480.6 984.7,481.0 985.2,490.7 985.8,486.2 986.3,487.7 986.8,482.0 987.3,483.9 987.9,487.0 988.4,487.4 988.9,487.3 989.4,492.9 989.9,487.6 990.5,481.3 991.0,484.0 991.5,487.2 992.0,492.4 992.6,485.0 993.1,486.3 993.6,487.8 994.1,485.4 994.7,485.0 995.2,487.4 995.7,492.2 996.2,490.4 996.7,487.6 997.3,490.3 997.8,484.1 998.3,492.8 998.8,491.9 999.4,490.4 999.9,483.3 1000.4,497.1 1000.9,478.6 1001.5,486.0 1002.0,486.4 1002.5,492.5 1003.0,484.4 1003.5,491.0 1004.1,489.6 1004.6,489.2 1005.1,493.6 1005.6,495.8 1006.2,492.0 1006.7,489.6 1007.2,482.2 1007.7,496.2 1008.3,489.7 1008.8,484.0 1009.3,491.5 1009.8,496.4 1010.3,490.5 1010.9,486.8 1011.4,499.6 1011.9,493.5 1012.4,492.6 1013.0,495.1 1013.5,483.4 1014.0,491.2 1014.5,490.9 1015.1,500.0 1015.6,489.6 1016.1,489.7 1016.6,486.6 1017.1,488.8 1017.7,491.1 1018.2,492.9 1018.7,491.2 1019.2,499.4 1019.8,493.9 1020.3,494.5 1020.8,497.2 1021.3,494.5 1021.9,490.3 1022.4,486.6 1022.9,493.7 1023.4,489.3 1023.9,497.3 1024.5,489.7 1025.0,484.3 1025.5,492.7 1026.0,496.6 1026.6,491.9 1027.1,493.4 1027.6,493.3 1028.1,499.1 1028.6,494.0 1029.2,492.8 1029.7,490.7 1030.2,487.0 1030.7,498.2 1031.3,497.3 1031.8,489.7 1032.3,495.5 1032.8,494.5 1033.4,492.0 1033.9,492.3 1034.4,496.2 1034.9,489.2 1035.4,491.7 1036.0,493.4 1036.5,493.7 1037.0,493.0 1037.5,494.6 1038.1,495.8 1038.6,490.7 1039.1,494.3 1039.6,492.2 1040.2,499.6 1040.7,489.1 1041.2,493.4 1041.7,496.9 1042.2,493.4 1042.8,493.2 1043.3,492.6 1043.8,495.7 1044.3,490.4 1044.9,494.4 1045.4,494.4 1045.9,489.5 1046.4,495.8 1047.0,493.2 1047.5,496.1 1048.0,498.1 1048.5,496.3 1049.0,490.9 1049.6,496.3 1050.1,489.5 1050.6,492.5 1051.1,501.3 1051.7,495.4 1052.2,500.9 1052.7,494.8 1053.2,495.5 1053.8,491.5 1054.3,498.9 1054.8,494.8 1055.3,497.8 1055.8,497.1 1056.4,497.5 1056.9,496.8 1057.4,495.6 1057.9,495.7 1058.5,493.3 1059.0,488.2 1059.5,497.5 1060.0,503.2 1060.6,499.7 1061.1,504.2 1061.6,497.6 1062.1,492.6 1062.6,492.5 1063.2,498.6 1063.7,497.2 1064.2,495.5 1064.7,498.7 1065.3,493.0 1065.8,498.0 1066.3,495.2 1066.8,496.7 1067.4,500.4 1067.9,495.7 1068.4,501.1 1068.9,500.9 1069.4,493.6 1070.0,504.4 1070.5,492.0 1071.0,496.0 1071.5,498.9 1072.1,488.4 1072.6,500.0 1073.1,500.4 1073.6,496.0 1074.2,497.4 1074.7,497.2 1075.2,495.7 1075.7,500.2 1076.2,495.2 1076.8,496.4 1077.3,497.8 1077.8,499.5 1078.3,500.4 1078.9,491.5 1079.4,489.6 1079.9,496.1 1080.4,496.5 1080.9,492.9 1081.5,497.7 1082.0,498.9 1082.5,498.0 1083.0,502.4 1083.6,493.2 1084.1,496.8 1084.6,503.4 1085.1,499.1 1085.7,492.9 1086.2,497.5 1086.7,500.9 1087.2,504.0 1087.7,499.1 1088.3,500.9 1088.8,493.1 1089.3,496.0 1089.8,501.0 1090.4,493.6 1090.9,496.7 1091.4,490.6 1091.9,502.1 1092.5,496.5 1093.0,498.9 1093.5,491.9 1094.0,492.6 1094.5,503.3 1095.1,495.9 1095.6,495.2 1096.1,498.9 1096.6,499.0 1097.2,490.5 1097.7,493.8 1098.2,497.4 1098.7,497.2 1099.3,498.4 1099.8,495.8 1100.3,496.3 1100.8,498.0 1101.3,495.0 1101.9,494.5 1102.4,495.5 1102.9,497.4 1103.4,496.9 1104.0,495.8 1104.5,496.6 1105.0,497.3 1105.5,498.6 1106.1,498.8 1106.6,493.2 1107.1,500.9 1107.6,492.2 1108.1,499.5 1108.7,495.3 1109.2,499.7 1109.7,501.3 1110.2,491.4 1110.8,499.8 1111.3,498.7 1111.8,496.3 1112.3,499.2 1112.9,496.2 1113.4,498.3 1113.9,494.4 1114.4,500.7 1114.9,500.0 1115.5,500.6 1116.0,495.9 1116.5,504.3 1117.0,504.8 1117.6,497.9 1118.1,496.8 1118.6,496.8 1119.1,500.6 1119.7,501.7 1120.2,495.8 1120.7,491.5 1121.2,499.9 1121.7,498.2 1122.3,499.0 1122.8,500.1 1123.3,494.7 1123.8,498.6 1124.4,497.4 1124.9,499.7 1125.4,502.6 1125.9,498.5 1126.5,495.6 1127.0,502.7 1127.5,500.9 1128.0,497.8 1128.5,492.4 1129.1,495.5 1129.6,499.0 1130.1,500.3 1130.6,496.7 1131.2,500.0 1131.7,496.4 1132.2,497.1 1132.7,500.3 1133.2,497.6 1133.8,499.0 1134.3,501.5 1134.8,502.3 1135.3,496.6 1135.9,497.7 1136.4,494.1 1136.9,494.2 1137.4,499.6 1138.0,496.8 1138.5,492.3 1139.0,500.3 1139.5,495.7 1140.0,497.5 1140.6,500.0 1141.1,499.9 1141.6,498.4 1142.1,491.9 1142.7,500.5 1143.2,496.6 1143.7,493.8 1144.2,491.2 1144.8,503.0 1145.3,499.1 1145.8,499.0 1146.3,500.7 1146.8,498.4 1147.4,493.7 1147.9,500.9 1148.4,502.0 1148.9,500.4 1149.5,503.8 1150.0,505.0 1150.5,496.0 1151.0,497.1 1151.6,501.6 1152.1,499.2 1152.6,499.3 1153.1,501.7 1153.6,501.1 1154.2,497.1 1154.7,499.0 1155.2,496.2 1155.7,497.9 1156.3,494.8 1156.8,492.0 1157.3,496.9 1157.8,496.6 1158.4,501.5 1158.9,503.8 1159.4,498.6 1159.9,500.1 1160.4,496.4 1161.0,495.4 1161.5,497.5 1162.0,497.5 1162.5,499.5 1163.1,498.9 1163.6,504.0 1164.1,497.8 1164.6,493.0 1165.2,498.9 1165.7,496.3 1166.2,499.2 1166.7,502.3 1167.2,496.4 1167.8,498.2 1168.3,500.2 1168.8,495.4 1169.3,499.2 1169.9,500.3 1170.4,501.2 1170.9,502.2 1171.4,500.4 1172.0,499.9 1172.5,493.9 1173.0,489.6 1173.5,495.3 1174.0,503.3 1174.6,499.0 1175.1,491.1 1175.6,497.2 1176.1,499.8 1176.7,492.4 1177.2,500.5 1177.7,494.8 1178.2,502.1 1178.8,498.8 1179.3,509.0 1179.8,494.2 1180.3,499.6 1180.8,493.8 1181.4,502.5 1181.9,499.1 1182.4,501.8 1182.9,499.1 1183.5,494.8 1184.0,496.6 1184.5,494.6 1185.0,495.3 1185.5,499.3 1186.1,502.4 1186.6,501.7 1187.1,500.5 1187.6,497.0 1188.2,500.5 1188.7,496.0 1189.2,499.5 1189.7,501.7 1190.3,498.3 1190.8,497.3 1191.3,497.5 1191.8,500.9 1192.3,497.9 1192.9,494.2 1193.4,497.5 1193.9,495.4 1194.4,503.9 1195.0,499.0 1195.5,494.1 1196.0,499.9 1196.5,501.4 1197.1,500.2 1197.6,497.8 1198.1,499.5 1198.6,499.9 1199.1,502.3 1199.7,500.2 1200.2,506.6 1200.7,498.3 1201.2,504.1 1201.8,499.1 1202.3,493.4 1202.8,495.2 1203.3,493.0 1203.9,493.4 1204.4,503.1 1204.9,496.9 1205.4,501.1 1205.9,496.1 1206.5,499.0 1207.0,495.6 1207.5,502.0 1208.0,498.2 1208.6,497.6 1209.1,498.5 1209.6,506.3 1210.1,500.6 1210.7,501.9 1211.2,495.0 1211.7,496.9 1212.2,500.1 1212.7,492.9 1213.3,503.5 1213.8,500.0 1214.3,499.0 1214.8,498.4 1215.4,498.3 1215.9,497.4 1216.4,503.7 1216.9,501.3 1217.5,503.2 1218.0,498.0 1218.5,496.1 1219.0,503.5 1219.5,495.0 1220.1,497.0 1220.6,501.4 1221.1,502.6 1221.6,494.6 1222.2,498.1 1222.7,499.1 1223.2,498.5 1223.7,496.1 1224.3,501.2 1224.8,497.2 1225.3,498.1 1225.8,491.4 1226.3,498.5 1226.9,492.4 1227.4,501.2 1227.9,500.5 1228.4,497.1 1229.0,499.4 1229.5,499.2 1230.0,498.3 1230.5,500.0 1231.1,498.4 1231.6,497.2 1232.1,496.1 1232.6,504.3 1233.1,499.3 1233.7,498.6 1234.2,501.1 1234.7,497.4 1235.2,497.4 1235.8,500.8 1236.3,502.0 1236.8,500.8 1237.3,493.7 1237.8,498.8 1238.4,498.5 1238.9,500.0 1239.4,495.6 1239.9,495.0 1240.5,498.1 1241.0,495.5 1241.5,494.9 1242.0,498.2 1242.6,501.5 1243.1,498.8 1243.6,502.1 1244.1,495.1 1244.6,500.7 1245.2,498.3 1245.7,495.4 1246.2,496.9 1246.7,495.4 1247.3,497.5 1247.8,495.8 1248.3,502.3 1248.8,497.0 1249.4,493.5 1249.9,497.5 1250.4,499.4 1250.9,497.1 1251.4,500.9 1252.0,495.1 1252.5,495.2 1253.0,503.4 1253.5,498.0 1254.1,499.8 1254.6,499.6 1255.1,499.9 1255.6,498.1 1256.2,497.3 1256.7,501.5 1257.2,496.3 1257.7,498.2 1258.2,500.1 1258.8,496.5 1259.3,492.8 1259.8,499.3 1260.3,501.3 1260.9,498.6 1261.4,492.2 1261.9,499.8 1262.4,504.1 1263.0,492.6 1263.5,488.7 1264.0,496.8 1264.5,497.8 1265.0,500.1 1265.6,500.2 1266.1,497.8 1266.6,499.2 1267.1,498.5 1267.7,497.8 1268.2,497.1 1268.7,496.8 1269.2,499.5 1269.8,498.5 1270.3,495.8 1270.8,500.7 1271.3,494.7 1271.8,496.3 1272.4,497.5 1272.9,490.8 1273.4,495.7 1273.9,499.7 1274.5,499.5 1275.0,492.9 1275.5,494.1 1276.0,493.2 1276.6,495.9 1277.1,496.4 1277.6,491.4 1278.1,497.6 1278.6,496.8 1279.2,496.2 1279.7,494.3 1280.2,495.8 1280.7,490.6 1281.3,497.1 1281.8,497.0 1282.3,495.9 1282.8,492.4 1283.4,500.3 1283.9,499.8 1284.4,490.0 1284.9,497.4 1285.4,496.5 1286.0,487.6 1286.5,497.6 1287.0,498.0 1287.5,498.2 1288.1,496.3 1288.6,493.7 1289.1,494.1 1289.6,497.4 1290.1,499.5 1290.7,494.0 1291.2,494.7 1291.7,497.8 1292.2,488.6 1292.8,497.0 1293.3,494.7 1293.8,488.4 1294.3,497.9 1294.9,492.4 1295.4,497.9 1295.9,499.8 1296.4,491.3 1296.9,491.4 1297.5,495.2 1298.0,489.6 1298.5,497.6 1299.0,495.8 1299.6,498.4 1300.1,489.3 1300.6,495.8 1301.1,496.7 1301.7,489.4 1302.2,498.1 1302.7,490.7 1303.2,495.7 1303.7,490.9 1304.3,497.7 1304.8,500.7 1305.3,495.4 1305.8,495.3 1306.4,499.4 1306.9,493.7 1307.4,495.3 1307.9,497.8 1308.5,496.6 1309.0,500.3 1309.5,499.1 1310.0,501.5 1310.5,495.2 1311.1,498.9 1311.6,492.7 1312.1,498.3 1312.6,501.0 1313.2,503.0 1313.7,491.3 1314.2,494.8 1314.7,497.7 1315.3,492.6 1315.8,497.2 1316.3,497.2 1316.8,493.9 1317.3,493.7 1317.9,492.5 1318.4,496.5 1318.9,499.6 1319.4,496.4 1320.0,504.5 1320.5,490.7 1321.0,493.6 1321.5,497.7 1322.1,491.8 1322.6,496.7 1323.1,498.2 1323.6,496.1 1324.1,494.8 1324.7,498.6 1325.2,496.9 1325.7,497.9 1326.2,497.3 1326.8,493.4 1327.3,492.0 1327.8,494.3 1328.3,496.1 1328.9,495.0 1329.4,498.6 1329.9,496.4 1330.4,498.7 1330.9,496.0 1331.5,493.2 1332.0,498.3 1332.5,497.2 1333.0,492.8 1333.6,494.2 1334.1,504.7 1334.6,484.6 1335.1,499.2 1335.7,495.7 1336.2,495.3 1336.7,494.6 1337.2,493.9 1337.7,503.2 1338.3,494.1 1338.8,494.5 1339.3,498.1 1339.8,496.7 1340.4,494.8 1340.9,494.5 1341.4,491.0 1341.9,498.9 1342.4,491.8 1343.0,487.3 1343.5,498.7 1344.0,497.6 1344.5,496.3 1345.1,493.4 1345.6,498.9 1346.1,491.4 1346.6,487.8 1347.2,495.4 1347.7,497.5 1348.2,496.8 1348.7,501.5 1349.2,497.3 1349.8,493.5 1350.3,493.0 1350.8,495.2 1351.3,489.4 1351.9,484.3 1352.4,471.6 1352.9,463.6 1353.4,446.1 1354.0,431.3 1354.5,414.5 1355.0,403.0 1355.5,399.4 1356.0,403.1 1356.6,417.0 1357.1,430.5 1357.6,450.0 1358.1,467.4 1358.7,482.1 1359.2,481.1 1359.7,488.2 1360.2,491.9 1360.8,492.2 1361.3,489.9 1361.8,487.8 1362.3,489.1 1362.8,492.9 1363.4,488.7 1363.9,498.9 1364.4,497.1 1364.9,486.7 1365.5,491.3 1366.0,497.3 1366.5,497.7 1367.0,496.5 1367.6,488.1 1368.1,491.6 1368.6,497.0 1369.1,493.1 1369.6,491.2 1370.2,494.4 1370.7,496.0 1371.2,493.2 1371.7,493.5 1372.3,496.2 1372.8,490.8 1373.3,489.6 1373.8,495.2 1374.4,488.7 1374.9,494.3 1375.4,490.2 1375.9,495.4 1376.4,488.7 1377.0,496.3 1377.5,493.5 1378.0,491.6 1378.5,489.7 1379.1,492.1 1379.6,489.5 1380.1,488.6 1380.6,496.1 1381.2,494.5 1381.7,496.6 1382.2,488.0 1382.7,486.1 1383.2,487.3 1383.8,494.7 1384.3,495.2 1384.8,486.4 1385.3,495.9 1385.9,491.0 1386.4,488.5 1386.9,492.2 1387.4,494.3 1388.0,491.7 1388.5,491.8 1389.0,489.6 1389.5,487.7 1390.0,491.2 1390.6,487.0 1391.1,494.4 1391.6,489.6 1392.1,496.7 1392.7,487.1 1393.2,497.0 1393.7,489.4 1394.2,489.4 1394.7,493.3 1395.3,495.3 1395.8,492.2 1396.3,491.1 1396.8,498.9 1397.4,494.0 1397.9,488.3 1398.4,491.4 1398.9,497.9 1399.5,493.3 1400.0,495.0 1400.5,498.9 1401.0,490.2 1401.5,493.4 1402.1,490.0 1402.6,492.1 1403.1,493.9 1403.6,487.7 1404.2,492.6 1404.7,492.5 1405.2,495.5 1405.7,490.0 1406.3,487.8 1406.8,493.3 1407.3,488.2 1407.8,492.5 1408.3,493.7 1408.9,488.9 1409.4,491.4 1409.9,488.3 1410.4,482.3 1411.0,486.8 1411.5,484.7 1412.0,491.6 1412.5,488.0 1413.1,491.0 1413.6,491.3 1414.1,494.9 1414.6,490.2 1415.1,490.0 1415.7,492.9 1416.2,496.6 1416.7,490.9 1417.2,492.2 1417.8,490.4 1418.3,488.7 1418.8,485.8 1419.3,490.6 1419.9,490.0 1420.4,490.0 1420.9,497.3 1421.4,489.6 1421.9,491.7 1422.5,489.4 1423.0,494.4 1423.5,489.5 1424.0,496.5 1424.6,489.4 1425.1,492.8 1425.6,493.6 1426.1,489.3 1426.7,492.9 1427.2,490.2 1427.7,487.3 1428.2,487.5 1428.7,490.8 1429.3,495.5 1429.8,487.8 1430.3,491.1 1430.8,486.5 1431.4,489.9 1431.9,484.6 1432.4,486.2 1432.9,488.7 1433.5,486.1 1434.0,487.5 1434.5,491.6 1435.0,487.7 1435.5,485.6 1436.1,483.8 1436.6,486.0 1437.1,491.4 1437.6,487.2 1438.2,486.9 1438.7,489.7 1439.2,489.9 1439.7,490.4 1440.3,485.7 1440.8,483.8 1441.3,481.2 1441.8,484.3 1442.3,485.2 1442.9,488.8 1443.4,487.3 1443.9,484.3 1444.4,488.9 1445.0,481.7 1445.5,482.3 1446.0,481.8 1446.5,481.9 1447.0,484.6 1447.6,482.6 1448.1,482.7 1448.6,489.6 1449.1,480.2 1449.7,481.6 1450.2,484.1 1450.7,486.3 1451.2,486.3 1451.8,483.8 1452.3,483.4 1452.8,483.7 1453.3,487.0 1453.8,481.4 1454.4,476.7 1454.9,485.0 1455.4,480.5 1455.9,484.1 1456.5,488.8 1457.0,484.5 1457.5,490.2 1458.0,478.8 1458.6,484.7 1459.1,485.1 1459.6,486.4 1460.1,481.0 1460.6,483.5 1461.2,482.5 1461.7,480.7 1462.2,473.0 1462.7,466.8 1463.3,464.1 1463.8,453.3 1464.3,443.1 1464.8,437.4 1465.4,437.3 1465.9,441.1 1466.4,452.4 1466.9,464.1 1467.4,471.7 1468.0,476.1 1468.5,479.5 1469.0,473.8 1469.5,477.2 1470.1,482.2 1470.6,483.4 1471.1,479.7 1471.6,476.2 1472.2,476.6 1472.7,479.1 1473.2,482.0 1473.7,477.1 1474.2,471.7 1474.8,474.5 1475.3,472.7 1475.8,477.9 1476.3,470.3 1476.9,466.2 1477.4,462.3 1477.9,454.8 1478.4,449.9 1479.0,445.2 1479.5,441.0 1480.0,440.0 1480.5,441.4 1481.0,446.0 1481.6,451.5 1482.1,451.9 1482.6,452.7 1483.1,448.0 1483.7,454.7 1484.2,454.9 1484.7,449.3 1485.2,449.5 1485.8,447.6 1486.3,452.4 1486.8,450.1 1487.3,451.2 1487.8,442.5 1488.4,454.4 1488.9,442.0 1489.4,440.7 1489.9,443.8 1490.5,440.4 1491.0,447.2 1491.5,438.8 1492.0,436.6 1492.6,440.6 1493.1,439.8 1493.6,431.2 1494.1,430.5 1494.6,429.0 1495.2,427.8 1495.7,432.1 1496.2,428.8 1496.7,426.6 1497.3,425.9 1497.8,420.5 1498.3,422.3 1498.8,418.2 1499.3,415.1 1499.9,422.2 1500.4,410.2 1500.9,415.1 1501.4,412.4 1502.0,407.9 1502.5,411.0 1503.0,411.4 1503.5,411.5 1504.1,406.0 1504.6,409.9 1505.1,407.1 1505.6,407.3 1506.1,396.8 1506.7,400.1 1507.2,397.9 1507.7,400.1 1508.2,394.1 1508.8,392.9 1509.3,388.9 1509.8,386.6 1510.3,385.2 1510.9,389.2 1511.4,380.2 1511.9,373.3 1512.4,379.8 1512.9,374.8 1513.5,375.6 1514.0,373.1 1514.5,367.7 1515.0,364.6 1515.6,361.4 1516.1,360.4 1516.6,355.0 1517.1,355.3 1517.7,356.3 1518.2,346.8 1518.7,344.2 1519.2,341.5 1519.7,343.1 1520.3,340.8 1520.8,341.0 1521.3,336.2 1521.8,331.8 1522.4,330.3 1522.9,321.8 1523.4,325.0 1523.9,320.6 1524.5,323.6 1525.0,317.7 1525.5,306.7 1526.0,303.6 1526.5,304.1 1527.1,290.0 1527.6,289.0 1528.1,288.0 1528.6,283.0 1529.2,275.1 1529.7,271.5 1530.2,259.7 1530.7,253.6 1531.3,245.3 1531.8,235.0 1532.3,231.5 1532.8,222.5 1533.3,217.9 1533.9,202.9 1534.4,206.1 1534.9,199.0 1535.4,194.2 1536.0,191.8 1536.5,185.5 1537.0,185.4 1537.5,181.9 1538.1,176.1 1538.6,171.8 1539.1,165.3 1539.6,159.7 1540.1,151.0 1540.7,149.6 1541.2,150.5 1541.7,144.9 1542.2,136.8 1542.8,134.8 1543.3,134.2 1543.8,126.6 1544.3,128.9 1544.9,117.9 1545.4,119.9 1545.9,116.7 1546.4,112.4 1546.9,110.4 1547.5,109.0 1548.0,97.9 1548.5,105.2 1549.0,106.1 1549.6,102.6 1550.1,104.3 1550.6,96.3 1551.1,99.8 1551.6,101.3 1552.2,99.9 1552.7,105.5 1553.2,104.3 1553.7,102.4 1554.3,108.3 1554.8,110.2 1555.3,108.1 1555.8,113.9 1556.4,115.6 1556.9,118.2 1557.4,115.8 1557.9,127.1 1558.4,128.3 1559.0,129.5 1559.5,134.2 1560.0,137.8 1560.5,139.5 1561.1,142.4 1561.6,148.6 1562.1,150.4 1562.6,154.8 1563.2,156.8 1563.7,163.9 1564.2,172.3 1564.7,174.0 1565.2,177.8 1565.8,180.9 1566.3,184.8 1566.8,185.6 1567.3,200.1 1567.9,196.5 1568.4,198.3 1568.9,209.2 1569.4,213.8 1570.0,216.6 1570.5,219.2 1571.0,225.4 1571.5,241.1 1572.0,241.9 1572.6,246.4 1573.1,261.0 1573.6,259.5 1574.1,264.5 1574.7,275.5 1575.2,280.9 1575.7,290.7 1576.2,286.1 1576.8,297.4 1577.3,295.9 1577.8,307.8 1578.3,309.0 1578.8,314.7 1579.4,319.2 1579.9,330.5 1580.4,339.6 1580.9,340.3 1581.5,345.1 1582.0,348.7 1582.5,356.1 1583.0,354.8 1583.6,373.2 1584.1,364.2 1584.6,373.8 1585.1,371.8 1585.6,370.0 1586.2,372.3 1586.7,379.0 1587.2,380.9 1587.7,385.2 1588.3,384.9 1588.8,399.0 1589.3,400.8 1589.8,390.5 1590.4,400.5 1590.9,405.3 1591.4,402.7 1591.9,405.4 1592.4,411.9 1593.0,412.1 1593.5,408.4 1594.0,418.2 1594.5,414.4 1595.1,423.8 1595.6,416.3 1596.1,413.7 1596.6,423.2 1597.2,428.6 1597.7,428.0 1598.2,428.7 1598.7,427.0 1599.2,434.9 1599.8,427.8 1600.3,438.3 1600.8,433.6 1601.3,437.4 1601.9,436.7 1602.4,439.5 1602.9,448.7 1603.4,441.2 1603.9,446.8 1604.5,444.7 1605.0,451.7 1605.5,444.9 1606.0,450.4 1606.6,454.3 1607.1,459.8 1607.6,449.3 1608.1,451.2 1608.7,454.8 1609.2,460.7 1609.7,453.3 1610.2,460.1 1610.7,456.1 1611.3,455.5 1611.8,454.4 1612.3,460.8 1612.8,464.3 1613.4,461.4 1613.9,455.4 1614.4,461.2 1614.9,466.9 1615.5,467.2 1616.0,465.9 1616.5,470.4 1617.0,462.0 1617.5,462.7 1618.1,475.2 1618.6,470.2 1619.1,467.9 1619.6,467.5 1620.2,461.2 1620.7,473.0 1621.2,463.9 1621.7,464.8 1622.3,471.7 1622.8,477.3 1623.3,471.5 1623.8,474.6 1624.3,472.4 1624.9,475.6 1625.4,469.3 1625.9,482.2 1626.4,472.5 1627.0,478.0 1627.5,469.9 1628.0,482.9 1628.5,478.9 1629.1,484.5 1629.6,476.1 1630.1,482.1 1630.6,478.5 1631.1,479.3 1631.7,484.1 1632.2,477.2 1632.7,483.0 1633.2,487.3 1633.8,487.0 1634.3,485.1 1634.8,483.0 1635.3,479.0 1635.9,487.3 1636.4,480.6 1636.9,487.1 1637.4,482.3 1637.9,483.8 1638.5,484.0 1639.0,486.3 1639.5,483.1 1640.0,485.5 1640.6,483.4 1641.1,487.2 1641.6,486.6 1642.1,487.3 1642.7,483.4 1643.2,487.5 1643.7,486.8 1644.2,488.8 1644.7,487.3 1645.3,484.1 1645.8,490.0 1646.3,485.5 1646.8,488.9 1647.4,481.3 1647.9,490.0 1648.4,490.7 1648.9,485.7 1649.5,490.8 1650.0,487.9 1650.5,493.8 1651.0,491.6 1651.5,485.4 1652.1,489.0 1652.6,484.0 1653.1,488.9 1653.6,491.9 1654.2,493.0 1654.7,490.0 1655.2,489.7 1655.7,491.2 1656.2,488.8 1656.8,492.0 1657.3,494.7 1657.8,491.8 1658.3,494.1 1658.9,488.8 1659.4,489.9 1659.9,492.7 1660.4,498.4 1661.0,495.2 1661.5,497.6 1662.0,492.2 1662.5,496.2 1663.0,486.7 1663.6,494.1 1664.1,485.6 1664.6,496.6 1665.1,494.3 1665.7,496.6 1666.2,494.2 1666.7,491.4 1667.2,490.7 1667.8,493.9 1668.3,498.3 1668.8,495.5 1669.3,491.8 1669.8,491.8 1670.4,491.5 1670.9,493.2 1671.4,493.7 1671.9,492.6 1672.5,494.3 1673.0,489.2 1673.5,499.6 1674.0,495.4 1674.6,499.7 1675.1,495.8 1675.6,494.3 1676.1,495.3 1676.6,495.9 1677.2,493.1 1677.7,494.1 1678.2,501.8 1678.7,498.7 1679.3,494.0 1679.8,497.5 1680.3,493.2 1680.8,500.6 1681.4,492.8 1681.9,499.1 1682.4,496.3 1682.9,496.5 1683.4,493.8 1684.0,495.6 1684.5,494.1 1685.0,493.8 1685.5,498.2 1686.1,505.0 1686.6,495.7 1687.1,500.2 1687.6,496.9 1688.2,494.7 1688.7,501.5 1689.2,499.2 1689.7,500.9 1690.2,497.7 1690.8,497.8 1691.3,494.7 1691.8,496.6 1692.3,503.0 1692.9,490.1 1693.4,498.9 1693.9,502.5 1694.4,500.4 1695.0,500.7 1695.5,497.0 1696.0,501.6 1696.5,501.8 1697.0,497.9 1697.6,503.6 1698.1,496.6 1698.6,490.1 1699.1,498.3 1699.7,498.0 1700.2,495.6 1700.7,497.0 1701.2,496.8 1701.8,492.7 1702.3,502.7 1702.8,498.8 1703.3,507.6 1703.8,498.9 1704.4,500.3 1704.9,494.2 1705.4,502.5 1705.9,495.7 1706.5,501.1 1707.0,502.5 1707.5,502.1 1708.0,497.0 1708.5,497.2 1709.1,502.4 1709.6,503.9 1710.1,504.8 1710.6,500.2 1711.2,500.0 1711.7,506.3 1712.2,498.7 1712.7,503.2 1713.3,499.8 1713.8,496.4 1714.3,497.5 1714.8,502.7 1715.3,502.1 1715.9,503.1 1716.4,500.4 1716.9,500.1 1717.4,502.7 1718.0,501.3 1718.5,496.8 1719.0,500.7 1719.5,507.7 1720.1,499.8 1720.6,504.2 1721.1,502.2 1721.6,504.9 1722.1,499.8 1722.7,498.6 1723.2,504.2 1723.7,500.5 1724.2,502.8 1724.8,501.9 1725.3,506.1 1725.8,503.8 1726.3,503.5 1726.9,499.9 1727.4,498.0 1727.9,500.4 1728.4,505.9 1728.9,505.4 1729.5,505.1 1730.0,502.0 1730.5,500.0 1731.0,507.0 1731.6,503.9 1732.1,505.1 1732.6,500.3 1733.1,501.2 1733.7,505.5 1734.2,505.8 1734.7,500.3 1735.2,504.4 1735.7,499.7 1736.3,507.5 1736.8,505.7 1737.3,510.9 1737.8,508.5 1738.4,501.5 1738.9,504.3 1739.4,502.1 1739.9,504.1 1740.5,506.2 1741.0,503.7 1741.5,503.9 1742.0,499.5 1742.5,505.7 1743.1,503.8 1743.6,505.9 1744.1,507.2 1744.6,504.0 1745.2,506.2 1745.7,502.0 1746.2,507.0 1746.7,504.0 1747.3,502.2 1747.8,503.4 1748.3,499.6 1748.8,502.1 1749.3,502.8 1749.9,504.3 1750.4,504.0 1750.9,502.3 1751.4,503.8 1752.0,497.6 1752.5,504.8 1753.0,506.3 1753.5,507.1 1754.1,508.1 1754.6,504.0 1755.1,504.4 1755.6,503.2 1756.1,503.2 1756.7,505.2 1757.2,509.2 1757.7,499.5 1758.2,503.4 1758.8,505.9 1759.3,501.9 1759.8,506.4 1760.3,500.7 1760.8,504.1 1761.4,499.9 1761.9,506.1 1762.4,502.8 1762.9,507.4 1763.5,504.4 1764.0,502.3 1764.5,504.0 1765.0,505.8 1765.6,505.4 1766.1,504.6 1766.6,504.3 1767.1,505.5 1767.6,508.2 1768.2,503.7 1768.7,506.9 1769.2,501.3 1769.7,508.5 1770.3,506.7 1770.8,504.5 1771.3,504.5 1771.8,500.2 1772.4,505.9 1772.9,504.8 1773.4,501.2 1773.9,504.2 1774.4,507.5 1775.0,506.2 1775.5,506.5 1776.0,503.9 1776.5,508.4 1777.1,505.6 1777.6,508.4 1778.1,512.8 1778.6,499.3 1779.2,504.1 1779.7,505.8 1780.2,503.4 1780.7,509.0 1781.2,504.7 1781.8,511.1 1782.3,508.2 1782.8,507.2 1783.3,505.8 1783.9,508.5 1784.4,507.4 1784.9,510.5 1785.4,507.2 1786.0,509.2 1786.5,507.2 1787.0,507.0 1787.5,501.0 1788.0,506.0 1788.6,507.2 1789.1,502.3 1789.6,501.6 1790.1,505.1 1790.7,507.0 1791.2,500.7 1791.7,507.1 1792.2,509.2 1792.8,505.4 1793.3,507.0 1793.8,507.8 1794.3,504.2 1794.8,508.4 1795.4,507.9 1795.9,502.5 1796.4,508.2 1796.9,509.4 1797.5,503.2 1798.0,509.4 1798.5,505.9 1799.0,502.5 1799.6,503.5 1800.1,504.1 1800.6,508.7 1801.1,505.5 1801.6,505.8 1802.2,503.1 1802.7,507.2 1803.2,503.3 1803.7,505.1 1804.3,509.3 1804.8,509.5 1805.3,505.7 1805.8,507.3 1806.4,509.2 1806.9,507.5 1807.4,511.4 1807.9,511.9 1808.4,507.3 1809.0,503.7 1809.5,507.2 1810.0,512.0 1810.5,511.3 1811.1,511.5 1811.6,511.3 1812.1,506.2 1812.6,508.7 1813.1,511.3 1813.7,508.7 1814.2,510.7 1814.7,504.7 1815.2,504.0 1815.8,514.3 1816.3,510.4 1816.8,509.9 1817.3,512.7 1817.9,515.1 1818.4,517.2 1818.9,500.4 1819.4,509.3 1819.9,511.4 1820.5,502.0 1821.0,502.4 1821.5,507.6 1822.0,514.2 1822.6,511.2 1823.1,515.1 1823.6,509.1 1824.1,511.7 1824.7,513.1 1825.2,509.7 1825.7,508.2 1826.2,508.7 1826.7,496.5 1827.3,509.3 1827.8,502.3 1828.3,505.7 1828.8,510.6 1829.4,509.6 1829.9,501.9 1830.4,510.0 1830.9,510.7 1831.5,508.9 1832.0,510.5 1832.5,510.1"/></g>
<g clip-path="url(#c2)"><polyline shape-rendering="crispEdges" fill="none" stroke="#ff0000" stroke-width="5.3" stroke-linejoin="miter" stroke-miterlimit="2" points="263.5,733.7 264.0,713.0 264.5,726.4 265.1,722.0 265.6,722.5 266.1,723.5 266.6,715.4 267.2,723.5 267.7,720.7 268.2,739.5 268.7,725.6 269.3,723.0 269.8,723.3 270.3,721.6 270.8,719.9 271.3,722.9 271.9,726.8 272.4,723.6 272.9,729.0 273.4,723.8 274.0,724.9 274.5,731.7 275.0,727.3 275.5,722.6 276.1,724.0 276.6,727.3 277.1,733.6 277.6,723.7 278.1,723.9 278.7,729.5 279.2,721.1 279.7,723.8 280.2,729.1 280.8,727.8 281.3,725.6 281.8,728.2 282.3,712.5 282.9,729.9 283.4,721.0 283.9,717.8 284.4,726.6 284.9,728.6 285.5,723.5 286.0,720.7 286.5,725.7 287.0,725.4 287.6,732.0 288.1,729.1 288.6,726.7 289.1,730.9 289.7,725.0 290.2,721.9 290.7,728.8 291.2,728.9 291.7,725.4 292.3,722.9 292.8,727.6 293.3,715.5 293.8,729.9 294.4,729.2 294.9,719.7 295.4,727.5 295.9,723.0 296.4,730.9 297.0,718.4 297.5,723.6 298.0,731.1 298.5,733.2 299.1,718.4 299.6,726.0 300.1,729.9 300.6,725.8 301.2,735.8 301.7,723.4 302.2,730.5 302.7,724.3 303.2,735.5 303.8,729.2 304.3,727.7 304.8,721.8 305.3,737.2 305.9,733.1 306.4,733.2 306.9,735.0 307.4,731.6 308.0,727.2 308.5,726.5 309.0,726.6 309.5,736.4 310.0,723.8 310.6,727.7 311.1,729.0 311.6,731.5 312.1,733.1 312.7,724.9 313.2,722.8 313.7,730.6 314.2,736.1 314.8,734.1 315.3,731.7 315.8,729.3 316.3,732.1 316.8,729.7 317.4,734.5 317.9,727.3 318.4,731.5 318.9,730.5 319.5,733.4 320.0,732.0 320.5,742.5 321.0,737.8 321.6,737.8 322.1,721.9 322.6,729.6 323.1,728.4 323.6,733.6 324.2,721.0 324.7,736.5 325.2,736.1 325.7,725.4 326.3,726.9 326.8,727.8 327.3,731.6 327.8,734.3 328.4,740.7 328.9,730.6 329.4,735.0 329.9,732.3 330.4,739.5 331.0,735.0 331.5,737.9 332.0,726.9 332.5,730.9 333.1,728.2 333.6,738.7 334.1,734.9 334.6,730.6 335.2,730.0 335.7,734.3 336.2,729.1 336.7,728.1 337.2,734.5 337.8,743.6 338.3,731.5 338.8,730.2 339.3,727.5 339.9,726.9 340.4,735.3 340.9,736.9 341.4,733.3 342.0,734.8 342.5,734.0 343.0,734.2 343.5,726.8 344.0,731.8 344.6,734.4 345.1,730.5 345.6,732.0 346.1,730.6 346.7,732.9 347.2,738.4 347.7,732.9 348.2,734.1 348.7,738.6 349.3,738.0 349.8,742.8 350.3,725.9 350.8,739.3 351.4,733.4 351.9,736.3 352.4,739.6 352.9,740.8 353.5,740.7 354.0,736.8 354.5,743.4 355.0,735.0 355.5,735.8 356.1,740.1 356.6,734.1 357.1,746.4 357.6,741.3 358.2,746.6 358.7,736.7 359.2,735.2 359.7,737.7 360.3,740.3 360.8,734.5 361.3,738.9 361.8,737.1 362.3,744.5 362.9,734.4 363.4,742.1 363.9,734.6 364.4,733.2 365.0,734.4 365.5,732.3 366.0,738.3 366.5,742.4 367.1,738.5 367.6,740.6 368.1,745.2 368.6,739.1 369.1,738.8 369.7,736.8 370.2,730.8 370.7,741.5 371.2,730.3 371.8,741.1 372.3,738.2 372.8,743.4 373.3,738.0 373.9,734.7 374.4,740.0 374.9,736.0 375.4,737.7 375.9,738.8 376.5,738.0 377.0,737.8 377.5,735.0 378.0,737.9 378.6,729.2 379.1,738.2 379.6,733.5 380.1,744.0 380.7,744.7 381.2,730.3 381.7,739.8 382.2,738.6 382.7,734.5 383.3,741.7 383.8,737.3 384.3,731.4 384.8,738.3 385.4,738.8 385.9,740.1 386.4,734.1 386.9,742.5 387.5,743.1 388.0,734.7 388.5,736.9 389.0,739.6 389.5,737.5 390.1,748.0 390.6,741.1 391.1,735.7 391.6,736.8 392.2,740.1 392.7,750.8 393.2,739.7 393.7,741.1 394.3,742.9 394.8,740.5 395.3,751.0 395.8,738.4 396.3,744.2 396.9,741.6 397.4,743.8 397.9,735.7 398.4,749.0 399.0,740.6 399.5,741.3 400.0,737.0 400.5,737.9 401.0,743.8 401.6,745.7 402.1,744.7 402.6,746.8 403.1,744.6 403.7,741.5 404.2,745.1 404.7,744.1 405.2,740.9 405.8,744.6 406.3,747.1 406.8,742.4 407.3,739.8 407.8,744.6 408.4,749.9 408.9,740.5 409.4,741.0 409.9,740.8 410.5,746.8 411.0,733.2 411.5,743.0 412.0,746.7 412.6,737.8 413.1,748.0 413.6,743.8 414.1,739.0 414.6,742.3 415.2,734.6 415.7,738.9 416.2,749.5 416.7,737.4 417.3,749.6 417.8,741.0 418.3,745.8 418.8,741.6 419.4,731.5 419.9,738.9 420.4,742.2 420.9,736.3 421.4,735.5 422.0,743.0 422.5,738.5 423.0,734.0 423.5,738.4 424.1,745.2 424.6,739.3 425.1,745.5 425.6,748.1 426.2,741.5 426.7,736.5 427.2,735.7 427.7,741.3 428.2,745.2 428.8,742.6 429.3,743.8 429.8,739.5 430.3,742.7 430.9,739.3 431.4,740.0 431.9,735.8 432.4,734.6 433.0,739.3 433.5,736.6 434.0,737.2 434.5,744.3 435.0,740.9 435.6,754.0 436.1,745.4 436.6,738.7 437.1,744.8 437.7,742.9 438.2,738.4 438.7,746.2 439.2,738.1 439.8,728.2 440.3,744.8 440.8,738.7 441.3,747.8 441.8,738.6 442.4,736.3 442.9,748.1 443.4,736.8 443.9,742.3 444.5,747.6 445.0,741.9 445.5,741.1 446.0,741.8 446.6,745.0 447.1,737.9 447.6,744.0 448.1,743.9 448.6,751.4 449.2,740.0 449.7,737.5 450.2,744.5 450.7,739.7 451.3,742.6 451.8,742.0 452.3,746.4 452.8,738.6 453.3,741.0 453.9,730.6 454.4,737.6 454.9,747.9 455.4,738.5 456.0,738.4 456.5,736.2 457.0,743.8 457.5,742.1 458.1,736.3 458.6,744.1 459.1,742.4 459.6,744.5 460.1,738.6 460.7,748.6 461.2,742.9 461.7,740.7 462.2,739.0 462.8,740.1 463.3,744.7 463.8,740.0 464.3,745.6 464.9,743.5 465.4,746.7 465.9,744.4 466.4,740.7 466.9,733.0 467.5,742.2 468.0,744.2 468.5,741.6 469.0,743.2 469.6,738.9 470.1,739.3 470.6,736.9 471.1,746.5 471.7,741.5 472.2,738.7 472.7,735.2 473.2,740.1 473.7,746.7 474.3,742.6 474.8,737.7 475.3,746.6 475.8,746.6 476.4,744.8 476.9,744.0 477.4,745.5 477.9,742.9 478.5,743.9 479.0,737.5 479.5,746.9 480.0,741.7 480.5,749.1 481.1,732.3 481.6,743.7 482.1,744.8 482.6,739.4 483.2,742.6 483.7,743.9 484.2,743.2 484.7,738.6 485.3,740.2 485.8,745.0 486.3,746.1 486.8,741.3 487.3,741.2 487.9,741.7 488.4,745.2 488.9,736.6 489.4,735.5 490.0,741.5 490.5,736.5 491.0,738.6 491.5,741.4 492.1,743.0 492.6,736.7 493.1,744.3 493.6,733.9 494.1,743.3 494.7,734.7 495.2,736.0 495.7,743.7 496.2,739.5 496.8,737.9 497.3,739.4 497.8,743.1 498.3,741.0 498.9,741.1 499.4,745.4 499.9,738.3 500.4,739.3 500.9,739.1 501.5,745.9 502.0,745.2 502.5,746.4 503.0,741.0 503.6,740.5 504.1,744.6 504.6,739.5 505.1,744.4 505.6,744.0 506.2,738.2 506.7,740.7 507.2,740.5 507.7,747.8 508.3,751.2 508.8,740.4 509.3,740.8 509.8,731.6 510.4,741.5 510.9,740.6 511.4,736.3 511.9,743.6 512.4,734.2 513.0,739.5 513.5,740.9 514.0,735.3 514.5,743.6 515.1,744.3 515.6,734.6 516.1,734.4 516.6,742.3 517.2,739.8 517.7,735.1 518.2,738.6 518.7,739.3 519.2,739.1 519.8,742.9 520.3,741.1 520.8,746.5 521.3,744.8 521.9,742.0 522.4,743.6 522.9,744.5 523.4,742.0 524.0,734.4 524.5,742.5 525.0,739.4 525.5,745.4 526.0,739.4 526.6,741.0 527.1,740.2 527.6,745.5 528.1,739.5 528.7,737.7 529.2,740.0 529.7,737.0 530.2,739.3 530.8,738.6 531.3,739.6 531.8,746.0 532.3,736.9 532.8,738.6 533.4,737.6 533.9,740.9 534.4,733.7 534.9,735.6 535.5,738.0 536.0,740.3 536.5,737.9 537.0,736.1 537.6,734.7 538.1,740.0 538.6,743.5 539.1,739.2 539.6,738.6 540.2,739.5 540.7,734.2 541.2,736.6 541.7,736.7 542.3,738.8 542.8,737.6 543.3,733.0 543.8,741.9 544.4,744.1 544.9,736.6 545.4,739.1 545.9,738.6 546.4,740.5 547.0,731.9 547.5,743.7 548.0,735.7 548.5,742.3 549.1,737.8 549.6,736.0 550.1,737.0 550.6,740.9 551.2,734.2 551.7,736.1 552.2,735.7 552.7,731.0 553.2,742.4 553.8,739.7 554.3,737.4 554.8,741.9 555.3,733.9 555.9,737.2 556.4,744.0 556.9,741.2 557.4,729.1 557.9,724.9 558.5,733.6 559.0,741.5 559.5,735.7 560.0,736.7 560.6,739.8 561.1,734.2 561.6,738.3 562.1,740.5 562.7,739.3 563.2,739.0 563.7,735.2 564.2,739.4 564.7,735.9 565.3,742.4 565.8,747.2 566.3,734.7 566.8,729.3 567.4,735.9 567.9,738.9 568.4,741.4 568.9,741.5 569.5,734.5 570.0,734.5 570.5,742.2 571.0,733.3 571.5,741.5 572.1,736.6 572.6,740.3 573.1,740.0 573.6,740.3 574.2,740.4 574.7,733.6 575.2,738.4 575.7,737.3 576.3,738.4 576.8,741.9 577.3,736.2 577.8,734.5 578.3,734.4 578.9,736.0 579.4,739.9 579.9,734.0 580.4,741.4 581.0,738.1 581.5,736.1 582.0,732.0 582.5,737.8 583.1,739.5 583.6,730.3 584.1,741.3 584.6,742.9 585.1,738.0 585.7,738.6 586.2,745.7 586.7,741.2 587.2,733.2 587.8,736.4 588.3,735.7 588.8,735.6 589.3,727.3 589.9,738.7 590.4,733.4 590.9,736.2 591.4,734.9 591.9,738.5 592.5,734.0 593.0,731.9 593.5,736.7 594.0,739.8 594.6,733.2 595.1,739.3 595.6,735.1 596.1,732.0 596.7,739.5 597.2,730.7 597.7,737.4 598.2,731.7 598.7,735.2 599.3,728.9 599.8,730.3 600.3,737.3 600.8,733.9 601.4,732.6 601.9,728.2 602.4,722.8 602.9,696.1 603.5,658.8 604.0,608.0 604.5,558.5 605.0,539.6 605.5,562.0 606.1,611.9 606.6,664.3 607.1,707.6 607.6,725.4 608.2,734.2 608.7,732.0 609.2,730.8 609.7,727.4 610.2,731.5 610.8,725.1 611.3,730.6 611.8,735.5 612.3,738.7 612.9,736.3 613.4,729.5 613.9,734.5 614.4,729.8 615.0,735.7 615.5,732.3 616.0,735.9 616.5,742.2 617.0,736.2 617.6,741.4 618.1,733.5 618.6,731.7 619.1,737.9 619.7,739.3 620.2,731.1 620.7,733.4 621.2,728.0 621.8,732.6 622.3,736.6 622.8,733.2 623.3,731.5 623.8,728.5 624.4,735.1 624.9,736.7 625.4,736.1 625.9,734.9 626.5,729.4 627.0,740.6 627.5,734.1 628.0,733.8 628.6,737.1 629.1,726.6 629.6,734.4 630.1,734.2 630.6,736.1 631.2,739.7 631.7,736.6 632.2,728.3 632.7,733.8 633.3,735.8 633.8,735.6 634.3,730.5 634.8,729.2 635.4,737.2 635.9,736.5 636.4,735.3 636.9,729.1 637.4,741.9 638.0,725.0 638.5,734.2 639.0,743.2 639.5,735.1 640.1,736.5 640.6,731.5 641.1,740.7 641.6,731.1 642.2,736.8 642.7,736.4 643.2,732.2 643.7,739.2 644.2,730.9 644.8,733.6 645.3,736.0 645.8,734.7 646.3,737.9 646.9,739.6 647.4,735.2 647.9,734.4 648.4,734.5 649.0,735.1 649.5,739.3 650.0,735.7 650.5,738.0 651.0,736.2 651.6,733.5 652.1,739.7 652.6,732.9 653.1,736.6 653.7,742.0 654.2,732.7 654.7,736.5 655.2,731.0 655.8,734.9 656.3,731.3 656.8,735.4 657.3,734.8 657.8,737.2 658.4,742.4 658.9,737.7 659.4,739.0 659.9,736.5 660.5,735.8 661.0,733.7 661.5,730.2 662.0,736.9 662.5,742.4 663.1,738.3 663.6,734.6 664.1,742.4 664.6,734.9 665.2,734.2 665.7,732.1 666.2,733.0 666.7,735.5 667.3,743.4 667.8,735.5 668.3,732.6 668.8,734.0 669.3,735.4 669.9,730.0 670.4,736.5 670.9,738.5 671.4,737.1 672.0,738.1 672.5,731.3 673.0,729.8 673.5,740.4 674.1,739.6 674.6,730.2 675.1,736.4 675.6,735.7 676.1,737.5 676.7,736.3 677.2,733.7 677.7,736.1 678.2,735.9 678.8,735.2 679.3,728.7 679.8,724.6 680.3,732.4 680.9,729.4 681.4,736.0 681.9,737.6 682.4,736.0 682.9,733.7 683.5,735.2 684.0,739.0 684.5,732.3 685.0,738.0 685.6,737.2 686.1,735.6 686.6,739.7 687.1,732.0 687.7,737.8 688.2,731.2 688.7,731.7 689.2,730.6 689.7,735.8 690.3,730.9 690.8,734.3 691.3,730.0 691.8,737.7 692.4,740.4 692.9,734.6 693.4,739.6 693.9,735.7 694.5,741.3 695.0,733.9 695.5,728.0 696.0,738.7 696.5,733.0 697.1,729.7 697.6,731.0 698.1,727.5 698.6,732.6 699.2,729.4 699.7,738.3 700.2,735.4 700.7,727.2 701.3,727.7 701.8,730.9 702.3,726.1 702.8,732.5 703.3,732.7 703.9,730.1 704.4,730.8 704.9,734.5 705.4,737.7 706.0,737.9 706.5,732.8 707.0,735.6 707.5,730.1 708.1,734.1 708.6,729.3 709.1,735.1 709.6,728.3 710.1,729.2 710.7,732.5 711.2,734.5 711.7,727.5 712.2,730.7 712.8,733.0 713.3,733.3 713.8,729.6 714.3,732.8 714.8,731.6 715.4,737.4 715.9,734.4 716.4,727.9 716.9,724.8 717.5,732.8 718.0,736.5 718.5,733.0 719.0,735.5 719.6,730.7 720.1,727.7 720.6,735.0 721.1,732.7 721.6,734.8 722.2,727.6 722.7,733.0 723.2,730.2 723.7,735.1 724.3,730.3 724.8,730.2 725.3,730.3 725.8,736.7 726.4,732.4 726.9,729.7 727.4,728.7 727.9,728.7 728.4,737.3 729.0,726.0 729.5,729.3 730.0,734.4 730.5,736.2 731.1,731.6 731.6,734.8 732.1,734.6 732.6,735.3 733.2,732.0 733.7,737.5 734.2,732.5 734.7,736.9 735.2,727.8 735.8,734.8 736.3,727.1 736.8,726.2 737.3,733.0 737.9,728.3 738.4,732.6 738.9,727.3 739.4,736.4 740.0,730.8 740.5,726.8 741.0,731.2 741.5,733.5 742.0,727.7 742.6,732.0 743.1,737.1 743.6,733.0 744.1,729.9 744.7,727.9 745.2,731.7 745.7,724.5 746.2,719.2 746.8,727.2 747.3,725.7 747.8,735.3 748.3,729.7 748.8,725.8 749.4,725.2 749.9,730.8 750.4,726.2 750.9,727.0 751.5,728.7 752.0,729.2 752.5,729.3 753.0,729.3 753.6,733.3 754.1,734.7 754.6,723.3 755.1,737.7 755.6,729.4 756.2,733.2 756.7,726.5 757.2,730.1 757.7,729.8 758.3,729.4 758.8,732.0 759.3,731.2 759.8,725.7 760.4,728.7 760.9,731.6 761.4,731.5 761.9,728.1 762.4,728.3 763.0,728.8 763.5,725.6 764.0,725.0 764.5,734.7 765.1,728.1 765.6,729.8 766.1,727.0 766.6,733.9 767.1,735.5 767.7,728.9 768.2,731.4 768.7,727.2 769.2,735.7 769.8,732.9 770.3,727.0 770.8,734.1 771.3,731.2 771.9,731.5 772.4,731.4 772.9,728.0 773.4,728.6 773.9,732.6 774.5,730.4 775.0,727.5 775.5,737.7 776.0,730.2 776.6,729.2 777.1,728.9 777.6,733.6 778.1,734.7 778.7,732.4 779.2,734.6 779.7,726.8 780.2,730.7 780.7,730.5 781.3,732.2 781.8,734.0 782.3,725.6 782.8,743.0 783.4,729.7 783.9,733.9 784.4,735.6 784.9,735.7 785.5,733.7 786.0,723.3 786.5,729.4 787.0,735.7 787.5,730.1 788.1,729.7 788.6,725.4 789.1,737.4 789.6,735.1 790.2,730.4 790.7,733.0 791.2,733.2 791.7,729.8 792.3,732.7 792.8,734.5 793.3,735.5 793.8,737.9 794.3,733.8 794.9,732.2 795.4,735.2 795.9,731.8 796.4,729.7 797.0,737.8 797.5,732.7 798.0,734.5 798.5,736.3 799.1,730.5 799.6,736.3 800.1,735.8 800.6,734.0 801.1,735.7 801.7,731.9 802.2,727.2 802.7,733.6 803.2,731.6 803.8,737.5 804.3,735.6 804.8,733.0 805.3,735.0 805.9,739.4 806.4,738.7 806.9,736.2 807.4,736.5 807.9,734.2 808.5,734.8 809.0,737.2 809.5,734.9 810.0,736.4 810.6,731.7 811.1,730.0 811.6,729.9 812.1,734.2 812.7,740.1 813.2,739.7 813.7,732.5 814.2,730.7 814.7,738.6 815.3,737.6 815.8,731.6 816.3,739.7 816.8,736.8 817.4,740.7 817.9,737.5 818.4,739.4 818.9,737.6 819.4,733.5 820.0,735.9 820.5,734.5 821.0,739.6 821.5,733.7 822.1,732.0 822.6,739.4 823.1,741.0 823.6,742.1 824.2,741.0 824.7,732.5 825.2,735.3 825.7,735.9 826.2,737.7 826.8,730.8 827.3,738.0 827.8,739.0 828.3,735.1 828.9,738.8 829.4,742.4 829.9,738.8 830.4,742.3 831.0,742.3 831.5,740.4 832.0,740.5 832.5,738.2 833.0,743.6 833.6,738.2 834.1,737.6 834.6,742.3 835.1,737.8 835.7,741.7 836.2,744.0 836.7,741.0 837.2,741.2 837.8,744.0 838.3,743.7 838.8,736.3 839.3,737.3 839.8,746.1 840.4,743.2 840.9,735.3 841.4,737.9 841.9,742.5 842.5,739.4 843.0,744.3 843.5,743.2 844.0,744.7 844.6,739.5 845.1,745.5 845.6,750.0 846.1,741.2 846.6,748.2 847.2,747.3 847.7,746.4 848.2,744.2 848.7,740.8 849.3,741.9 849.8,747.4 850.3,748.2 850.8,749.2 851.4,748.5 851.9,748.5 852.4,744.3 852.9,741.9 853.4,746.7 854.0,747.8 854.5,746.6 855.0,741.5 855.5,744.9 856.1,742.0 856.6,747.4 857.1,743.7 857.6,746.7 858.2,748.4 858.7,748.0 859.2,752.1 859.7,744.2 860.2,740.9 860.8,751.1 861.3,752.7 861.8,753.0 862.3,749.4 862.9,750.3 863.4,749.1 863.9,744.6 864.4,747.0 865.0,750.6 865.5,747.2 866.0,755.3 866.5,744.3 867.0,747.9 867.6,753.0 868.1,747.6 868.6,746.0 869.1,745.3 869.7,747.4 870.2,754.7 870.7,751.2 871.2,751.7 871.7,748.4 872.3,752.9 872.8,750.6 873.3,747.3 873.8,748.9 874.4,751.1 874.9,754.3 875.4,750.4 875.9,752.3 876.5,757.2 877.0,748.2 877.5,746.9 878.0,754.1 878.5,752.4 879.1,750.8 879.6,752.0 880.1,750.2 880.6,753.0 881.2,750.3 881.7,754.1 882.2,747.8 882.7,749.0 883.3,752.1 883.8,750.3 884.3,754.1 884.8,751.9 885.3,750.4 885.9,752.9 886.4,750.6 886.9,747.4 887.4,748.9 888.0,750.1 888.5,751.2 889.0,753.2 889.5,755.9 890.1,754.8 890.6,758.9 891.1,757.4 891.6,752.8 892.1,758.8 892.7,757.4 893.2,752.4 893.7,754.9 894.2,757.5 894.8,755.0 895.3,757.6 895.8,755.7 896.3,756.8 896.9,753.7 897.4,756.0 897.9,753.8 898.4,757.3 898.9,749.9 899.5,756.4 900.0,759.5 900.5,757.5 901.0,755.7 901.6,757.6 902.1,753.3 902.6,753.5 903.1,755.1 903.7,755.9 904.2,759.6 904.7,753.8 905.2,760.0 905.7,751.9 906.3,754.6 906.8,757.1 907.3,761.0 907.8,755.5 908.4,750.8 908.9,759.0 909.4,757.7 909.9,754.5 910.5,754.7 911.0,755.9 911.5,758.5 912.0,760.4 912.5,753.8 913.1,765.8 913.6,758.6 914.1,757.6 914.6,761.0 915.2,759.4 915.7,766.5 916.2,762.7 916.7,758.2 917.3,758.3 917.8,758.0 918.3,758.7 918.8,762.0 919.3,757.9 919.9,765.2 920.4,759.9 920.9,759.8 921.4,763.4 922.0,754.3 922.5,757.7 923.0,762.6 923.5,760.9 924.0,760.9 924.6,762.3 925.1,759.3 925.6,760.7 926.1,757.1 926.7,755.6 927.2,765.5 927.7,758.7 928.2,759.5 928.8,766.2 929.3,765.3 929.8,760.4 930.3,760.5 930.8,761.9 931.4,759.3 931.9,764.1 932.4,762.9 932.9,762.9 933.5,764.9 934.0,764.9 934.5,768.5 935.0,767.5 935.6,757.5 936.1,765.7 936.6,759.5 937.1,758.6 937.6,765.3 938.2,761.0 938.7,762.2 939.2,766.6 939.7,761.3 940.3,760.6 940.8,764.5 941.3,767.3 941.8,765.2 942.4,758.8 942.9,761.6 943.4,763.2 943.9,769.8 944.4,766.6 945.0,766.5 945.5,767.6 946.0,763.0 946.5,765.5 947.1,765.6 947.6,761.1 948.1,764.1 948.6,765.9 949.2,760.9 949.7,766.8 950.2,766.7 950.7,767.6 951.2,762.0 951.8,764.8 952.3,769.0 952.8,767.0 953.3,762.2 953.9,765.4 954.4,769.1 954.9,764.5 955.4,766.0 956.0,772.8 956.5,764.8 957.0,764.6 957.5,761.9 958.0,763.0 958.6,769.7 959.1,764.7 959.6,761.6 960.1,762.4 960.7,765.3 961.2,767.7 961.7,763.1 962.2,767.6 962.8,764.0 963.3,766.6 963.8,767.2 964.3,767.5 964.8,764.3 965.4,765.2 965.9,767.3 966.4,761.8 966.9,766.3 967.5,767.4 968.0,769.1 968.5,765.8 969.0,765.4 969.6,766.5 970.1,763.9 970.6,765.5 971.1,767.4 971.6,767.1 972.2,763.1 972.7,765.3 973.2,759.9 973.7,768.8 974.3,764.8 974.8,767.2 975.3,763.2 975.8,766.3 976.3,768.0 976.9,769.6 977.4,762.6 977.9,769.3 978.4,766.3 979.0,764.5 979.5,768.4 980.0,766.1 980.5,766.1 981.1,765.0 981.6,767.8 982.1,767.3 982.6,766.7 983.1,764.5 983.7,765.9 984.2,768.7 984.7,771.4 985.2,767.5 985.8,771.9 986.3,767.7 986.8,764.5 987.3,769.8 987.9,765.1 988.4,769.2 988.9,771.3 989.4,767.3 989.9,768.0 990.5,775.7 991.0,769.1 991.5,769.3 992.0,770.9 992.6,768.4 993.1,768.5 993.6,770.0 994.1,761.8 994.7,773.2 995.2,765.9 995.7,765.9 996.2,770.8 996.7,769.4 997.3,765.7 997.8,770.1 998.3,766.1 998.8,767.5 999.4,765.2 999.9,767.3 1000.4,771.0 1000.9,770.2 1001.5,770.8 1002.0,772.7 1002.5,769.9 1003.0,768.2 1003.5,769.3 1004.1,775.0 1004.6,770.4 1005.1,771.2 1005.6,770.1 1006.2,771.1 1006.7,771.7 1007.2,770.5 1007.7,770.1 1008.3,768.3 1008.8,768.2 1009.3,771.8 1009.8,772.9 1010.3,773.4 1010.9,770.9 1011.4,768.4 1011.9,772.7 1012.4,772.7 1013.0,766.6 1013.5,773.3 1014.0,772.7 1014.5,775.9 1015.1,767.8 1015.6,767.4 1016.1,773.4 1016.6,766.0 1017.1,769.1 1017.7,768.1 1018.2,768.3 1018.7,765.8 1019.2,770.6 1019.8,774.2 1020.3,772.7 1020.8,772.7 1021.3,770.4 1021.9,775.7 1022.4,773.0 1022.9,774.6 1023.4,767.1 1023.9,772.6 1024.5,768.4 1025.0,772.7 1025.5,772.3 1026.0,768.5 1026.6,772.3 1027.1,775.1 1027.6,773.3 1028.1,773.6 1028.6,769.5 1029.2,770.0 1029.7,768.8 1030.2,772.4 1030.7,775.5 1031.3,773.4 1031.8,772.2 1032.3,769.0 1032.8,773.5 1033.4,771.6 1033.9,766.9 1034.4,767.5 1034.9,771.4 1035.4,769.9 1036.0,777.1 1036.5,772.6 1037.0,769.6 1037.5,771.2 1038.1,777.1 1038.6,770.0 1039.1,774.9 1039.6,774.0 1040.2,776.9 1040.7,774.3 1041.2,771.7 1041.7,774.4 1042.2,773.1 1042.8,775.7 1043.3,772.8 1043.8,778.6 1044.3,772.8 1044.9,774.4 1045.4,771.3 1045.9,773.6 1046.4,773.3 1047.0,773.8 1047.5,775.8 1048.0,771.8 1048.5,771.0 1049.0,776.5 1049.6,772.6 1050.1,771.6 1050.6,776.7 1051.1,775.7 1051.7,766.2 1052.2,772.5 1052.7,775.8 1053.2,776.0 1053.8,772.2 1054.3,778.0 1054.8,771.5 1055.3,773.1 1055.8,774.1 1056.4,773.8 1056.9,776.1 1057.4,776.7 1057.9,773.7 1058.5,777.8 1059.0,772.0 1059.5,773.4 1060.0,778.7 1060.6,774.3 1061.1,777.0 1061.6,772.9 1062.1,773.3 1062.6,773.8 1063.2,774.6 1063.7,773.2 1064.2,774.2 1064.7,776.0 1065.3,777.5 1065.8,774.5 1066.3,776.0 1066.8,776.8 1067.4,771.4 1067.9,770.0 1068.4,778.7 1068.9,778.0 1069.4,774.5 1070.0,775.3 1070.5,771.8 1071.0,770.6 1071.5,775.3 1072.1,770.4 1072.6,776.9 1073.1,772.6 1073.6,775.2 1074.2,779.7 1074.7,779.6 1075.2,773.7 1075.7,777.4 1076.2,771.7 1076.8,772.9 1077.3,775.5 1077.8,778.2 1078.3,772.9 1078.9,775.9 1079.4,774.8 1079.9,771.1 1080.4,774.1 1080.9,778.5 1081.5,774.2 1082.0,775.8 1082.5,776.7 1083.0,772.5 1083.6,777.8 1084.1,778.5 1084.6,778.8 1085.1,778.0 1085.7,773.2 1086.2,772.9 1086.7,772.4 1087.2,772.0 1087.7,772.3 1088.3,777.1 1088.8,778.4 1089.3,772.7 1089.8,776.6 1090.4,771.1 1090.9,773.6 1091.4,771.8 1091.9,770.1 1092.5,774.6 1093.0,774.7 1093.5,773.4 1094.0,773.1 1094.5,771.8 1095.1,774.1 1095.6,772.8 1096.1,775.1 1096.6,771.2 1097.2,775.0 1097.7,775.8 1098.2,777.7 1098.7,777.2 1099.3,774.9 1099.8,772.6 1100.3,769.6 1100.8,774.4 1101.3,778.2 1101.9,778.8 1102.4,767.7 1102.9,772.4 1103.4,773.5 1104.0,771.7 1104.5,775.0 1105.0,774.6 1105.5,773.1 1106.1,774.4 1106.6,770.3 1107.1,772.0 1107.6,772.2 1108.1,777.0 1108.7,770.3 1109.2,774.1 1109.7,776.7 1110.2,774.5 1110.8,776.9 1111.3,773.0 1111.8,775.9 1112.3,777.2 1112.9,780.7 1113.4,776.8 1113.9,778.6 1114.4,774.9 1114.9,775.2 1115.5,779.1 1116.0,776.5 1116.5,778.8 1117.0,776.9 1117.6,780.7 1118.1,781.4 1118.6,772.9 1119.1,780.0 1119.7,776.3 1120.2,776.4 1120.7,774.9 1121.2,777.1 1121.7,772.3 1122.3,773.3 1122.8,773.2 1123.3,776.0 1123.8,777.7 1124.4,777.2 1124.9,776.2 1125.4,773.7 1125.9,770.6 1126.5,776.3 1127.0,775.6 1127.5,776.2 1128.0,779.0 1128.5,774.8 1129.1,774.7 1129.6,769.1 1130.1,776.7 1130.6,775.1 1131.2,773.2 1131.7,776.2 1132.2,772.4 1132.7,773.7 1133.2,780.3 1133.8,777.1 1134.3,777.5 1134.8,777.0 1135.3,776.7 1135.9,775.5 1136.4,781.1 1136.9,774.8 1137.4,776.9 1138.0,774.4 1138.5,774.0 1139.0,768.4 1139.5,769.8 1140.0,779.0 1140.6,778.8 1141.1,773.7 1141.6,774.7 1142.1,776.4 1142.7,772.1 1143.2,779.4 1143.7,772.0 1144.2,772.8 1144.8,767.4 1145.3,778.7 1145.8,774.8 1146.3,779.0 1146.8,772.0 1147.4,775.5 1147.9,774.8 1148.4,775.2 1148.9,780.1 1149.5,780.6 1150.0,778.3 1150.5,773.6 1151.0,777.0 1151.6,778.2 1152.1,776.2 1152.6,776.2 1153.1,776.0 1153.6,772.4 1154.2,775.4 1154.7,779.1 1155.2,772.2 1155.7,775.1 1156.3,777.1 1156.8,771.3 1157.3,774.6 1157.8,770.5 1158.4,773.4 1158.9,771.3 1159.4,772.7 1159.9,773.8 1160.4,774.4 1161.0,774.6 1161.5,768.8 1162.0,779.4 1162.5,774.4 1163.1,772.3 1163.6,773.5 1164.1,776.0 1164.6,772.5 1165.2,774.1 1165.7,774.0 1166.2,776.6 1166.7,773.2 1167.2,776.4 1167.8,776.1 1168.3,774.8 1168.8,778.5 1169.3,775.2 1169.9,772.1 1170.4,776.0 1170.9,775.5 1171.4,775.0 1172.0,775.8 1172.5,781.4 1173.0,775.7 1173.5,776.3 1174.0,774.5 1174.6,778.6 1175.1,774.9 1175.6,773.0 1176.1,771.8 1176.7,776.4 1177.2,777.0 1177.7,770.8 1178.2,773.1 1178.8,776.7 1179.3,777.7 1179.8,771.5 1180.3,773.9 1180.8,777.1 1181.4,773.5 1181.9,773.7 1182.4,773.5 1182.9,771.4 1183.5,775.0 1184.0,775.7 1184.5,771.1 1185.0,775.1 1185.5,777.7 1186.1,775.3 1186.6,777.3 1187.1,773.3 1187.6,778.4 1188.2,772.6 1188.7,779.7 1189.2,773.5 1189.7,772.8 1190.3,772.3 1190.8,773.6 1191.3,773.3 1191.8,772.8 1192.3,773.7 1192.9,776.3 1193.4,776.9 1193.9,773.7 1194.4,777.8 1195.0,771.9 1195.5,771.8 1196.0,771.5 1196.5,776.1 1197.1,770.4 1197.6,770.8 1198.1,777.8 1198.6,779.0 1199.1,778.0 1199.7,770.5 1200.2,774.4 1200.7,776.6 1201.2,774.6 1201.8,770.1 1202.3,773.4 1202.8,769.8 1203.3,771.1 1203.9,780.0 1204.4,776.1 1204.9,770.4 1205.4,770.3 1205.9,775.5 1206.5,772.7 1207.0,775.8 1207.5,772.6 1208.0,773.7 1208.6,774.9 1209.1,771.5 1209.6,769.2 1210.1,771.1 1210.7,772.4 1211.2,773.7 1211.7,774.1 1212.2,774.1 1212.7,775.6 1213.3,771.9 1213.8,778.0 1214.3,779.6 1214.8,775.2 1215.4,774.8 1215.9,777.6 1216.4,776.0 1216.9,774.8 1217.5,773.8 1218.0,772.3 1218.5,771.2 1219.0,776.0 1219.5,777.4 1220.1,771.5 1220.6,774.1 1221.1,774.9 1221.6,773.2 1222.2,772.3 1222.7,773.3 1223.2,769.1 1223.7,774.1 1224.3,773.5 1224.8,779.9 1225.3,776.8 1225.8,773.4 1226.3,774.3 1226.9,778.9 1227.4,778.6 1227.9,774.8 1228.4,774.0 1229.0,770.5 1229.5,773.5 1230.0,773.9 1230.5,772.4 1231.1,778.9 1231.6,769.4 1232.1,774.0 1232.6,775.4 1233.1,775.5 1233.7,778.8 1234.2,770.7 1234.7,772.4 1235.2,774.6 1235.8,774.7 1236.3,773.4 1236.8,772.4 1237.3,777.2 1237.8,771.6 1238.4,772.9 1238.9,778.2 1239.4,779.0 1239.9,776.7 1240.5,772.1 1241.0,772.2 1241.5,772.0 1242.0,771.4 1242.6,773.3 1243.1,777.8 1243.6,775.0 1244.1,772.4 1244.6,772.4 1245.2,771.3 1245.7,777.6 1246.2,769.1 1246.7,775.2 1247.3,770.6 1247.8,771.6 1248.3,770.5 1248.8,777.0 1249.4,774.2 1249.9,781.7 1250.4,771.7 1250.9,771.6 1251.4,776.0 1252.0,776.0 1252.5,773.7 1253.0,769.1 1253.5,778.3 1254.1,776.0 1254.6,775.5 1255.1,772.9 1255.6,776.2 1256.2,773.0 1256.7,774.6 1257.2,774.0 1257.7,777.8 1258.2,773.2 1258.8,773.6 1259.3,777.4 1259.8,775.1 1260.3,774.4 1260.9,773.9 1261.4,777.0 1261.9,772.8 1262.4,775.8 1263.0,779.9 1263.5,775.6 1264.0,772.4 1264.5,771.3 1265.0,774.9 1265.6,771.3 1266.1,770.3 1266.6,772.5 1267.1,771.6 1267.7,776.9 1268.2,770.7 1268.7,778.7 1269.2,772.6 1269.8,774.9 1270.3,776.4 1270.8,775.2 1271.3,776.5 1271.8,772.0 1272.4,768.6 1272.9,774.1 1273.4,770.1 1273.9,773.1 1274.5,777.1 1275.0,774.1 1275.5,773.0 1276.0,771.6 1276.6,773.9 1277.1,774.2 1277.6,770.4 1278.1,775.4 1278.6,771.8 1279.2,775.2 1279.7,773.5 1280.2,777.3 1280.7,776.9 1281.3,774.7 1281.8,774.4 1282.3,775.9 1282.8,778.4 1283.4,777.5 1283.9,775.2 1284.4,775.6 1284.9,779.0 1285.4,770.5 1286.0,776.2 1286.5,772.4 1287.0,778.4 1287.5,773.5 1288.1,774.6 1288.6,772.0 1289.1,774.9 1289.6,777.0 1290.1,779.3 1290.7,771.6 1291.2,773.8 1291.7,785.3 1292.2,777.5 1292.8,775.0 1293.3,776.4 1293.8,767.9 1294.3,779.3 1294.9,775.4 1295.4,771.2 1295.9,778.1 1296.4,773.4 1296.9,772.3 1297.5,776.4 1298.0,776.1 1298.5,773.9 1299.0,774.9 1299.6,771.5 1300.1,771.2 1300.6,777.5 1301.1,778.6 1301.7,776.2 1302.2,776.1 1302.7,774.0 1303.2,774.8 1303.7,772.6 1304.3,779.8 1304.8,773.6 1305.3,776.2 1305.8,775.1 1306.4,771.4 1306.9,780.2 1307.4,774.1 1307.9,773.0 1308.5,775.4 1309.0,772.7 1309.5,775.1 1310.0,772.5 1310.5,776.5 1311.1,775.2 1311.6,771.4 1312.1,777.7 1312.6,775.5 1313.2,772.0 1313.7,775.9 1314.2,776.1 1314.7,779.8 1315.3,772.6 1315.8,777.1 1316.3,774.6 1316.8,776.5 1317.3,774.1 1317.9,774.6 1318.4,776.1 1318.9,771.6 1319.4,769.1 1320.0,774.7 1320.5,773.5 1321.0,774.9 1321.5,776.3 1322.1,774.0 1322.6,777.7 1323.1,774.4 1323.6,774.8 1324.1,776.7 1324.7,776.0 1325.2,774.2 1325.7,774.7 1326.2,772.3 1326.8,772.7 1327.3,774.5 1327.8,776.4 1328.3,773.0 1328.9,776.4 1329.4,779.3 1329.9,779.8 1330.4,774.1 1330.9,776.8 1331.5,775.6 1332.0,776.1 1332.5,776.2 1333.0,775.3 1333.6,776.1 1334.1,774.4 1334.6,773.1 1335.1,774.5 1335.7,775.1 1336.2,777.0 1336.7,774.7 1337.2,775.6 1337.7,777.4 1338.3,771.1 1338.8,772.8 1339.3,774.9 1339.8,773.5 1340.4,770.7 1340.9,776.0 1341.4,773.1 1341.9,770.6 1342.4,778.2 1343.0,769.7 1343.5,773.0 1344.0,771.2 1344.5,773.2 1345.1,774.4 1345.6,770.6 1346.1,772.5 1346.6,772.3 1347.2,769.9 1347.7,775.6 1348.2,772.9 1348.7,771.6 1349.2,770.3 1349.8,770.7 1350.3,770.9 1350.8,766.9 1351.3,766.3 1351.9,747.7 1352.4,733.7 1352.9,715.4 1353.4,683.6 1354.0,653.4 1354.5,622.1 1355.0,600.8 1355.5,593.1 1356.0,602.5 1356.6,625.6 1357.1,657.7 1357.6,689.8 1358.1,719.7 1358.7,740.6 1359.2,752.5 1359.7,759.4 1360.2,764.0 1360.8,770.6 1361.3,763.9 1361.8,771.1 1362.3,768.7 1362.8,772.6 1363.4,771.2 1363.9,768.6 1364.4,770.6 1364.9,764.5 1365.5,771.2 1366.0,771.7 1366.5,765.6 1367.0,772.7 1367.6,770.1 1368.1,770.9 1368.6,766.7 1369.1,772.0 1369.6,772.0 1370.2,770.4 1370.7,767.8 1371.2,772.5 1371.7,773.7 1372.3,771.5 1372.8,773.1 1373.3,768.9 1373.8,770.9 1374.4,771.5 1374.9,770.9 1375.4,778.0 1375.9,771.6 1376.4,769.0 1377.0,772.7 1377.5,767.7 1378.0,771.5 1378.5,772.6 1379.1,769.3 1379.6,769.7 1380.1,768.1 1380.6,771.0 1381.2,768.8 1381.7,775.2 1382.2,772.4 1382.7,770.1 1383.2,766.9 1383.8,776.1 1384.3,774.2 1384.8,772.0 1385.3,771.2 1385.9,771.2 1386.4,769.5 1386.9,775.7 1387.4,771.3 1388.0,766.9 1388.5,769.0 1389.0,763.9 1389.5,772.5 1390.0,772.8 1390.6,775.5 1391.1,776.4 1391.6,768.7 1392.1,772.0 1392.7,773.5 1393.2,772.9 1393.7,769.5 1394.2,773.0 1394.7,772.1 1395.3,774.4 1395.8,770.8 1396.3,770.2 1396.8,769.5 1397.4,769.8 1397.9,768.8 1398.4,769.9 1398.9,772.2 1399.5,772.1 1400.0,774.3 1400.5,773.7 1401.0,772.5 1401.5,767.8 1402.1,772.3 1402.6,773.9 1403.1,767.3 1403.6,767.8 1404.2,768.2 1404.7,768.0 1405.2,769.9 1405.7,768.2 1406.3,771.6 1406.8,767.4 1407.3,770.2 1407.8,769.2 1408.3,767.9 1408.9,773.1 1409.4,770.4 1409.9,771.7 1410.4,769.3 1411.0,772.0 1411.5,771.7 1412.0,769.7 1412.5,765.3 1413.1,772.1 1413.6,771.7 1414.1,770.3 1414.6,770.4 1415.1,770.0 1415.7,770.1 1416.2,766.8 1416.7,769.3 1417.2,770.2 1417.8,767.6 1418.3,766.6 1418.8,774.0 1419.3,770.6 1419.9,768.1 1420.4,767.5 1420.9,761.8 1421.4,764.9 1421.9,767.9 1422.5,771.9 1423.0,763.0 1423.5,766.5 1424.0,773.3 1424.6,769.9 1425.1,769.1 1425.6,771.1 1426.1,767.5 1426.7,767.2 1427.2,769.4 1427.7,769.7 1428.2,764.4 1428.7,771.1 1429.3,762.3 1429.8,764.9 1430.3,774.7 1430.8,765.0 1431.4,767.8 1431.9,763.2 1432.4,764.8 1432.9,763.6 1433.5,764.2 1434.0,766.8 1434.5,769.5 1435.0,767.0 1435.5,768.6 1436.1,762.9 1436.6,767.9 1437.1,765.4 1437.6,767.3 1438.2,762.4 1438.7,762.7 1439.2,766.8 1439.7,764.6 1440.3,763.2 1440.8,761.0 1441.3,762.4 1441.8,763.8 1442.3,764.3 1442.9,760.9 1443.4,761.3 1443.9,763.3 1444.4,759.1 1445.0,764.4 1445.5,761.8 1446.0,761.4 1446.5,755.2 1447.0,757.3 1447.6,758.7 1448.1,759.8 1448.6,758.3 1449.1,762.1 1449.7,761.3 1450.2,760.1 1450.7,755.3 1451.2,764.3 1451.8,759.7 1452.3,761.8 1452.8,758.3 1453.3,759.8 1453.8,761.5 1454.4,760.0 1454.9,761.7 1455.4,758.4 1455.9,763.8 1456.5,753.2 1457.0,756.5 1457.5,760.2 1458.0,756.6 1458.6,755.7 1459.1,751.8 1459.6,759.2 1460.1,750.4 1460.6,755.6 1461.2,752.5 1461.7,749.5 1462.2,741.5 1462.7,721.1 1463.3,699.1 1463.8,674.4 1464.3,650.6 1464.8,639.4 1465.4,641.1 1465.9,657.5 1466.4,679.6 1466.9,705.1 1467.4,722.5 1468.0,735.8 1468.5,739.5 1469.0,747.6 1469.5,743.9 1470.1,738.7 1470.6,746.9 1471.1,743.9 1471.6,742.0 1472.2,750.5 1472.7,743.2 1473.2,739.2 1473.7,740.5 1474.2,742.3 1474.8,739.6 1475.3,741.9 1475.8,739.1 1476.3,731.1 1476.9,728.5 1477.4,722.8 1477.9,710.1 1478.4,696.7 1479.0,683.3 1479.5,669.4 1480.0,660.3 1480.5,659.4 1481.0,664.4 1481.6,672.8 1482.1,679.8 1482.6,689.8 1483.1,687.3 1483.7,687.4 1484.2,690.0 1484.7,682.4 1485.2,684.4 1485.8,687.8 1486.3,681.6 1486.8,682.0 1487.3,686.3 1487.8,683.8 1488.4,681.8 1488.9,681.3 1489.4,677.6 1489.9,678.7 1490.5,675.5 1491.0,680.6 1491.5,673.1 1492.0,668.3 1492.6,666.6 1493.1,664.4 1493.6,658.1 1494.1,656.9 1494.6,660.4 1495.2,649.9 1495.7,649.3 1496.2,651.0 1496.7,649.8 1497.3,640.9 1497.8,645.5 1498.3,638.7 1498.8,642.0 1499.3,636.9 1499.9,632.6 1500.4,632.7 1500.9,629.4 1501.4,622.8 1502.0,627.2 1502.5,617.2 1503.0,617.7 1503.5,609.8 1504.1,602.9 1504.6,601.5 1505.1,601.2 1505.6,600.3 1506.1,600.3 1506.7,592.9 1507.2,588.8 1507.7,583.0 1508.2,582.6 1508.8,579.4 1509.3,568.2 1509.8,572.7 1510.3,567.4 1510.9,565.7 1511.4,552.7 1511.9,550.7 1512.4,546.0 1512.9,537.9 1513.5,534.5 1514.0,529.5 1514.5,528.9 1515.0,524.0 1515.6,521.8 1516.1,512.5 1516.6,505.2 1517.1,505.4 1517.7,500.5 1518.2,496.7 1518.7,493.6 1519.2,484.1 1519.7,483.2 1520.3,473.8 1520.8,472.4 1521.3,469.3 1521.8,462.7 1522.4,459.1 1522.9,450.4 1523.4,448.0 1523.9,445.9 1524.5,438.0 1525.0,434.7 1525.5,439.3 1526.0,429.4 1526.5,422.5 1527.1,418.0 1527.6,420.5 1528.1,405.6 1528.6,408.3 1529.2,407.1 1529.7,400.4 1530.2,399.7 1530.7,392.0 1531.3,391.1 1531.8,387.5 1532.3,383.6 1532.8,380.1 1533.3,376.0 1533.9,374.9 1534.4,367.3 1534.9,362.5 1535.4,359.4 1536.0,355.5 1536.5,348.4 1537.0,343.5 1537.5,341.3 1538.1,341.9 1538.6,335.8 1539.1,332.9 1539.6,338.2 1540.1,330.3 1540.7,323.6 1541.2,319.4 1541.7,321.9 1542.2,313.4 1542.8,316.2 1543.3,312.1 1543.8,312.1 1544.3,304.5 1544.9,307.1 1545.4,298.4 1545.9,301.5 1546.4,303.8 1546.9,302.1 1547.5,294.9 1548.0,301.5 1548.5,301.0 1549.0,300.0 1549.6,299.0 1550.1,301.2 1550.6,301.7 1551.1,307.2 1551.6,307.7 1552.2,311.2 1552.7,312.4 1553.2,309.5 1553.7,315.8 1554.3,323.9 1554.8,318.1 1555.3,324.9 1555.8,325.2 1556.4,328.3 1556.9,334.6 1557.4,340.0 1557.9,343.2 1558.4,346.1 1559.0,351.2 1559.5,348.1 1560.0,358.5 1560.5,361.3 1561.1,363.6 1561.6,368.0 1562.1,369.7 1562.6,378.9 1563.2,377.7 1563.7,379.6 1564.2,387.2 1564.7,389.4 1565.2,394.4 1565.8,402.1 1566.3,401.2 1566.8,405.4 1567.3,414.7 1567.9,408.6 1568.4,417.1 1568.9,423.1 1569.4,427.9 1570.0,433.8 1570.5,430.1 1571.0,437.5 1571.5,439.7 1572.0,443.0 1572.6,446.5 1573.1,448.8 1573.6,457.8 1574.1,463.3 1574.7,462.8 1575.2,472.1 1575.7,473.0 1576.2,476.2 1576.8,476.4 1577.3,490.7 1577.8,494.2 1578.3,495.9 1578.8,500.2 1579.4,502.3 1579.9,511.6 1580.4,514.6 1580.9,520.6 1581.5,524.1 1582.0,524.4 1582.5,528.4 1583.0,538.0 1583.6,536.8 1584.1,546.4 1584.6,552.4 1585.1,550.8 1585.6,560.3 1586.2,562.8 1586.7,568.3 1587.2,569.4 1587.7,575.3 1588.3,580.6 1588.8,588.6 1589.3,589.9 1589.8,593.4 1590.4,592.9 1590.9,601.4 1591.4,602.9 1591.9,608.7 1592.4,613.8 1593.0,619.9 1593.5,623.1 1594.0,626.2 1594.5,629.8 1595.1,637.8 1595.6,636.2 1596.1,643.2 1596.6,651.3 1597.2,651.7 1597.7,658.8 1598.2,663.1 1598.7,669.8 1599.2,671.0 1599.8,666.6 1600.3,673.8 1600.8,677.3 1601.3,681.4 1601.9,682.7 1602.4,689.1 1602.9,689.3 1603.4,685.4 1603.9,689.0 1604.5,687.2 1605.0,699.2 1605.5,696.1 1606.0,697.9 1606.6,695.7 1607.1,700.4 1607.6,704.4 1608.1,703.7 1608.7,705.2 1609.2,706.0 1609.7,714.4 1610.2,708.9 1610.7,707.8 1611.3,711.6 1611.8,713.3 1612.3,715.2 1612.8,716.0 1613.4,714.9 1613.9,718.5 1614.4,721.2 1614.9,717.6 1615.5,727.8 1616.0,728.2 1616.5,719.9 1617.0,725.0 1617.5,729.8 1618.1,731.8 1618.6,734.0 1619.1,725.3 1619.6,728.3 1620.2,730.8 1620.7,734.6 1621.2,731.0 1621.7,735.9 1622.3,736.6 1622.8,738.1 1623.3,733.4 1623.8,738.0 1624.3,738.4 1624.9,737.7 1625.4,742.9 1625.9,739.2 1626.4,744.5 1627.0,739.6 1627.5,746.3 1628.0,746.7 1628.5,740.6 1629.1,744.2 1629.6,744.6 1630.1,741.6 1630.6,746.9 1631.1,746.8 1631.7,743.3 1632.2,746.4 1632.7,749.0 1633.2,746.6 1633.8,745.6 1634.3,752.4 1634.8,745.7 1635.3,749.7 1635.9,752.3 1636.4,751.8 1636.9,745.2 1637.4,749.6 1637.9,750.6 1638.5,750.8 1639.0,753.4 1639.5,753.6 1640.0,752.9 1640.6,753.6 1641.1,756.0 1641.6,757.0 1642.1,748.9 1642.7,760.3 1643.2,753.3 1643.7,757.2 1644.2,751.1 1644.7,754.4 1645.3,752.7 1645.8,759.4 1646.3,759.1 1646.8,757.1 1647.4,756.9 1647.9,758.7 1648.4,755.4 1648.9,756.6 1649.5,756.4 1650.0,761.0 1650.5,759.1 1651.0,755.8 1651.5,760.4 1652.1,761.2 1652.6,763.7 1653.1,758.7 1653.6,761.5 1654.2,766.3 1654.7,760.0 1655.2,760.2 1655.7,762.7 1656.2,760.2 1656.8,761.8 1657.3,760.6 1657.8,760.1 1658.3,764.8 1658.9,761.6 1659.4,760.1 1659.9,762.2 1660.4,762.8 1661.0,764.2 1661.5,766.1 1662.0,768.5 1662.5,760.7 1663.0,763.5 1663.6,759.4 1664.1,765.1 1664.6,766.1 1665.1,763.1 1665.7,762.5 1666.2,762.5 1666.7,761.3 1667.2,767.2 1667.8,770.7 1668.3,762.7 1668.8,770.3 1669.3,765.8 1669.8,762.5 1670.4,767.9 1670.9,768.6 1671.4,767.7 1671.9,766.1 1672.5,771.4 1673.0,766.3 1673.5,768.9 1674.0,769.1 1674.6,765.1 1675.1,762.7 1675.6,763.1 1676.1,766.8 1676.6,769.0 1677.2,763.4 1677.7,766.3 1678.2,772.5 1678.7,763.7 1679.3,769.9 1679.8,769.7 1680.3,771.0 1680.8,765.0 1681.4,770.0 1681.9,765.5 1682.4,772.9 1682.9,767.1 1683.4,770.6 1684.0,767.5 1684.5,770.1 1685.0,765.7 1685.5,770.7 1686.1,771.7 1686.6,770.2 1687.1,774.6 1687.6,771.4 1688.2,772.6 1688.7,772.0 1689.2,775.7 1689.7,769.0 1690.2,770.2 1690.8,770.4 1691.3,772.8 1691.8,771.9 1692.3,773.5 1692.9,772.2 1693.4,770.1 1693.9,771.4 1694.4,772.9 1695.0,765.6 1695.5,775.6 1696.0,770.5 1696.5,771.1 1697.0,772.9 1697.6,771.6 1698.1,768.5 1698.6,771.9 1699.1,776.3 1699.7,775.5 1700.2,776.1 1700.7,771.4 1701.2,772.4 1701.8,775.9 1702.3,777.2 1702.8,773.4 1703.3,770.8 1703.8,768.3 1704.4,777.5 1704.9,769.6 1705.4,775.0 1705.9,776.4 1706.5,782.9 1707.0,774.7 1707.5,774.0 1708.0,775.6 1708.5,775.9 1709.1,778.3 1709.6,776.6 1710.1,772.8 1710.6,769.2 1711.2,775.8 1711.7,773.3 1712.2,779.1 1712.7,771.8 1713.3,776.0 1713.8,773.6 1714.3,773.3 1714.8,780.3 1715.3,776.3 1715.9,775.5 1716.4,778.1 1716.9,774.0 1717.4,775.2 1718.0,774.6 1718.5,781.8 1719.0,777.4 1719.5,778.3 1720.1,779.7 1720.6,776.3 1721.1,776.4 1721.6,772.5 1722.1,778.3 1722.7,777.8 1723.2,776.1 1723.7,780.6 1724.2,772.5 1724.8,778.6 1725.3,773.7 1725.8,774.4 1726.3,777.1 1726.9,781.4 1727.4,774.5 1727.9,775.1 1728.4,774.6 1728.9,783.5 1729.5,779.5 1730.0,779.2 1730.5,783.8 1731.0,778.9 1731.6,772.5 1732.1,777.0 1732.6,775.1 1733.1,784.0 1733.7,774.6 1734.2,779.4 1734.7,777.2 1735.2,777.5 1735.7,778.8 1736.3,778.4 1736.8,777.0 1737.3,775.5 1737.8,777.2 1738.4,776.2 1738.9,776.6 1739.4,779.5 1739.9,778.8 1740.5,780.6 1741.0,778.6 1741.5,784.6 1742.0,777.4 1742.5,776.7 1743.1,782.3 1743.6,777.6 1744.1,779.9 1744.6,782.3 1745.2,779.4 1745.7,778.7 1746.2,782.4 1746.7,780.7 1747.3,778.4 1747.8,776.6 1748.3,778.9 1748.8,775.4 1749.3,777.6 1749.9,777.0 1750.4,780.9 1750.9,782.2 1751.4,778.4 1752.0,779.0 1752.5,777.2 1753.0,776.4 1753.5,779.1 1754.1,781.9 1754.6,781.6 1755.1,782.0 1755.6,779.7 1756.1,772.9 1756.7,783.0 1757.2,784.2 1757.7,783.1 1758.2,783.1 1758.8,783.7 1759.3,788.1 1759.8,781.6 1760.3,785.0 1760.8,783.0 1761.4,782.7 1761.9,780.5 1762.4,780.0 1762.9,777.8 1763.5,782.6 1764.0,780.1 1764.5,777.7 1765.0,779.0 1765.6,777.8 1766.1,785.5 1766.6,780.5 1767.1,781.5 1767.6,777.9 1768.2,778.4 1768.7,784.2 1769.2,780.6 1769.7,781.9 1770.3,786.4 1770.8,787.1 1771.3,783.3 1771.8,782.8 1772.4,782.1 1772.9,780.7 1773.4,787.0 1773.9,778.1 1774.4,781.3 1775.0,776.2 1775.5,778.1 1776.0,782.7 1776.5,782.8 1777.1,782.5 1777.6,780.7 1778.1,779.6 1778.6,780.1 1779.2,780.6 1779.7,784.6 1780.2,785.6 1780.7,782.8 1781.2,780.1 1781.8,779.1 1782.3,782.5 1782.8,781.0 1783.3,776.6 1783.9,785.4 1784.4,781.6 1784.9,780.8 1785.4,779.3 1786.0,779.3 1786.5,784.2 1787.0,779.1 1787.5,781.9 1788.0,783.4 1788.6,786.8 1789.1,783.4 1789.6,781.6 1790.1,780.5 1790.7,784.1 1791.2,784.5 1791.7,780.5 1792.2,783.3 1792.8,781.3 1793.3,777.2 1793.8,778.9 1794.3,783.9 1794.8,785.7 1795.4,783.6 1795.9,781.2 1796.4,779.8 1796.9,783.2 1797.5,782.6 1798.0,777.3 1798.5,783.5 1799.0,779.8 1799.6,783.6 1800.1,783.2 1800.6,783.8 1801.1,784.7 1801.6,783.7 1802.2,778.9 1802.7,779.0 1803.2,784.7 1803.7,783.1 1804.3,777.5 1804.8,776.3 1805.3,784.3 1805.8,788.0 1806.4,784.1 1806.9,781.2 1807.4,782.6 1807.9,774.4 1808.4,779.1 1809.0,784.7 1809.5,784.3 1810.0,776.1 1810.5,785.2 1811.1,783.4 1811.6,784.6 1812.1,781.4 1812.6,782.0 1813.1,779.1 1813.7,782.9 1814.2,784.5 1814.7,779.5 1815.2,783.1 1815.8,780.7 1816.3,785.0 1816.8,784.9 1817.3,775.7 1817.9,783.5 1818.4,785.0 1818.9,780.7 1819.4,781.7 1819.9,781.9 1820.5,779.2 1821.0,782.0 1821.5,786.7 1822.0,783.7 1822.6,786.6 1823.1,785.2 1823.6,785.8 1824.1,782.9 1824.7,784.7 1825.2,788.1 1825.7,786.7 1826.2,783.5 1826.7,780.7 1827.3,780.1 1827.8,783.4 1828.3,783.9 1828.8,777.7 1829.4,783.4 1829.9,783.8 1830.4,783.7 1830.9,781.4 1831.5,789.3 1832.0,785.4 1832.5,779.2"/></g>
<g clip-path="url(#c3)"><polyline shape-rendering="crispEdges" fill="none" stroke="#000000" stroke-width="4.8" stroke-linejoin="miter" stroke-miterlimit="2" points="263.5,935.5 264.0,938.6 264.5,950.1 265.1,944.1 265.6,930.1 266.1,940.4 266.6,936.7 267.2,941.7 267.7,931.0 268.2,942.6 268.7,942.7 269.3,951.1 269.8,943.6 270.3,945.0 270.8,932.8 271.3,956.0 271.9,930.6 272.4,949.3 272.9,940.7 273.4,937.5 274.0,939.1 274.5,939.2 275.0,945.8 275.5,943.0 276.1,952.8 276.6,932.9 277.1,944.2 277.6,939.0 278.1,949.3 278.7,931.9 279.2,942.8 279.7,946.4 280.2,936.3 280.8,951.4 281.3,946.7 281.8,951.9 282.3,951.8 282.9,940.3 283.4,941.6 283.9,945.4 284.4,951.3 284.9,952.1 285.5,942.9 286.0,943.7 286.5,942.7 287.0,944.2 287.6,946.5 288.1,947.3 288.6,960.6 289.1,945.5 289.7,947.0 290.2,951.6 290.7,943.4 291.2,947.1 291.7,949.6 292.3,954.3 292.8,942.1 293.3,958.2 293.8,948.2 294.4,951.5 294.9,955.7 295.4,954.8 295.9,957.4 296.4,952.3 297.0,951.4 297.5,953.6 298.0,946.0 298.5,959.2 299.1,947.8 299.6,945.1 300.1,964.8 300.6,952.1 301.2,946.2 301.7,964.1 302.2,951.6 302.7,959.9 303.2,949.0 303.8,952.6 304.3,944.4 304.8,943.3 305.3,948.9 305.9,954.4 306.4,959.6 306.9,969.3 307.4,949.4 308.0,961.4 308.5,952.2 309.0,955.0 309.5,947.4 310.0,947.6 310.6,951.8 311.1,949.6 311.6,956.6 312.1,952.7 312.7,964.1 313.2,958.0 313.7,958.2 314.2,963.9 314.8,960.5 315.3,957.4 315.8,957.3 316.3,957.2 316.8,964.2 317.4,962.7 317.9,960.4 318.4,963.0 318.9,955.5 319.5,961.6 320.0,950.8 320.5,966.6 321.0,959.6 321.6,960.3 322.1,962.7 322.6,959.4 323.1,958.2 323.6,966.5 324.2,960.5 324.7,954.8 325.2,962.6 325.7,950.6 326.3,969.7 326.8,959.6 327.3,960.9 327.8,973.5 328.4,973.0 328.9,961.7 329.4,964.7 329.9,967.5 330.4,970.9 331.0,960.9 331.5,962.6 332.0,968.8 332.5,963.6 333.1,966.5 333.6,965.8 334.1,956.4 334.6,958.1 335.2,948.5 335.7,961.7 336.2,970.7 336.7,957.5 337.2,970.4 337.8,969.3 338.3,963.8 338.8,964.3 339.3,964.9 339.9,960.1 340.4,963.4 340.9,964.9 341.4,968.6 342.0,969.8 342.5,961.8 343.0,970.4 343.5,962.0 344.0,965.5 344.6,968.6 345.1,966.7 345.6,966.4 346.1,968.7 346.7,964.6 347.2,964.3 347.7,966.9 348.2,973.2 348.7,967.8 349.3,978.5 349.8,969.9 350.3,953.7 350.8,967.0 351.4,978.0 351.9,969.7 352.4,967.7 352.9,965.7 353.5,977.1 354.0,975.7 354.5,974.2 355.0,973.2 355.5,978.5 356.1,975.5 356.6,965.4 357.1,975.7 357.6,972.9 358.2,971.7 358.7,976.2 359.2,972.8 359.7,958.3 360.3,980.7 360.8,978.4 361.3,972.8 361.8,971.8 362.3,975.0 362.9,967.8 363.4,975.8 363.9,973.4 364.4,973.0 365.0,970.4 365.5,971.8 366.0,980.7 366.5,982.0 367.1,978.2 367.6,975.8 368.1,972.0 368.6,979.8 369.1,984.3 369.7,969.1 370.2,982.6 370.7,967.0 371.2,975.8 371.8,979.4 372.3,971.4 372.8,970.9 373.3,979.0 373.9,982.5 374.4,976.3 374.9,985.0 375.4,975.3 375.9,987.2 376.5,979.8 377.0,980.5 377.5,982.4 378.0,981.2 378.6,988.4 379.1,990.1 379.6,982.7 380.1,979.7 380.7,975.2 381.2,977.3 381.7,980.9 382.2,980.5 382.7,980.9 383.3,981.2 383.8,983.5 384.3,975.5 384.8,977.0 385.4,986.7 385.9,985.5 386.4,979.6 386.9,987.7 387.5,979.2 388.0,981.2 388.5,974.4 389.0,986.1 389.5,982.5 390.1,987.3 390.6,985.8 391.1,983.3 391.6,983.7 392.2,988.2 392.7,982.5 393.2,982.7 393.7,983.7 394.3,986.9 394.8,987.5 395.3,991.8 395.8,983.5 396.3,989.2 396.9,981.3 397.4,986.7 397.9,984.8 398.4,991.5 399.0,987.0 399.5,982.7 400.0,987.0 400.5,986.2 401.0,983.6 401.6,983.8 402.1,981.2 402.6,996.5 403.1,985.9 403.7,989.4 404.2,980.8 404.7,981.2 405.2,985.1 405.8,985.3 406.3,989.2 406.8,982.0 407.3,988.4 407.8,992.5 408.4,982.7 408.9,990.3 409.4,982.8 409.9,988.2 410.5,988.4 411.0,994.1 411.5,984.4 412.0,988.0 412.6,991.7 413.1,982.8 413.6,987.6 414.1,984.3 414.6,985.1 415.2,990.8 415.7,991.0 416.2,998.8 416.7,994.0 417.3,993.8 417.8,988.0 418.3,987.6 418.8,989.5 419.4,979.9 419.9,995.9 420.4,986.6 420.9,985.1 421.4,987.7 422.0,993.2 422.5,994.8 423.0,988.4 423.5,991.8 424.1,989.9 424.6,986.2 425.1,991.1 425.6,990.6 426.2,984.4 426.7,995.1 427.2,984.5 427.7,991.9 428.2,986.8 428.8,987.9 429.3,988.5 429.8,994.2 430.3,986.5 430.9,990.8 431.4,997.9 431.9,989.0 432.4,991.8 433.0,994.7 433.5,989.8 434.0,994.1 434.5,989.7 435.0,995.2 435.6,992.8 436.1,988.9 436.6,998.3 437.1,992.4 437.7,991.8 438.2,989.3 438.7,991.2 439.2,992.8 439.8,994.0 440.3,997.7 440.8,988.2 441.3,992.2 441.8,998.4 442.4,994.5 442.9,995.5 443.4,1000.3 443.9,995.4 444.5,996.0 445.0,994.1 445.5,1001.4 446.0,998.6 446.6,991.7 447.1,996.8 447.6,990.2 448.1,999.2 448.6,997.6 449.2,994.4 449.7,993.6 450.2,988.2 450.7,998.4 451.3,995.0 451.8,994.4 452.3,998.6 452.8,993.2 453.3,993.6 453.9,993.3 454.4,990.8 454.9,1005.8 455.4,995.6 456.0,995.2 456.5,1000.2 457.0,984.4 457.5,996.8 458.1,997.1 458.6,993.4 459.1,999.1 459.6,989.5 460.1,997.6 460.7,1001.2 461.2,989.1 461.7,992.2 462.2,997.4 462.8,998.0 463.3,995.6 463.8,999.7 464.3,999.3 464.9,993.2 465.4,998.2 465.9,993.7 466.4,990.7 466.9,989.5 467.5,1003.1 468.0,998.7 468.5,1007.0 469.0,993.8 469.6,998.2 470.1,1001.1 470.6,999.3 471.1,1002.0 471.7,1000.8 472.2,998.0 472.7,991.4 473.2,996.9 473.7,1007.5 474.3,1003.9 474.8,1006.5 475.3,999.0 475.8,1000.6 476.4,998.1 476.9,1003.2 477.4,1002.1 477.9,1003.7 478.5,1009.0 479.0,999.0 479.5,1005.2 480.0,997.0 480.5,1006.9 481.1,1001.0 481.6,1002.6 482.1,1003.6 482.6,1009.6 483.2,1003.2 483.7,1001.5 484.2,998.9 484.7,1004.7 485.3,1000.5 485.8,1002.0 486.3,1003.9 486.8,1006.8 487.3,1001.5 487.9,1007.0 488.4,1011.4 488.9,998.9 489.4,1010.1 490.0,1013.3 490.5,1002.7 491.0,1007.5 491.5,999.9 492.1,1006.7 492.6,1004.2 493.1,1006.8 493.6,1002.1 494.1,1002.6 494.7,1004.2 495.2,1003.2 495.7,1003.7 496.2,1005.4 496.8,1002.0 497.3,1005.8 497.8,1008.3 498.3,997.5 498.9,1007.4 499.4,1003.8 499.9,1002.4 500.4,1001.6 500.9,1003.6 501.5,1004.0 502.0,1008.3 502.5,1002.2 503.0,1011.2 503.6,1004.0 504.1,1009.9 504.6,1011.5 505.1,1002.7 505.6,1011.6 506.2,1016.0 506.7,1006.0 507.2,1010.0 507.7,1007.4 508.3,1008.3 508.8,1007.3 509.3,1006.1 509.8,1010.5 510.4,1010.3 510.9,1005.7 511.4,1007.3 511.9,1002.4 512.4,998.2 513.0,995.2 513.5,997.1 514.0,999.5 514.5,996.9 515.1,1001.2 515.6,1004.9 516.1,1011.3 516.6,1013.3 517.2,1007.9 517.7,1010.1 518.2,1011.9 518.7,1004.3 519.2,1011.6 519.8,1008.2 520.3,1010.2 520.8,1009.3 521.3,1005.0 521.9,1005.8 522.4,1009.8 522.9,1010.2 523.4,1008.8 524.0,1014.0 524.5,1008.5 525.0,1005.3 525.5,1008.7 526.0,1009.5 526.6,1009.7 527.1,1014.8 527.6,1012.3 528.1,1014.5 528.7,1012.9 529.2,1010.0 529.7,1014.7 530.2,1009.8 530.8,1011.8 531.3,1007.1 531.8,1011.4 532.3,1009.9 532.8,1012.6 533.4,1018.3 533.9,1020.5 534.4,1015.4 534.9,1011.5 535.5,1014.9 536.0,1012.7 536.5,1009.5 537.0,1011.7 537.6,1011.1 538.1,1009.8 538.6,1017.6 539.1,1010.3 539.6,1010.5 540.2,1015.2 540.7,1010.0 541.2,1008.3 541.7,1009.5 542.3,1014.8 542.8,1014.5 543.3,1014.2 543.8,1011.4 544.4,1009.8 544.9,1016.9 545.4,1007.9 545.9,1012.7 546.4,1008.5 547.0,1012.2 547.5,1013.2 548.0,1018.6 548.5,1003.0 549.1,1019.3 549.6,1010.8 550.1,1015.4 550.6,1017.4 551.2,1011.5 551.7,1014.2 552.2,1016.5 552.7,1014.2 553.2,1011.9 553.8,1015.6 554.3,1015.3 554.8,1009.2 555.3,1020.3 555.9,1016.0 556.4,1006.0 556.9,1012.2 557.4,1022.0 557.9,1021.6 558.5,1016.6 559.0,1009.2 559.5,1014.8 560.0,1019.9 560.6,1017.4 561.1,1014.7 561.6,1013.2 562.1,1019.3 562.7,1015.3 563.2,1017.5 563.7,1018.2 564.2,1022.6 564.7,1017.1 565.3,1017.5 565.8,1009.7 566.3,1020.8 566.8,1020.0 567.4,1016.6 567.9,1008.0 568.4,1014.6 568.9,1017.1 569.5,1024.9 570.0,1019.2 570.5,1020.1 571.0,1020.2 571.5,1022.2 572.1,1012.8 572.6,1014.0 573.1,1012.8 573.6,1016.2 574.2,1016.0 574.7,1017.8 575.2,1013.5 575.7,1017.9 576.3,1014.3 576.8,1025.7 577.3,1015.6 577.8,1027.4 578.3,1024.0 578.9,1013.2 579.4,1021.5 579.9,1020.1 580.4,1012.0 581.0,1020.2 581.5,1017.6 582.0,1019.3 582.5,1014.7 583.1,1017.7 583.6,1019.6 584.1,1017.3 584.6,1015.7 585.1,1017.4 585.7,1014.3 586.2,1019.3 586.7,1008.2 587.2,1023.8 587.8,1018.2 588.3,1019.8 588.8,1021.2 589.3,1013.2 589.9,1026.6 590.4,1013.6 590.9,1019.6 591.4,1019.1 591.9,1022.8 592.5,1017.8 593.0,1012.4 593.5,1019.0 594.0,1008.3 594.6,1016.9 595.1,1015.9 595.6,1023.6 596.1,1016.5 596.7,1015.9 597.2,1014.7 597.7,1014.3 598.2,1015.5 598.7,1019.8 599.3,1012.5 599.8,1016.8 600.3,1012.1 600.8,1017.0 601.4,1018.3 601.9,1012.3 602.4,1011.5 602.9,1002.3 603.5,974.4 604.0,919.8 604.5,851.5 605.0,807.8 605.5,816.0 606.1,873.2 606.6,941.2 607.1,986.1 607.6,1014.2 608.2,1015.3 608.7,1017.9 609.2,1026.0 609.7,1016.5 610.2,1022.8 610.8,1022.2 611.3,1021.5 611.8,1027.7 612.3,1017.9 612.9,1019.8 613.4,1013.6 613.9,1017.8 614.4,1020.0 615.0,1020.6 615.5,1021.4 616.0,1023.5 616.5,1019.9 617.0,1015.0 617.6,1023.2 618.1,1024.3 618.6,1018.4 619.1,1019.9 619.7,1029.7 620.2,1026.9 620.7,1027.2 621.2,1025.7 621.8,1023.7 622.3,1021.3 622.8,1025.5 623.3,1022.6 623.8,1021.7 624.4,1023.4 624.9,1023.2 625.4,1026.9 625.9,1019.9 626.5,1033.1 627.0,1019.8 627.5,1022.1 628.0,1027.3 628.6,1020.6 629.1,1022.0 629.6,1024.0 630.1,1012.6 630.6,1022.1 631.2,1020.4 631.7,1023.1 632.2,1026.0 632.7,1026.6 633.3,1030.0 633.8,1029.8 634.3,1028.3 634.8,1024.3 635.4,1028.5 635.9,1020.8 636.4,1024.3 636.9,1030.2 637.4,1027.8 638.0,1019.5 638.5,1022.7 639.0,1028.4 639.5,1027.4 640.1,1029.3 640.6,1018.5 641.1,1020.5 641.6,1024.4 642.2,1021.8 642.7,1025.4 643.2,1025.7 643.7,1027.0 644.2,1025.3 644.8,1028.0 645.3,1028.9 645.8,1026.6 646.3,1021.5 646.9,1031.1 647.4,1027.1 647.9,1028.0 648.4,1027.1 649.0,1020.4 649.5,1028.8 650.0,1024.2 650.5,1022.1 651.0,1031.7 651.6,1025.7 652.1,1028.1 652.6,1030.4 653.1,1033.2 653.7,1020.3 654.2,1024.4 654.7,1029.8 655.2,1024.8 655.8,1015.0 656.3,1028.0 656.8,1028.3 657.3,1030.6 657.8,1028.5 658.4,1026.0 658.9,1028.5 659.4,1027.6 659.9,1025.8 660.5,1028.8 661.0,1029.2 661.5,1024.0 662.0,1031.8 662.5,1031.1 663.1,1031.0 663.6,1017.6 664.1,1028.5 664.6,1027.6 665.2,1024.3 665.7,1030.3 666.2,1022.5 666.7,1032.9 667.3,1029.7 667.8,1026.4 668.3,1033.7 668.8,1030.1 669.3,1029.6 669.9,1023.5 670.4,1030.4 670.9,1033.8 671.4,1032.6 672.0,1023.6 672.5,1033.8 673.0,1034.6 673.5,1031.8 674.1,1027.1 674.6,1022.9 675.1,1025.2 675.6,1026.5 676.1,1029.7 676.7,1030.8 677.2,1025.9 677.7,1022.6 678.2,1027.2 678.8,1023.8 679.3,1033.9 679.8,1024.2 680.3,1030.7 680.9,1032.1 681.4,1025.3 681.9,1032.8 682.4,1028.5 682.9,1026.1 683.5,1025.6 684.0,1029.6 684.5,1033.3 685.0,1022.1 685.6,1031.7 686.1,1028.8 686.6,1026.6 687.1,1029.1 687.7,1029.6 688.2,1029.4 688.7,1032.8 689.2,1026.4 689.7,1037.3 690.3,1033.3 690.8,1027.8 691.3,1022.9 691.8,1030.1 692.4,1028.8 692.9,1033.2 693.4,1033.2 693.9,1037.8 694.5,1030.1 695.0,1033.7 695.5,1029.2 696.0,1029.5 696.5,1036.7 697.1,1030.5 697.6,1030.7 698.1,1029.9 698.6,1032.5 699.2,1033.6 699.7,1031.0 700.2,1027.2 700.7,1032.8 701.3,1028.5 701.8,1030.3 702.3,1032.5 702.8,1032.7 703.3,1023.1 703.9,1038.3 704.4,1034.9 704.9,1039.3 705.4,1041.5 706.0,1028.5 706.5,1029.9 707.0,1033.0 707.5,1035.6 708.1,1030.2 708.6,1030.9 709.1,1036.2 709.6,1028.8 710.1,1033.0 710.7,1036.3 711.2,1031.2 711.7,1035.2 712.2,1031.8 712.8,1026.3 713.3,1030.2 713.8,1031.5 714.3,1031.0 714.8,1032.4 715.4,1033.8 715.9,1033.4 716.4,1033.0 716.9,1030.7 717.5,1031.5 718.0,1030.9 718.5,1030.1 719.0,1037.5 719.6,1025.2 720.1,1033.2 720.6,1026.2 721.1,1030.0 721.6,1035.3 722.2,1031.2 722.7,1037.5 723.2,1028.7 723.7,1031.2 724.3,1029.9 724.8,1032.3 725.3,1031.1 725.8,1030.9 726.4,1032.6 726.9,1036.4 727.4,1032.8 727.9,1032.5 728.4,1031.2 729.0,1029.6 729.5,1026.8 730.0,1028.3 730.5,1032.4 731.1,1025.1 731.6,1034.7 732.1,1030.7 732.6,1028.7 733.2,1030.2 733.7,1034.7 734.2,1033.6 734.7,1033.3 735.2,1038.9 735.8,1041.1 736.3,1027.7 736.8,1035.8 737.3,1029.8 737.9,1027.5 738.4,1030.8 738.9,1036.6 739.4,1031.7 740.0,1031.1 740.5,1038.2 741.0,1035.0 741.5,1032.8 742.0,1039.9 742.6,1035.1 743.1,1030.6 743.6,1029.3 744.1,1031.8 744.7,1034.1 745.2,1037.0 745.7,1036.7 746.2,1034.0 746.8,1029.2 747.3,1037.1 747.8,1034.0 748.3,1029.6 748.8,1029.0 749.4,1034.5 749.9,1034.9 750.4,1036.7 750.9,1029.1 751.5,1040.8 752.0,1026.9 752.5,1033.5 753.0,1038.7 753.6,1037.6 754.1,1030.2 754.6,1036.0 755.1,1038.4 755.6,1036.5 756.2,1030.2 756.7,1040.0 757.2,1027.8 757.7,1034.0 758.3,1029.9 758.8,1032.3 759.3,1032.7 759.8,1035.8 760.4,1029.3 760.9,1034.8 761.4,1038.8 761.9,1034.3 762.4,1036.1 763.0,1035.7 763.5,1031.4 764.0,1032.8 764.5,1034.4 765.1,1036.0 765.6,1041.8 766.1,1040.3 766.6,1032.6 767.1,1032.8 767.7,1030.7 768.2,1025.9 768.7,1039.3 769.2,1036.5 769.8,1027.4 770.3,1034.7 770.8,1043.4 771.3,1036.5 771.9,1036.6 772.4,1035.5 772.9,1032.0 773.4,1030.6 773.9,1031.9 774.5,1035.5 775.0,1034.1 775.5,1037.6 776.0,1041.6 776.6,1037.4 777.1,1038.3 777.6,1034.0 778.1,1030.6 778.7,1043.4 779.2,1038.1 779.7,1039.8 780.2,1034.2 780.7,1029.3 781.3,1040.5 781.8,1027.8 782.3,1035.1 782.8,1033.8 783.4,1036.7 783.9,1038.9 784.4,1039.0 784.9,1028.3 785.5,1039.7 786.0,1029.2 786.5,1038.7 787.0,1034.7 787.5,1032.2 788.1,1034.5 788.6,1031.6 789.1,1036.5 789.6,1040.0 790.2,1039.6 790.7,1036.9 791.2,1040.8 791.7,1038.7 792.3,1044.8 792.8,1038.9 793.3,1034.8 793.8,1036.0 794.3,1034.3 794.9,1036.1 795.4,1036.7 795.9,1039.8 796.4,1040.2 797.0,1037.6 797.5,1039.0 798.0,1034.8 798.5,1035.5 799.1,1028.5 799.6,1034.7 800.1,1035.8 800.6,1047.0 801.1,1032.7 801.7,1037.9 802.2,1036.5 802.7,1032.0 803.2,1038.7 803.8,1037.9 804.3,1032.5 804.8,1029.4 805.3,1037.7 805.9,1032.7 806.4,1040.4 806.9,1037.0 807.4,1039.9 807.9,1036.9 808.5,1043.7 809.0,1040.6 809.5,1043.7 810.0,1038.6 810.6,1034.5 811.1,1033.0 811.6,1036.4 812.1,1039.3 812.7,1036.0 813.2,1047.2 813.7,1038.1 814.2,1040.0 814.7,1038.7 815.3,1033.8 815.8,1042.3 816.3,1040.8 816.8,1041.6 817.4,1035.1 817.9,1038.6 818.4,1038.4 818.9,1042.9 819.4,1033.6 820.0,1041.1 820.5,1043.3 821.0,1037.2 821.5,1035.8 822.1,1043.6 822.6,1039.7 823.1,1042.9 823.6,1041.6 824.2,1042.8 824.7,1038.3 825.2,1031.3 825.7,1041.2 826.2,1036.6 826.8,1041.3 827.3,1037.2 827.8,1045.0 828.3,1038.3 828.9,1042.2 829.4,1043.3 829.9,1039.0 830.4,1040.5 831.0,1039.3 831.5,1036.1 832.0,1044.8 832.5,1036.2 833.0,1033.9 833.6,1037.7 834.1,1040.1 834.6,1039.9 835.1,1038.4 835.7,1038.1 836.2,1032.0 836.7,1042.0 837.2,1046.1 837.8,1037.2 838.3,1033.4 838.8,1042.6 839.3,1039.3 839.8,1025.6 840.4,1037.3 840.9,1034.8 841.4,1035.8 841.9,1047.3 842.5,1043.7 843.0,1039.6 843.5,1040.3 844.0,1045.9 844.6,1036.3 845.1,1043.0 845.6,1038.0 846.1,1043.4 846.6,1041.2 847.2,1037.7 847.7,1044.2 848.2,1042.4 848.7,1047.0 849.3,1038.9 849.8,1040.9 850.3,1037.9 850.8,1044.8 851.4,1037.6 851.9,1040.3 852.4,1045.1 852.9,1042.2 853.4,1041.4 854.0,1041.3 854.5,1041.5 855.0,1042.6 855.5,1039.1 856.1,1033.0 856.6,1045.0 857.1,1036.4 857.6,1046.8 858.2,1041.2 858.7,1051.6 859.2,1044.3 859.7,1041.6 860.2,1043.4 860.8,1035.0 861.3,1040.6 861.8,1038.7 862.3,1040.0 862.9,1032.6 863.4,1032.0 863.9,1042.5 864.4,1040.1 865.0,1038.3 865.5,1039.5 866.0,1037.5 866.5,1038.1 867.0,1042.3 867.6,1039.0 868.1,1042.4 868.6,1037.3 869.1,1033.3 869.7,1037.5 870.2,1039.3 870.7,1035.8 871.2,1038.4 871.7,1038.0 872.3,1043.1 872.8,1042.8 873.3,1043.7 873.8,1037.1 874.4,1041.0 874.9,1044.4 875.4,1040.5 875.9,1039.6 876.5,1037.1 877.0,1042.8 877.5,1040.5 878.0,1043.4 878.5,1039.3 879.1,1047.3 879.6,1039.8 880.1,1035.5 880.6,1040.7 881.2,1041.7 881.7,1044.5 882.2,1038.3 882.7,1038.0 883.3,1039.0 883.8,1038.6 884.3,1032.5 884.8,1042.6 885.3,1044.5 885.9,1037.3 886.4,1036.5 886.9,1039.6 887.4,1037.2 888.0,1042.9 888.5,1037.9 889.0,1042.3 889.5,1035.7 890.1,1035.2 890.6,1034.7 891.1,1035.2 891.6,1041.7 892.1,1043.2 892.7,1040.8 893.2,1041.0 893.7,1032.5 894.2,1044.2 894.8,1036.0 895.3,1044.9 895.8,1048.9 896.3,1040.6 896.9,1042.6 897.4,1042.6 897.9,1035.8 898.4,1036.5 898.9,1038.0 899.5,1041.0 900.0,1043.4 900.5,1040.9 901.0,1044.4 901.6,1038.7 902.1,1035.6 902.6,1040.7 903.1,1040.4 903.7,1035.6 904.2,1044.2 904.7,1037.3 905.2,1038.1 905.7,1041.5 906.3,1036.9 906.8,1042.9 907.3,1042.1 907.8,1042.3 908.4,1040.8 908.9,1039.1 909.4,1038.2 909.9,1041.9 910.5,1045.6 911.0,1043.6 911.5,1042.2 912.0,1044.4 912.5,1045.6 913.1,1036.6 913.6,1040.9 914.1,1045.3 914.6,1038.8 915.2,1039.5 915.7,1043.3 916.2,1040.4 916.7,1045.4 917.3,1040.2 917.8,1043.4 918.3,1050.0 918.8,1045.3 919.3,1036.7 919.9,1037.8 920.4,1038.0 920.9,1041.3 921.4,1036.7 922.0,1043.5 922.5,1047.5 923.0,1047.0 923.5,1039.0 924.0,1040.7 924.6,1040.6 925.1,1038.9 925.6,1047.6 926.1,1039.4 926.7,1038.0 927.2,1043.1 927.7,1043.0 928.2,1047.1 928.8,1047.2 929.3,1041.3 929.8,1034.8 930.3,1044.3 930.8,1044.8 931.4,1048.2 931.9,1036.7 932.4,1038.1 932.9,1047.5 933.5,1047.8 934.0,1046.7 934.5,1042.2 935.0,1046.7 935.6,1040.4 936.1,1038.1 936.6,1042.2 937.1,1042.7 937.6,1045.2 938.2,1046.2 938.7,1036.5 939.2,1043.5 939.7,1044.2 940.3,1038.3 940.8,1041.7 941.3,1042.8 941.8,1044.2 942.4,1039.8 942.9,1040.7 943.4,1039.0 943.9,1043.9 944.4,1041.7 945.0,1040.8 945.5,1045.0 946.0,1042.3 946.5,1038.9 947.1,1046.8 947.6,1046.3 948.1,1044.5 948.6,1039.5 949.2,1046.8 949.7,1041.1 950.2,1036.8 950.7,1042.7 951.2,1049.2 951.8,1041.6 952.3,1045.2 952.8,1047.8 953.3,1043.8 953.9,1042.2 954.4,1043.3 954.9,1045.2 955.4,1041.6 956.0,1044.5 956.5,1045.2 957.0,1042.1 957.5,1045.8 958.0,1045.2 958.6,1042.3 959.1,1042.8 959.6,1043.8 960.1,1042.9 960.7,1042.8 961.2,1040.1 961.7,1043.8 962.2,1045.9 962.8,1045.6 963.3,1040.8 963.8,1045.4 964.3,1045.6 964.8,1040.5 965.4,1045.3 965.9,1043.0 966.4,1042.4 966.9,1044.4 967.5,1042.9 968.0,1036.3 968.5,1044.3 969.0,1040.0 969.6,1043.3 970.1,1045.9 970.6,1042.9 971.1,1042.2 971.6,1044.1 972.2,1045.3 972.7,1041.0 973.2,1041.6 973.7,1045.3 974.3,1048.9 974.8,1043.7 975.3,1046.6 975.8,1041.3 976.3,1043.8 976.9,1044.0 977.4,1039.6 977.9,1043.7 978.4,1043.1 979.0,1035.5 979.5,1043.5 980.0,1044.7 980.5,1044.5 981.1,1044.8 981.6,1040.1 982.1,1041.4 982.6,1043.1 983.1,1040.9 983.7,1042.2 984.2,1047.7 984.7,1040.9 985.2,1042.7 985.8,1049.7 986.3,1043.3 986.8,1040.6 987.3,1044.6 987.9,1044.4 988.4,1044.3 988.9,1038.5 989.4,1044.8 989.9,1045.1 990.5,1050.5 991.0,1046.1 991.5,1042.6 992.0,1045.0 992.6,1046.2 993.1,1043.6 993.6,1043.9 994.1,1048.5 994.7,1045.7 995.2,1045.8 995.7,1041.1 996.2,1045.6 996.7,1038.2 997.3,1048.2 997.8,1042.8 998.3,1046.3 998.8,1048.8 999.4,1040.9 999.9,1048.0 1000.4,1045.1 1000.9,1048.1 1001.5,1043.3 1002.0,1042.3 1002.5,1048.6 1003.0,1045.8 1003.5,1044.6 1004.1,1040.9 1004.6,1048.7 1005.1,1043.5 1005.6,1043.8 1006.2,1042.4 1006.7,1044.6 1007.2,1046.4 1007.7,1044.4 1008.3,1044.3 1008.8,1042.8 1009.3,1049.3 1009.8,1049.7 1010.3,1043.7 1010.9,1041.8 1011.4,1045.4 1011.9,1039.5 1012.4,1045.4 1013.0,1045.5 1013.5,1045.1 1014.0,1049.6 1014.5,1050.4 1015.1,1046.1 1015.6,1043.5 1016.1,1047.9 1016.6,1048.3 1017.1,1040.9 1017.7,1042.4 1018.2,1043.9 1018.7,1039.5 1019.2,1041.2 1019.8,1049.9 1020.3,1040.8 1020.8,1047.4 1021.3,1042.3 1021.9,1047.9 1022.4,1045.8 1022.9,1047.6 1023.4,1040.5 1023.9,1045.8 1024.5,1043.1 1025.0,1047.3 1025.5,1047.1 1026.0,1045.4 1026.6,1044.5 1027.1,1044.9 1027.6,1045.7 1028.1,1043.3 1028.6,1043.6 1029.2,1042.9 1029.7,1041.7 1030.2,1048.2 1030.7,1040.9 1031.3,1049.1 1031.8,1047.2 1032.3,1039.7 1032.8,1039.3 1033.4,1045.1 1033.9,1041.7 1034.4,1045.5 1034.9,1048.0 1035.4,1046.2 1036.0,1044.4 1036.5,1044.5 1037.0,1049.7 1037.5,1044.0 1038.1,1050.5 1038.6,1051.5 1039.1,1044.0 1039.6,1046.1 1040.2,1050.5 1040.7,1043.0 1041.2,1046.6 1041.7,1048.5 1042.2,1042.0 1042.8,1046.4 1043.3,1045.7 1043.8,1043.7 1044.3,1050.1 1044.9,1044.9 1045.4,1052.4 1045.9,1047.6 1046.4,1043.2 1047.0,1046.2 1047.5,1043.0 1048.0,1047.9 1048.5,1047.4 1049.0,1041.7 1049.6,1044.1 1050.1,1046.9 1050.6,1045.6 1051.1,1042.4 1051.7,1048.8 1052.2,1049.6 1052.7,1040.8 1053.2,1050.0 1053.8,1039.0 1054.3,1044.9 1054.8,1043.3 1055.3,1043.6 1055.8,1045.9 1056.4,1041.7 1056.9,1045.0 1057.4,1050.5 1057.9,1046.7 1058.5,1049.9 1059.0,1048.0 1059.5,1040.3 1060.0,1050.8 1060.6,1047.9 1061.1,1047.3 1061.6,1044.1 1062.1,1043.7 1062.6,1042.1 1063.2,1044.8 1063.7,1045.6 1064.2,1044.8 1064.7,1044.8 1065.3,1039.3 1065.8,1042.9 1066.3,1042.8 1066.8,1046.2 1067.4,1043.9 1067.9,1043.9 1068.4,1045.5 1068.9,1043.8 1069.4,1044.4 1070.0,1048.6 1070.5,1044.7 1071.0,1042.4 1071.5,1047.0 1072.1,1047.7 1072.6,1047.1 1073.1,1041.1 1073.6,1048.1 1074.2,1045.3 1074.7,1045.6 1075.2,1045.4 1075.7,1046.6 1076.2,1046.7 1076.8,1049.7 1077.3,1045.9 1077.8,1044.9 1078.3,1047.2 1078.9,1044.9 1079.4,1048.5 1079.9,1045.7 1080.4,1047.5 1080.9,1043.6 1081.5,1048.2 1082.0,1047.1 1082.5,1042.6 1083.0,1044.0 1083.6,1045.4 1084.1,1041.1 1084.6,1041.8 1085.1,1046.6 1085.7,1046.7 1086.2,1049.2 1086.7,1041.2 1087.2,1044.0 1087.7,1039.0 1088.3,1050.4 1088.8,1041.1 1089.3,1044.4 1089.8,1051.0 1090.4,1049.4 1090.9,1042.5 1091.4,1051.9 1091.9,1046.4 1092.5,1041.9 1093.0,1045.9 1093.5,1047.0 1094.0,1047.0 1094.5,1038.6 1095.1,1050.6 1095.6,1040.2 1096.1,1044.4 1096.6,1049.4 1097.2,1046.2 1097.7,1044.9 1098.2,1043.2 1098.7,1046.8 1099.3,1049.2 1099.8,1043.3 1100.3,1046.3 1100.8,1043.9 1101.3,1043.7 1101.9,1038.7 1102.4,1045.8 1102.9,1047.9 1103.4,1044.6 1104.0,1048.2 1104.5,1045.6 1105.0,1048.8 1105.5,1045.5 1106.1,1044.0 1106.6,1043.6 1107.1,1045.4 1107.6,1046.0 1108.1,1042.8 1108.7,1044.7 1109.2,1041.1 1109.7,1041.1 1110.2,1047.1 1110.8,1046.3 1111.3,1047.8 1111.8,1045.6 1112.3,1045.9 1112.9,1050.7 1113.4,1042.7 1113.9,1046.1 1114.4,1049.9 1114.9,1051.3 1115.5,1046.9 1116.0,1044.9 1116.5,1042.0 1117.0,1044.7 1117.6,1045.6 1118.1,1045.2 1118.6,1046.7 1119.1,1046.9 1119.7,1043.8 1120.2,1042.5 1120.7,1044.3 1121.2,1046.5 1121.7,1050.1 1122.3,1040.3 1122.8,1048.4 1123.3,1044.4 1123.8,1048.5 1124.4,1050.8 1124.9,1046.7 1125.4,1041.8 1125.9,1044.0 1126.5,1046.3 1127.0,1044.2 1127.5,1045.0 1128.0,1042.9 1128.5,1044.6 1129.1,1043.4 1129.6,1047.8 1130.1,1046.2 1130.6,1047.5 1131.2,1040.4 1131.7,1043.9 1132.2,1043.1 1132.7,1044.0 1133.2,1042.7 1133.8,1043.1 1134.3,1050.0 1134.8,1044.5 1135.3,1041.6 1135.9,1044.4 1136.4,1052.0 1136.9,1047.4 1137.4,1042.6 1138.0,1044.6 1138.5,1045.1 1139.0,1045.5 1139.5,1039.9 1140.0,1042.5 1140.6,1044.9 1141.1,1040.3 1141.6,1044.8 1142.1,1045.6 1142.7,1047.7 1143.2,1048.5 1143.7,1044.9 1144.2,1046.1 1144.8,1047.4 1145.3,1048.4 1145.8,1045.7 1146.3,1043.2 1146.8,1047.2 1147.4,1048.0 1147.9,1045.9 1148.4,1047.2 1148.9,1050.2 1149.5,1044.0 1150.0,1043.4 1150.5,1042.3 1151.0,1046.6 1151.6,1048.4 1152.1,1044.1 1152.6,1050.9 1153.1,1043.9 1153.6,1046.4 1154.2,1045.3 1154.7,1049.8 1155.2,1043.8 1155.7,1050.6 1156.3,1045.2 1156.8,1041.8 1157.3,1044.1 1157.8,1045.3 1158.4,1050.8 1158.9,1044.4 1159.4,1045.8 1159.9,1052.0 1160.4,1046.3 1161.0,1044.0 1161.5,1043.7 1162.0,1041.3 1162.5,1046.9 1163.1,1049.5 1163.6,1044.8 1164.1,1042.8 1164.6,1046.7 1165.2,1045.9 1165.7,1045.4 1166.2,1047.2 1166.7,1045.9 1167.2,1044.7 1167.8,1048.8 1168.3,1040.3 1168.8,1042.4 1169.3,1045.0 1169.9,1041.8 1170.4,1050.2 1170.9,1039.2 1171.4,1047.8 1172.0,1047.4 1172.5,1046.7 1173.0,1046.9 1173.5,1044.0 1174.0,1043.5 1174.6,1049.8 1175.1,1045.2 1175.6,1041.2 1176.1,1041.9 1176.7,1041.0 1177.2,1046.3 1177.7,1048.9 1178.2,1044.5 1178.8,1045.9 1179.3,1043.9 1179.8,1048.1 1180.3,1048.0 1180.8,1048.2 1181.4,1050.7 1181.9,1041.7 1182.4,1047.8 1182.9,1040.8 1183.5,1047.5 1184.0,1047.8 1184.5,1047.5 1185.0,1047.7 1185.5,1044.9 1186.1,1043.4 1186.6,1047.6 1187.1,1043.4 1187.6,1047.4 1188.2,1042.8 1188.7,1046.3 1189.2,1046.1 1189.7,1042.7 1190.3,1044.2 1190.8,1047.9 1191.3,1045.3 1191.8,1046.7 1192.3,1043.5 1192.9,1045.4 1193.4,1040.7 1193.9,1042.8 1194.4,1048.7 1195.0,1046.6 1195.5,1045.0 1196.0,1045.4 1196.5,1041.0 1197.1,1046.2 1197.6,1041.3 1198.1,1042.7 1198.6,1046.9 1199.1,1042.7 1199.7,1043.3 1200.2,1044.5 1200.7,1045.1 1201.2,1048.7 1201.8,1039.7 1202.3,1043.5 1202.8,1046.4 1203.3,1043.2 1203.9,1043.5 1204.4,1042.2 1204.9,1043.7 1205.4,1046.5 1205.9,1048.2 1206.5,1045.6 1207.0,1048.6 1207.5,1044.8 1208.0,1039.7 1208.6,1046.8 1209.1,1038.6 1209.6,1044.4 1210.1,1044.5 1210.7,1041.2 1211.2,1043.9 1211.7,1042.9 1212.2,1044.9 1212.7,1043.6 1213.3,1046.3 1213.8,1043.4 1214.3,1046.3 1214.8,1044.6 1215.4,1045.3 1215.9,1044.9 1216.4,1043.2 1216.9,1047.9 1217.5,1046.3 1218.0,1037.9 1218.5,1041.0 1219.0,1049.6 1219.5,1043.8 1220.1,1052.9 1220.6,1045.9 1221.1,1046.0 1221.6,1043.3 1222.2,1044.0 1222.7,1045.1 1223.2,1047.3 1223.7,1045.0 1224.3,1044.6 1224.8,1041.8 1225.3,1043.3 1225.8,1043.5 1226.3,1044.3 1226.9,1042.6 1227.4,1041.5 1227.9,1043.8 1228.4,1037.5 1229.0,1040.3 1229.5,1042.3 1230.0,1045.8 1230.5,1042.6 1231.1,1041.4 1231.6,1046.6 1232.1,1044.2 1232.6,1048.6 1233.1,1044.0 1233.7,1042.5 1234.2,1043.5 1234.7,1049.8 1235.2,1049.1 1235.8,1045.1 1236.3,1047.6 1236.8,1040.6 1237.3,1048.3 1237.8,1045.6 1238.4,1044.4 1238.9,1044.7 1239.4,1045.4 1239.9,1043.3 1240.5,1043.5 1241.0,1041.1 1241.5,1049.2 1242.0,1042.0 1242.6,1044.1 1243.1,1047.6 1243.6,1048.1 1244.1,1048.7 1244.6,1042.8 1245.2,1043.2 1245.7,1044.3 1246.2,1039.1 1246.7,1047.0 1247.3,1039.7 1247.8,1044.1 1248.3,1047.1 1248.8,1046.9 1249.4,1043.2 1249.9,1047.1 1250.4,1047.6 1250.9,1039.5 1251.4,1043.7 1252.0,1046.4 1252.5,1045.7 1253.0,1043.8 1253.5,1044.1 1254.1,1051.2 1254.6,1043.4 1255.1,1047.6 1255.6,1041.0 1256.2,1046.0 1256.7,1047.5 1257.2,1043.3 1257.7,1042.8 1258.2,1050.0 1258.8,1044.1 1259.3,1047.6 1259.8,1040.5 1260.3,1049.7 1260.9,1039.0 1261.4,1042.1 1261.9,1043.1 1262.4,1044.6 1263.0,1045.4 1263.5,1049.5 1264.0,1051.0 1264.5,1050.4 1265.0,1047.3 1265.6,1045.5 1266.1,1038.9 1266.6,1044.7 1267.1,1043.2 1267.7,1046.7 1268.2,1041.9 1268.7,1042.4 1269.2,1042.7 1269.8,1046.7 1270.3,1045.3 1270.8,1041.8 1271.3,1039.8 1271.8,1043.1 1272.4,1042.9 1272.9,1043.1 1273.4,1044.9 1273.9,1046.8 1274.5,1047.0 1275.0,1042.7 1275.5,1042.4 1276.0,1049.0 1276.6,1043.9 1277.1,1046.7 1277.6,1045.1 1278.1,1045.7 1278.6,1049.2 1279.2,1043.8 1279.7,1047.7 1280.2,1046.0 1280.7,1044.0 1281.3,1043.1 1281.8,1042.9 1282.3,1047.8 1282.8,1047.3 1283.4,1041.9 1283.9,1045.5 1284.4,1039.0 1284.9,1044.4 1285.4,1050.2 1286.0,1040.7 1286.5,1045.0 1287.0,1042.3 1287.5,1044.3 1288.1,1040.9 1288.6,1044.6 1289.1,1037.1 1289.6,1043.2 1290.1,1043.0 1290.7,1043.6 1291.2,1049.8 1291.7,1040.4 1292.2,1041.7 1292.8,1039.7 1293.3,1045.1 1293.8,1043.6 1294.3,1040.1 1294.9,1046.3 1295.4,1044.3 1295.9,1047.6 1296.4,1045.6 1296.9,1043.6 1297.5,1041.0 1298.0,1036.9 1298.5,1041.5 1299.0,1046.5 1299.6,1042.4 1300.1,1040.6 1300.6,1043.8 1301.1,1045.2 1301.7,1051.2 1302.2,1040.0 1302.7,1041.9 1303.2,1039.5 1303.7,1040.7 1304.3,1045.5 1304.8,1042.4 1305.3,1038.4 1305.8,1046.6 1306.4,1047.9 1306.9,1044.9 1307.4,1039.6 1307.9,1039.3 1308.5,1046.3 1309.0,1039.4 1309.5,1040.7 1310.0,1038.0 1310.5,1048.0 1311.1,1040.3 1311.6,1041.7 1312.1,1040.0 1312.6,1040.2 1313.2,1038.7 1313.7,1045.4 1314.2,1040.0 1314.7,1046.3 1315.3,1038.1 1315.8,1043.3 1316.3,1044.7 1316.8,1038.4 1317.3,1042.5 1317.9,1040.0 1318.4,1038.4 1318.9,1040.4 1319.4,1036.0 1320.0,1040.7 1320.5,1036.9 1321.0,1043.4 1321.5,1045.9 1322.1,1045.5 1322.6,1039.1 1323.1,1040.9 1323.6,1047.1 1324.1,1045.0 1324.7,1043.0 1325.2,1034.7 1325.7,1040.0 1326.2,1047.6 1326.8,1042.3 1327.3,1039.5 1327.8,1041.1 1328.3,1048.0 1328.9,1044.6 1329.4,1036.8 1329.9,1037.2 1330.4,1040.6 1330.9,1044.3 1331.5,1038.1 1332.0,1038.5 1332.5,1032.4 1333.0,1038.1 1333.6,1041.7 1334.1,1041.6 1334.6,1035.2 1335.1,1041.9 1335.7,1036.9 1336.2,1034.9 1336.7,1040.6 1337.2,1034.0 1337.7,1037.3 1338.3,1036.0 1338.8,1038.0 1339.3,1039.0 1339.8,1036.8 1340.4,1035.5 1340.9,1036.3 1341.4,1030.5 1341.9,1037.2 1342.4,1043.8 1343.0,1038.5 1343.5,1040.9 1344.0,1037.3 1344.5,1037.3 1345.1,1038.5 1345.6,1039.1 1346.1,1038.9 1346.6,1034.3 1347.2,1036.8 1347.7,1032.1 1348.2,1039.7 1348.7,1036.4 1349.2,1035.5 1349.8,1032.3 1350.3,1037.2 1350.8,1037.8 1351.3,1033.8 1351.9,1029.8 1352.4,1013.3 1352.9,998.4 1353.4,967.6 1354.0,927.9 1354.5,896.1 1355.0,868.1 1355.5,859.1 1356.0,870.0 1356.6,897.6 1357.1,936.5 1357.6,968.7 1358.1,997.9 1358.7,1017.7 1359.2,1025.1 1359.7,1027.6 1360.2,1033.6 1360.8,1033.9 1361.3,1031.6 1361.8,1034.8 1362.3,1038.3 1362.8,1037.3 1363.4,1039.0 1363.9,1038.4 1364.4,1034.7 1364.9,1034.1 1365.5,1030.6 1366.0,1037.5 1366.5,1032.0 1367.0,1035.4 1367.6,1038.7 1368.1,1033.9 1368.6,1028.9 1369.1,1030.2 1369.6,1032.2 1370.2,1037.2 1370.7,1032.1 1371.2,1032.6 1371.7,1029.6 1372.3,1033.9 1372.8,1033.0 1373.3,1035.1 1373.8,1029.6 1374.4,1034.3 1374.9,1028.0 1375.4,1030.2 1375.9,1030.5 1376.4,1031.4 1377.0,1033.2 1377.5,1024.7 1378.0,1031.5 1378.5,1030.5 1379.1,1027.5 1379.6,1030.6 1380.1,1032.8 1380.6,1029.9 1381.2,1029.7 1381.7,1033.3 1382.2,1028.8 1382.7,1034.3 1383.2,1032.1 1383.8,1032.2 1384.3,1032.6 1384.8,1034.6 1385.3,1028.4 1385.9,1034.1 1386.4,1027.8 1386.9,1031.6 1387.4,1032.2 1388.0,1030.7 1388.5,1026.8 1389.0,1026.4 1389.5,1026.7 1390.0,1029.8 1390.6,1030.4 1391.1,1031.6 1391.6,1025.1 1392.1,1030.7 1392.7,1032.8 1393.2,1030.1 1393.7,1029.5 1394.2,1031.9 1394.7,1034.2 1395.3,1033.9 1395.8,1033.9 1396.3,1025.3 1396.8,1033.5 1397.4,1028.1 1397.9,1031.6 1398.4,1027.1 1398.9,1030.0 1399.5,1027.0 1400.0,1027.8 1400.5,1034.5 1401.0,1024.8 1401.5,1031.4 1402.1,1028.5 1402.6,1024.8 1403.1,1032.2 1403.6,1028.2 1404.2,1026.3 1404.7,1028.9 1405.2,1025.3 1405.7,1032.8 1406.3,1023.0 1406.8,1025.9 1407.3,1021.2 1407.8,1028.0 1408.3,1029.6 1408.9,1029.8 1409.4,1031.6 1409.9,1026.7 1410.4,1025.1 1411.0,1029.2 1411.5,1024.3 1412.0,1027.0 1412.5,1024.4 1413.1,1023.4 1413.6,1025.2 1414.1,1028.6 1414.6,1027.7 1415.1,1025.1 1415.7,1016.4 1416.2,1024.2 1416.7,1025.1 1417.2,1025.4 1417.8,1021.2 1418.3,1026.3 1418.8,1023.9 1419.3,1016.8 1419.9,1024.7 1420.4,1027.1 1420.9,1022.7 1421.4,1019.1 1421.9,1026.9 1422.5,1024.1 1423.0,1015.2 1423.5,1023.8 1424.0,1021.5 1424.6,1020.9 1425.1,1014.4 1425.6,1014.4 1426.1,1019.9 1426.7,1025.0 1427.2,1019.4 1427.7,1018.9 1428.2,1016.5 1428.7,1017.0 1429.3,1021.2 1429.8,1015.4 1430.3,1023.3 1430.8,1018.8 1431.4,1018.1 1431.9,1016.5 1432.4,1014.4 1432.9,1015.6 1433.5,1011.7 1434.0,1016.1 1434.5,1009.8 1435.0,1022.2 1435.5,1015.0 1436.1,1010.2 1436.6,1015.4 1437.1,1014.7 1437.6,1012.4 1438.2,1014.6 1438.7,1011.0 1439.2,1012.8 1439.7,1012.3 1440.3,1014.1 1440.8,1010.5 1441.3,1012.8 1441.8,1002.8 1442.3,1014.5 1442.9,1011.3 1443.4,1012.1 1443.9,1009.2 1444.4,1012.3 1445.0,1009.0 1445.5,1009.3 1446.0,1008.5 1446.5,1006.1 1447.0,1004.5 1447.6,1008.5 1448.1,1008.4 1448.6,1005.8 1449.1,1009.3 1449.7,1005.4 1450.2,1006.0 1450.7,1007.4 1451.2,1005.6 1451.8,1002.3 1452.3,999.0 1452.8,999.4 1453.3,997.9 1453.8,1003.0 1454.4,989.0 1454.9,1005.6 1455.4,996.0 1455.9,1001.5 1456.5,998.4 1457.0,998.5 1457.5,992.2 1458.0,998.8 1458.6,994.7 1459.1,996.3 1459.6,990.8 1460.1,992.9 1460.6,990.0 1461.2,992.0 1461.7,991.2 1462.2,984.8 1462.7,980.2 1463.3,970.5 1463.8,957.4 1464.3,946.0 1464.8,938.6 1465.4,940.6 1465.9,947.0 1466.4,956.5 1466.9,966.8 1467.4,971.5 1468.0,975.4 1468.5,978.8 1469.0,972.5 1469.5,975.5 1470.1,976.4 1470.6,970.2 1471.1,971.1 1471.6,977.8 1472.2,980.3 1472.7,974.1 1473.2,974.7 1473.7,969.4 1474.2,975.6 1474.8,970.5 1475.3,970.0 1475.8,969.7 1476.3,965.0 1476.9,960.6 1477.4,953.7 1477.9,941.9 1478.4,938.1 1479.0,927.5 1479.5,928.4 1480.0,929.4 1480.5,928.3 1481.0,923.9 1481.6,916.7 1482.1,917.1 1482.6,911.8 1483.1,909.6 1483.7,914.4 1484.2,909.0 1484.7,908.2 1485.2,908.8 1485.8,910.2 1486.3,906.8 1486.8,904.6 1487.3,905.1 1487.8,902.1 1488.4,899.1 1488.9,890.6 1489.4,891.9 1489.9,891.4 1490.5,886.0 1491.0,892.7 1491.5,891.9 1492.0,887.6 1492.6,876.4 1493.1,875.2 1493.6,866.3 1494.1,861.9 1494.6,853.0 1495.2,858.4 1495.7,858.3 1496.2,852.6 1496.7,852.6 1497.3,840.9 1497.8,840.3 1498.3,839.6 1498.8,830.8 1499.3,831.5 1499.9,828.0 1500.4,831.4 1500.9,823.5 1501.4,825.9 1502.0,821.0 1502.5,822.9 1503.0,815.8 1503.5,814.0 1504.1,812.2 1504.6,805.9 1505.1,803.6 1505.6,800.7 1506.1,796.3 1506.7,794.9 1507.2,788.0 1507.7,786.7 1508.2,781.5 1508.8,776.5 1509.3,771.0 1509.8,764.5 1510.3,763.9 1510.9,763.6 1511.4,756.7 1511.9,758.2 1512.4,746.5 1512.9,744.3 1513.5,736.6 1514.0,740.9 1514.5,729.5 1515.0,731.1 1515.6,726.9 1516.1,730.4 1516.6,723.0 1517.1,718.0 1517.7,712.8 1518.2,715.1 1518.7,705.4 1519.2,700.0 1519.7,703.9 1520.3,698.7 1520.8,694.3 1521.3,695.2 1521.8,693.3 1522.4,684.6 1522.9,689.9 1523.4,690.6 1523.9,681.0 1524.5,675.2 1525.0,678.2 1525.5,674.7 1526.0,675.0 1526.5,673.1 1527.1,667.6 1527.6,670.2 1528.1,657.4 1528.6,658.8 1529.2,659.2 1529.7,657.6 1530.2,653.8 1530.7,653.2 1531.3,645.7 1531.8,640.4 1532.3,647.8 1532.8,647.2 1533.3,641.1 1533.9,635.4 1534.4,634.8 1534.9,636.8 1535.4,633.6 1536.0,635.1 1536.5,634.2 1537.0,631.1 1537.5,624.9 1538.1,627.0 1538.6,623.7 1539.1,621.1 1539.6,619.4 1540.1,617.0 1540.7,612.7 1541.2,615.5 1541.7,610.6 1542.2,611.5 1542.8,612.8 1543.3,611.5 1543.8,602.3 1544.3,604.9 1544.9,602.6 1545.4,605.8 1545.9,601.9 1546.4,606.3 1546.9,601.3 1547.5,603.5 1548.0,598.5 1548.5,598.8 1549.0,599.8 1549.6,601.7 1550.1,593.8 1550.6,600.3 1551.1,595.5 1551.6,600.6 1552.2,594.6 1552.7,599.0 1553.2,604.2 1553.7,605.3 1554.3,598.2 1554.8,606.9 1555.3,600.9 1555.8,602.9 1556.4,605.0 1556.9,604.5 1557.4,606.0 1557.9,606.3 1558.4,609.2 1559.0,608.2 1559.5,607.1 1560.0,606.4 1560.5,607.4 1561.1,611.5 1561.6,615.1 1562.1,615.1 1562.6,614.5 1563.2,618.1 1563.7,616.4 1564.2,620.0 1564.7,622.5 1565.2,621.4 1565.8,628.2 1566.3,629.1 1566.8,626.5 1567.3,630.9 1567.9,631.3 1568.4,633.5 1568.9,635.3 1569.4,640.1 1570.0,639.0 1570.5,640.8 1571.0,644.6 1571.5,646.5 1572.0,651.0 1572.6,645.3 1573.1,651.8 1573.6,646.2 1574.1,654.0 1574.7,652.1 1575.2,654.1 1575.7,659.8 1576.2,659.1 1576.8,663.6 1577.3,658.4 1577.8,673.0 1578.3,662.9 1578.8,671.3 1579.4,680.7 1579.9,673.6 1580.4,685.2 1580.9,685.6 1581.5,684.3 1582.0,685.7 1582.5,688.2 1583.0,692.2 1583.6,696.6 1584.1,700.0 1584.6,691.8 1585.1,703.2 1585.6,704.8 1586.2,701.8 1586.7,710.9 1587.2,713.9 1587.7,716.8 1588.3,716.9 1588.8,722.7 1589.3,727.3 1589.8,725.0 1590.4,729.0 1590.9,732.4 1591.4,741.5 1591.9,741.7 1592.4,743.3 1593.0,746.3 1593.5,749.6 1594.0,758.2 1594.5,764.1 1595.1,769.6 1595.6,766.8 1596.1,771.1 1596.6,775.4 1597.2,779.9 1597.7,782.1 1598.2,795.6 1598.7,796.6 1599.2,797.9 1599.8,795.9 1600.3,812.0 1600.8,814.4 1601.3,816.5 1601.9,822.4 1602.4,822.2 1602.9,830.4 1603.4,831.1 1603.9,839.1 1604.5,842.6 1605.0,844.7 1605.5,850.8 1606.0,862.2 1606.6,866.0 1607.1,865.2 1607.6,865.8 1608.1,868.4 1608.7,872.9 1609.2,869.9 1609.7,879.6 1610.2,876.9 1610.7,878.7 1611.3,884.7 1611.8,893.0 1612.3,887.5 1612.8,890.8 1613.4,890.7 1613.9,897.2 1614.4,899.3 1614.9,900.4 1615.5,901.0 1616.0,905.0 1616.5,908.0 1617.0,905.9 1617.5,908.2 1618.1,908.7 1618.6,910.7 1619.1,917.7 1619.6,912.7 1620.2,918.0 1620.7,922.3 1621.2,919.3 1621.7,924.4 1622.3,926.7 1622.8,921.8 1623.3,931.2 1623.8,927.1 1624.3,932.7 1624.9,930.0 1625.4,932.0 1625.9,938.5 1626.4,946.5 1627.0,951.6 1627.5,954.2 1628.0,951.9 1628.5,953.0 1629.1,953.4 1629.6,954.7 1630.1,953.0 1630.6,954.1 1631.1,958.2 1631.7,959.7 1632.2,957.6 1632.7,957.2 1633.2,959.8 1633.8,973.5 1634.3,962.3 1634.8,970.1 1635.3,970.5 1635.9,971.2 1636.4,967.1 1636.9,976.3 1637.4,972.0 1637.9,970.3 1638.5,970.9 1639.0,973.6 1639.5,981.5 1640.0,971.9 1640.6,974.6 1641.1,977.5 1641.6,979.8 1642.1,975.8 1642.7,976.8 1643.2,978.8 1643.7,983.3 1644.2,981.5 1644.7,982.0 1645.3,984.0 1645.8,984.4 1646.3,987.6 1646.8,983.1 1647.4,986.0 1647.9,984.6 1648.4,989.4 1648.9,990.3 1649.5,987.6 1650.0,992.5 1650.5,988.9 1651.0,994.3 1651.5,989.3 1652.1,989.7 1652.6,987.0 1653.1,988.9 1653.6,991.4 1654.2,986.5 1654.7,993.4 1655.2,996.6 1655.7,996.1 1656.2,995.5 1656.8,997.4 1657.3,994.0 1657.8,994.7 1658.3,999.2 1658.9,996.6 1659.4,1000.5 1659.9,996.3 1660.4,1000.3 1661.0,1002.4 1661.5,998.8 1662.0,1004.6 1662.5,1004.6 1663.0,992.7 1663.6,1008.7 1664.1,996.0 1664.6,1008.9 1665.1,998.9 1665.7,995.6 1666.2,998.3 1666.7,1004.3 1667.2,1000.1 1667.8,1001.8 1668.3,1007.7 1668.8,1001.2 1669.3,1006.2 1669.8,1009.0 1670.4,999.8 1670.9,1002.3 1671.4,1007.0 1671.9,1006.7 1672.5,1008.0 1673.0,1001.3 1673.5,1005.3 1674.0,1009.6 1674.6,1010.6 1675.1,1013.1 1675.6,1008.4 1676.1,1007.7 1676.6,1007.4 1677.2,1007.9 1677.7,1004.8 1678.2,1016.8 1678.7,1010.5 1679.3,1010.1 1679.8,1010.6 1680.3,1014.7 1680.8,1013.6 1681.4,1011.2 1681.9,1017.0 1682.4,1015.0 1682.9,1013.9 1683.4,1014.7 1684.0,1018.6 1684.5,1017.4 1685.0,1015.2 1685.5,1018.9 1686.1,1009.2 1686.6,1018.4 1687.1,1013.8 1687.6,1014.7 1688.2,1016.1 1688.7,1022.9 1689.2,1016.8 1689.7,1017.1 1690.2,1019.6 1690.8,1011.7 1691.3,1017.4 1691.8,1020.5 1692.3,1015.5 1692.9,1020.6 1693.4,1016.6 1693.9,1014.5 1694.4,1022.1 1695.0,1019.8 1695.5,1022.1 1696.0,1020.5 1696.5,1016.8 1697.0,1023.5 1697.6,1021.8 1698.1,1022.0 1698.6,1019.7 1699.1,1017.6 1699.7,1025.7 1700.2,1023.9 1700.7,1022.2 1701.2,1020.0 1701.8,1026.1 1702.3,1019.5 1702.8,1019.9 1703.3,1029.1 1703.8,1024.5 1704.4,1025.6 1704.9,1025.2 1705.4,1029.7 1705.9,1024.5 1706.5,1025.0 1707.0,1020.9 1707.5,1023.9 1708.0,1019.2 1708.5,1022.9 1709.1,1024.1 1709.6,1026.6 1710.1,1028.7 1710.6,1022.5 1711.2,1021.5 1711.7,1025.8 1712.2,1022.4 1712.7,1030.5 1713.3,1029.3 1713.8,1022.5 1714.3,1026.4 1714.8,1029.8 1715.3,1023.1 1715.9,1024.6 1716.4,1026.0 1716.9,1030.6 1717.4,1028.0 1718.0,1026.0 1718.5,1027.9 1719.0,1027.1 1719.5,1027.7 1720.1,1028.8 1720.6,1028.2 1721.1,1029.6 1721.6,1027.7 1722.1,1027.0 1722.7,1027.0 1723.2,1023.2 1723.7,1026.7 1724.2,1033.9 1724.8,1028.3 1725.3,1030.2 1725.8,1031.4 1726.3,1027.4 1726.9,1028.0 1727.4,1030.7 1727.9,1026.4 1728.4,1032.2 1728.9,1031.6 1729.5,1030.4 1730.0,1030.6 1730.5,1032.2 1731.0,1030.4 1731.6,1022.5 1732.1,1031.9 1732.6,1027.5 1733.1,1029.0 1733.7,1029.4 1734.2,1029.5 1734.7,1025.8 1735.2,1025.2 1735.7,1030.9 1736.3,1031.4 1736.8,1032.7 1737.3,1027.6 1737.8,1030.7 1738.4,1034.2 1738.9,1030.8 1739.4,1030.2 1739.9,1038.4 1740.5,1027.1 1741.0,1029.8 1741.5,1029.0 1742.0,1031.0 1742.5,1042.4 1743.1,1029.5 1743.6,1032.0 1744.1,1031.2 1744.6,1030.6 1745.2,1035.6 1745.7,1031.8 1746.2,1036.6 1746.7,1037.8 1747.3,1032.0 1747.8,1037.9 1748.3,1030.0 1748.8,1034.8 1749.3,1037.1 1749.9,1030.8 1750.4,1033.9 1750.9,1035.6 1751.4,1036.0 1752.0,1035.4 1752.5,1040.6 1753.0,1034.1 1753.5,1038.3 1754.1,1041.2 1754.6,1032.8 1755.1,1033.5 1755.6,1031.7 1756.1,1037.2 1756.7,1039.4 1757.2,1029.7 1757.7,1032.3 1758.2,1033.4 1758.8,1042.2 1759.3,1034.3 1759.8,1036.7 1760.3,1031.8 1760.8,1038.3 1761.4,1032.5 1761.9,1035.6 1762.4,1032.6 1762.9,1035.6 1763.5,1035.5 1764.0,1036.7 1764.5,1036.8 1765.0,1041.8 1765.6,1034.0 1766.1,1040.4 1766.6,1037.3 1767.1,1035.9 1767.6,1037.4 1768.2,1037.3 1768.7,1039.2 1769.2,1039.2 1769.7,1038.6 1770.3,1037.6 1770.8,1032.0 1771.3,1039.6 1771.8,1040.4 1772.4,1038.2 1772.9,1038.0 1773.4,1034.6 1773.9,1038.1 1774.4,1039.9 1775.0,1033.3 1775.5,1035.9 1776.0,1035.8 1776.5,1041.3 1777.1,1036.1 1777.6,1031.9 1778.1,1038.0 1778.6,1041.7 1779.2,1037.1 1779.7,1036.3 1780.2,1038.4 1780.7,1043.0 1781.2,1037.0 1781.8,1037.1 1782.3,1039.2 1782.8,1035.6 1783.3,1032.8 1783.9,1038.5 1784.4,1037.0 1784.9,1039.3 1785.4,1038.6 1786.0,1039.9 1786.5,1035.0 1787.0,1039.4 1787.5,1035.6 1788.0,1039.5 1788.6,1037.2 1789.1,1043.7 1789.6,1035.9 1790.1,1031.7 1790.7,1039.1 1791.2,1037.3 1791.7,1036.0 1792.2,1039.5 1792.8,1043.9 1793.3,1038.4 1793.8,1036.8 1794.3,1043.4 1794.8,1042.6 1795.4,1039.2 1795.9,1037.5 1796.4,1041.5 1796.9,1037.2 1797.5,1037.4 1798.0,1036.9 1798.5,1041.1 1799.0,1044.2 1799.6,1039.8 1800.1,1045.1 1800.6,1033.7 1801.1,1039.7 1801.6,1034.6 1802.2,1042.6 1802.7,1043.9 1803.2,1034.6 1803.7,1037.7 1804.3,1040.3 1804.8,1035.6 1805.3,1037.5 1805.8,1037.1 1806.4,1040.5 1806.9,1038.0 1807.4,1036.8 1807.9,1037.9 1808.4,1040.0 1809.0,1040.6 1809.5,1039.8 1810.0,1044.1 1810.5,1039.3 1811.1,1040.8 1811.6,1042.4 1812.1,1039.5 1812.6,1044.7 1813.1,1043.0 1813.7,1043.1 1814.2,1038.0 1814.7,1040.3 1815.2,1042.5 1815.8,1044.0 1816.3,1038.9 1816.8,1039.3 1817.3,1036.8 1817.9,1036.3 1818.4,1044.2 1818.9,1040.8 1819.4,1042.6 1819.9,1044.2 1820.5,1040.8 1821.0,1041.3 1821.5,1037.8 1822.0,1039.1 1822.6,1042.2 1823.1,1045.2 1823.6,1044.1 1824.1,1038.9 1824.7,1038.6 1825.2,1043.1 1825.7,1042.4 1826.2,1042.6 1826.7,1041.8 1827.3,1044.8 1827.8,1041.8 1828.3,1045.3 1828.8,1042.6 1829.4,1041.0 1829.9,1037.6 1830.4,1041.9 1830.9,1043.6 1831.5,1041.5 1832.0,1038.0 1832.5,1035.3"/></g>
<g shape-rendering="crispEdges" fill="#000"><rect x="262" y="25" width="1573" height="4"/><rect x="262" y="1088" width="1573" height="3"/><rect x="262" y="25" width="3" height="1066"/><rect x="1831" y="25" width="4" height="1066"/>
<rect x="262" y="1090" width="3" height="22" fill="#000"/>
<rect x="524" y="1090" width="3" height="22" fill="#000"/>
<rect x="785" y="1090" width="4" height="22" fill="#000"/>
<rect x="1047" y="1090" width="3" height="22" fill="#000"/>
<rect x="1308" y="1090" width="4" height="22" fill="#000"/>
<rect x="1570" y="1090" width="4" height="22" fill="#000"/>
<rect x="1831" y="1090" width="4" height="22" fill="#000"/></g>
<text transform="translate(263.5,1176.4) scale(1,1.04)" text-anchor="middle" font-size="66" font-weight="bold">20</text>
<text transform="translate(525.1,1176.4) scale(1,1.04)" text-anchor="middle" font-size="66" font-weight="bold">30</text>
<text transform="translate(786.7,1176.4) scale(1,1.04)" text-anchor="middle" font-size="66" font-weight="bold">40</text>
<text transform="translate(1048.2,1176.4) scale(1,1.04)" text-anchor="middle" font-size="66" font-weight="bold">50</text>
<text transform="translate(1309.8,1176.4) scale(1,1.04)" text-anchor="middle" font-size="66" font-weight="bold">60</text>
<text transform="translate(1571.4,1176.4) scale(1,1.04)" text-anchor="middle" font-size="66" font-weight="bold">70</text>
<text transform="translate(1833.0,1176.4) scale(1,1.04)" text-anchor="middle" font-size="66" font-weight="bold">80</text>
<text transform="translate(247.2,150.6) scale(1,1.035)" text-anchor="end" font-size="51" font-weight="bold">5000</text>
<text transform="translate(247.2,361.9) scale(1,1.035)" text-anchor="end" font-size="51" font-weight="bold">4000</text>
<text transform="translate(247.2,573.2) scale(1,1.035)" text-anchor="end" font-size="51" font-weight="bold">3000</text>
<text transform="translate(247.2,784.5) scale(1,1.035)" text-anchor="end" font-size="51" font-weight="bold">2000</text>
<text transform="translate(247.2,995.8) scale(1,1.035)" text-anchor="end" font-size="51" font-weight="bold">1000</text>
<text transform="translate(289.5,132.2) scale(1,1.045)" font-size="75" fill="#0000ff">300 W</text>
<text transform="translate(289.5,371.2) scale(1,1.045)" font-size="75" fill="#00ff00">200 W</text>
<text transform="translate(289.5,610) scale(1,1.045)" font-size="75" fill="#ff0000">100 W</text>
<text x="289.5" y="849.3" font-size="75" fill="#000">Si wafer</text>
<text transform="translate(108.8,984.5) rotate(-90)" font-size="132.5" font-weight="bold">Intensitiy (a.u.)</text>
<text transform="translate(697.6,1310.9) scale(1,1.025)" font-size="112" font-weight="bold">2Theta (Deg.)</text>
</svg>
</body></html>
